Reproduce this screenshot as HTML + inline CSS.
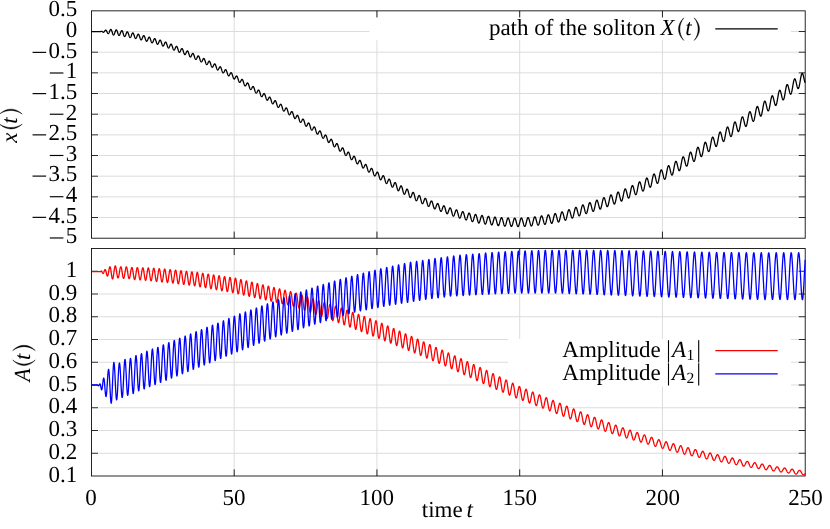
<!DOCTYPE html>
<html><head><meta charset="utf-8"><title>soliton</title>
<style>
html,body{margin:0;padding:0;background:#fff;}
body{width:830px;height:529px;overflow:hidden;font-family:"Liberation Serif",serif;}
svg{display:block;will-change:transform;}
svg text{text-rendering:geometricPrecision;}
</style></head>
<body>
<svg width="830" height="529" viewBox="0 0 830 529" font-family="'Liberation Serif', serif" font-size="23.0" fill="#000">
<rect width="830" height="529" fill="#fff"/>
<path d="M234.20,10.85V238.20M376.95,10.85V238.20M519.70,10.85V238.20M662.45,10.85V238.20M98.95,31.52H797.70M98.95,52.19H797.70M98.95,72.85H797.70M98.95,93.52H797.70M98.95,114.19H797.70M98.95,134.86H797.70M98.95,155.53H797.70M98.95,176.20H797.70M98.95,196.86H797.70M98.95,217.53H797.70" stroke="#dcdcdc" stroke-width="1.0" fill="none"/>
<rect x="369.4" y="17.2" width="421.60" height="23.00" fill="#fff"/>
<path d="M234.20,10.85v6.6M234.20,238.20v-6.6M376.95,10.85v6.6M376.95,238.20v-6.6M519.70,10.85v6.6M519.70,238.20v-6.6M662.45,10.85v6.6M662.45,238.20v-6.6M91.45,31.52h6.6M805.20,31.52h-6.6M91.45,52.19h6.6M805.20,52.19h-6.6M91.45,72.85h6.6M805.20,72.85h-6.6M91.45,93.52h6.6M805.20,93.52h-6.6M91.45,114.19h6.6M805.20,114.19h-6.6M91.45,134.86h6.6M805.20,134.86h-6.6M91.45,155.53h6.6M805.20,155.53h-6.6M91.45,176.20h6.6M805.20,176.20h-6.6M91.45,196.86h6.6M805.20,196.86h-6.6M91.45,217.53h6.6M805.20,217.53h-6.6" stroke="#000" stroke-width="0.85" fill="none"/>
<rect x="91.45" y="10.85" width="713.75" height="227.35" stroke="#000" stroke-width="0.85" fill="none"/>
<path d="M91.45,31.60 L91.65,31.60 L91.85,31.60 L92.05,31.60 L92.25,31.60 L92.45,31.60 L92.65,31.60 L92.85,31.60 L93.05,31.60 L93.25,31.60 L93.45,31.60 L93.65,31.60 L93.85,31.60 L94.05,31.60 L94.25,31.60 L94.45,31.60 L94.65,31.60 L94.85,31.60 L95.05,31.60 L95.25,31.60 L95.45,31.60 L95.65,31.60 L95.85,31.60 L96.05,31.60 L96.25,31.60 L96.45,31.60 L96.65,31.60 L96.85,31.60 L97.05,31.60 L97.25,31.60 L97.45,31.60 L97.65,31.60 L97.85,31.60 L98.05,31.60 L98.25,31.60 L98.45,31.60 L98.65,31.60 L98.85,31.60 L99.05,31.60 L99.25,31.60 L99.45,31.60 L99.65,31.60 L99.85,31.60 L100.05,31.55 L100.25,31.55 L100.45,31.55 L100.65,31.53 L100.85,31.47 L101.05,31.41 L101.25,31.36 L101.45,31.32 L101.65,31.33 L101.85,31.37 L102.05,31.46 L102.25,31.59 L102.45,31.74 L102.65,31.90 L102.85,32.05 L103.05,32.17 L103.25,32.24 L103.45,32.26 L103.65,32.21 L103.85,32.10 L104.05,31.92 L104.25,31.69 L104.45,31.42 L104.65,31.13 L104.85,30.84 L105.05,30.58 L105.25,30.37 L105.45,30.22 L105.65,30.15 L105.85,30.17 L106.05,30.28 L106.25,30.48 L106.45,30.77 L106.65,31.12 L106.85,31.52 L107.05,31.94 L107.25,32.36 L107.45,32.76 L107.65,33.11 L107.85,33.38 L108.05,33.55 L108.25,33.60 L108.45,33.53 L108.65,33.35 L108.85,33.07 L109.05,32.69 L109.25,32.24 L109.45,31.75 L109.65,31.24 L109.85,30.75 L110.05,30.29 L110.25,29.91 L110.45,29.62 L110.65,29.45 L110.85,29.41 L111.05,29.50 L111.25,29.73 L111.45,30.10 L111.65,30.57 L111.85,31.13 L112.05,31.77 L112.25,32.43 L112.45,33.07 L112.65,33.66 L112.85,34.18 L113.05,34.59 L113.25,34.88 L113.45,35.03 L113.65,35.03 L113.85,34.90 L114.05,34.63 L114.25,34.25 L114.45,33.77 L114.65,33.22 L114.85,32.63 L115.05,32.04 L115.25,31.46 L115.45,30.94 L115.65,30.50 L115.85,30.16 L116.05,29.94 L116.25,29.86 L116.45,29.91 L116.65,30.10 L116.85,30.42 L117.05,30.84 L117.25,31.36 L117.45,31.94 L117.65,32.56 L117.85,33.18 L118.05,33.77 L118.25,34.31 L118.45,34.77 L118.65,35.12 L118.85,35.35 L119.05,35.46 L119.25,35.42 L119.45,35.26 L119.65,34.97 L119.85,34.58 L120.05,34.11 L120.25,33.57 L120.45,33.01 L120.65,32.45 L120.85,31.92 L121.05,31.45 L121.25,31.07 L121.45,30.79 L121.65,30.64 L121.85,30.62 L122.05,30.74 L122.25,30.99 L122.45,31.36 L122.65,31.84 L122.85,32.40 L123.05,33.02 L123.25,33.66 L123.45,34.29 L123.65,34.89 L123.85,35.43 L124.05,35.88 L124.25,36.22 L124.45,36.43 L124.65,36.51 L124.85,36.45 L125.05,36.27 L125.25,35.96 L125.45,35.56 L125.65,35.07 L125.85,34.54 L126.05,33.99 L126.25,33.45 L126.45,32.95 L126.65,32.51 L126.85,32.17 L127.05,31.94 L127.25,31.84 L127.45,31.87 L127.65,32.03 L127.85,32.33 L128.05,32.73 L128.25,33.23 L128.45,33.80 L128.65,34.42 L128.85,35.05 L129.05,35.66 L129.25,36.22 L129.45,36.71 L129.65,37.11 L129.85,37.39 L130.05,37.54 L130.25,37.55 L130.45,37.44 L130.65,37.20 L130.85,36.85 L131.05,36.41 L131.25,35.90 L131.45,35.36 L131.65,34.81 L131.85,34.29 L132.05,33.82 L132.25,33.43 L132.45,33.13 L132.65,32.96 L132.85,32.92 L133.05,33.01 L133.25,33.23 L133.45,33.57 L133.65,34.01 L133.85,34.54 L134.05,35.12 L134.25,35.73 L134.45,36.35 L134.65,36.93 L134.85,37.45 L135.05,37.88 L135.25,38.22 L135.45,38.43 L135.65,38.51 L135.85,38.46 L136.05,38.29 L136.25,38.00 L136.45,37.62 L136.65,37.16 L136.85,36.66 L137.05,36.13 L137.25,35.62 L137.45,35.15 L137.65,34.74 L137.85,34.43 L138.05,34.23 L138.25,34.15 L138.45,34.20 L138.65,34.38 L138.85,34.69 L139.05,35.10 L139.25,35.61 L139.45,36.18 L139.65,36.79 L139.85,37.42 L140.05,38.02 L140.25,38.58 L140.45,39.06 L140.65,39.44 L140.85,39.71 L141.05,39.86 L141.25,39.87 L141.45,39.76 L141.65,39.53 L141.85,39.19 L142.05,38.77 L142.25,38.29 L142.45,37.78 L142.65,37.27 L142.85,36.79 L143.05,36.36 L143.25,36.01 L143.45,35.77 L143.65,35.64 L143.85,35.63 L144.05,35.76 L144.25,36.01 L144.45,36.37 L144.65,36.83 L144.85,37.37 L145.05,37.96 L145.25,38.58 L145.45,39.19 L145.65,39.76 L145.85,40.26 L146.05,40.69 L146.25,41.00 L146.45,41.20 L146.65,41.26 L146.85,41.20 L147.05,41.02 L147.25,40.73 L147.45,40.35 L147.65,39.90 L147.85,39.40 L148.05,38.90 L148.25,38.41 L148.45,37.97 L148.65,37.59 L148.85,37.32 L149.05,37.15 L149.25,37.11 L149.45,37.20 L149.65,37.42 L149.85,37.75 L150.05,38.19 L150.25,38.72 L150.45,39.30 L150.65,39.92 L150.85,40.54 L151.05,41.14 L151.25,41.68 L151.45,42.14 L151.65,42.50 L151.85,42.74 L152.05,42.85 L152.25,42.84 L152.45,42.69 L152.65,42.43 L152.85,42.07 L153.05,41.63 L153.25,41.14 L153.45,40.63 L153.65,40.12 L153.85,39.64 L154.05,39.23 L154.25,38.91 L154.45,38.69 L154.65,38.60 L154.85,38.63 L155.05,38.79 L155.25,39.08 L155.45,39.48 L155.65,39.97 L155.85,40.53 L156.05,41.13 L156.25,41.75 L156.45,42.35 L156.65,42.91 L156.85,43.40 L157.05,43.79 L157.25,44.07 L157.45,44.23 L157.65,44.25 L157.85,44.15 L158.05,43.94 L158.25,43.61 L158.45,43.20 L158.65,42.73 L158.85,42.23 L159.05,41.73 L159.25,41.25 L159.45,40.83 L159.65,40.49 L159.85,40.26 L160.05,40.14 L160.25,40.15 L160.45,40.29 L160.65,40.55 L160.85,40.94 L161.05,41.42 L161.25,41.98 L161.45,42.59 L161.65,43.23 L161.85,43.86 L162.05,44.45 L162.25,44.98 L162.45,45.42 L162.65,45.75 L162.85,45.96 L163.05,46.04 L163.25,45.99 L163.45,45.82 L163.65,45.54 L163.85,45.17 L164.05,44.73 L164.25,44.24 L164.45,43.75 L164.65,43.27 L164.85,42.84 L165.05,42.48 L165.25,42.22 L165.45,42.08 L165.65,42.05 L165.85,42.16 L166.05,42.40 L166.25,42.75 L166.45,43.21 L166.65,43.75 L166.85,44.36 L167.05,44.99 L167.25,45.63 L167.45,46.23 L167.65,46.79 L167.85,47.26 L168.05,47.63 L168.25,47.88 L168.45,48.00 L168.65,48.00 L168.85,47.87 L169.05,47.63 L169.25,47.28 L169.45,46.87 L169.65,46.40 L169.85,45.92 L170.05,45.44 L170.25,45.00 L170.45,44.62 L170.65,44.34 L170.85,44.16 L171.05,44.11 L171.25,44.18 L171.45,44.38 L171.65,44.71 L171.85,45.14 L172.05,45.66 L172.25,46.25 L172.45,46.88 L172.65,47.52 L172.85,48.14 L173.05,48.72 L173.25,49.22 L173.45,49.62 L173.65,49.91 L173.85,50.08 L174.05,50.12 L174.25,50.03 L174.45,49.82 L174.65,49.51 L174.85,49.12 L175.05,48.67 L175.25,48.20 L175.45,47.72 L175.65,47.27 L175.85,46.88 L176.05,46.58 L176.25,46.37 L176.45,46.29 L176.65,46.33 L176.85,46.49 L177.05,46.79 L177.25,47.19 L177.45,47.69 L177.65,48.27 L177.85,48.89 L178.05,49.53 L178.25,50.16 L178.45,50.75 L178.65,51.28 L178.85,51.71 L179.05,52.04 L179.25,52.25 L179.45,52.33 L179.65,52.28 L179.85,52.11 L180.05,51.83 L180.25,51.47 L180.45,51.04 L180.65,50.58 L180.85,50.11 L181.05,49.65 L181.25,49.25 L181.45,48.92 L181.65,48.69 L181.85,48.57 L182.05,48.58 L182.25,48.72 L182.45,48.98 L182.65,49.35 L182.85,49.83 L183.05,50.38 L183.25,51.00 L183.45,51.64 L183.65,52.27 L183.85,52.88 L184.05,53.43 L184.25,53.89 L184.45,54.25 L184.65,54.50 L184.85,54.62 L185.05,54.61 L185.25,54.48 L185.45,54.24 L185.65,53.90 L185.85,53.50 L186.05,53.05 L186.25,52.58 L186.45,52.12 L186.65,51.71 L186.85,51.36 L187.05,51.10 L187.25,50.96 L187.45,50.93 L187.65,51.03 L187.85,51.25 L188.05,51.60 L188.25,52.05 L188.45,52.59 L188.65,53.18 L188.85,53.82 L189.05,54.46 L189.25,55.08 L189.45,55.64 L189.65,56.14 L189.85,56.53 L190.05,56.81 L190.25,56.97 L190.45,57.00 L190.65,56.91 L190.85,56.71 L191.05,56.40 L191.25,56.02 L191.45,55.58 L191.65,55.12 L191.85,54.67 L192.05,54.24 L192.25,53.88 L192.45,53.60 L192.65,53.42 L192.85,53.36 L193.05,53.42 L193.25,53.61 L193.45,53.92 L193.65,54.35 L193.85,54.86 L194.05,55.44 L194.25,56.07 L194.45,56.71 L194.65,57.34 L194.85,57.92 L195.05,58.44 L195.25,58.86 L195.45,59.18 L195.65,59.38 L195.85,59.45 L196.05,59.40 L196.25,59.23 L196.45,58.96 L196.65,58.61 L196.85,58.19 L197.05,57.74 L197.25,57.28 L197.45,56.85 L197.65,56.47 L197.85,56.17 L198.05,55.96 L198.25,55.87 L198.45,55.90 L198.65,56.05 L198.85,56.33 L199.05,56.72 L199.25,57.21 L199.45,57.77 L199.65,58.38 L199.85,59.02 L200.05,59.66 L200.25,60.26 L200.45,60.80 L200.65,61.26 L200.85,61.61 L201.05,61.85 L201.25,61.97 L201.45,61.96 L201.65,61.83 L201.85,61.59 L202.05,61.26 L202.25,60.87 L202.45,60.43 L202.65,59.98 L202.85,59.54 L203.05,59.15 L203.25,58.83 L203.45,58.59 L203.65,58.47 L203.85,58.46 L204.05,58.58 L204.25,58.82 L204.45,59.18 L204.65,59.64 L204.85,60.18 L205.05,60.78 L205.25,61.41 L205.45,62.05 L205.65,62.66 L205.85,63.23 L206.05,63.71 L206.25,64.10 L206.45,64.38 L206.65,64.54 L206.85,64.57 L207.05,64.48 L207.25,64.29 L207.45,63.99 L207.65,63.62 L207.85,63.20 L208.05,62.76 L208.25,62.32 L208.45,61.92 L208.65,61.58 L208.85,61.32 L209.05,61.16 L209.25,61.12 L209.45,61.20 L209.65,61.40 L209.85,61.72 L210.05,62.15 L210.25,62.67 L210.45,63.25 L210.65,63.88 L210.85,64.51 L211.05,65.14 L211.25,65.72 L211.45,66.23 L211.65,66.66 L211.85,66.98 L212.05,67.18 L212.25,67.26 L212.45,67.21 L212.65,67.06 L212.85,66.80 L213.05,66.46 L213.25,66.06 L213.45,65.63 L213.65,65.20 L213.85,64.78 L214.05,64.43 L214.25,64.14 L214.45,63.95 L214.65,63.87 L214.85,63.91 L215.05,64.08 L215.25,64.36 L215.45,64.75 L215.65,65.24 L215.85,65.81 L216.05,66.42 L216.25,67.06 L216.45,67.69 L216.65,68.29 L216.85,68.83 L217.05,69.29 L217.25,69.65 L217.45,69.89 L217.65,70.02 L217.85,70.02 L218.05,69.91 L218.25,69.69 L218.45,69.38 L218.65,69.01 L218.85,68.59 L219.05,68.16 L219.25,67.75 L219.45,67.37 L219.65,67.07 L219.85,66.85 L220.05,66.73 L220.25,66.73 L220.45,66.86 L220.65,67.10 L220.85,67.46 L221.05,67.91 L221.25,68.45 L221.45,69.05 L221.65,69.68 L221.85,70.32 L222.05,70.93 L222.25,71.49 L222.45,71.99 L222.65,72.39 L222.85,72.68 L223.05,72.85 L223.25,72.90 L223.45,72.83 L223.65,72.66 L223.85,72.39 L224.05,72.05 L224.25,71.65 L224.45,71.23 L224.65,70.82 L224.85,70.43 L225.05,70.10 L225.25,69.85 L225.45,69.70 L225.65,69.66 L225.85,69.74 L226.05,69.94 L226.25,70.26 L226.45,70.68 L226.65,71.19 L226.85,71.77 L227.05,72.39 L227.25,73.03 L227.45,73.65 L227.65,74.24 L227.85,74.76 L228.05,75.20 L228.25,75.54 L228.45,75.76 L228.65,75.86 L228.85,75.85 L229.05,75.72 L229.25,75.49 L229.45,75.18 L229.65,74.81 L229.85,74.41 L230.05,74.00 L230.25,73.61 L230.45,73.26 L230.65,72.99 L230.85,72.80 L231.05,72.73 L231.25,72.76 L231.45,72.92 L231.65,73.20 L231.85,73.58 L232.05,74.06 L232.25,74.62 L232.45,75.23 L232.65,75.87 L232.85,76.50 L233.05,77.11 L233.25,77.67 L233.45,78.15 L233.65,78.54 L233.85,78.81 L234.05,78.98 L234.25,79.02 L234.45,78.95 L234.65,78.77 L234.85,78.50 L235.05,78.17 L235.25,77.79 L235.45,77.39 L235.65,76.99 L235.85,76.63 L236.05,76.33 L236.25,76.12 L236.45,76.00 L236.65,75.99 L236.85,76.10 L237.05,76.34 L237.25,76.68 L237.45,77.13 L237.65,77.66 L237.85,78.26 L238.05,78.90 L238.25,79.54 L238.45,80.18 L238.65,80.77 L238.85,81.30 L239.05,81.74 L239.25,82.07 L239.45,82.29 L239.65,82.40 L239.85,82.38 L240.05,82.25 L240.25,82.03 L240.45,81.72 L240.65,81.36 L240.85,80.97 L241.05,80.57 L241.25,80.19 L241.45,79.86 L241.65,79.61 L241.85,79.45 L242.05,79.39 L242.25,79.45 L242.45,79.64 L242.65,79.94 L242.85,80.35 L243.05,80.85 L243.25,81.43 L243.45,82.06 L243.65,82.71 L243.85,83.36 L244.05,83.99 L244.25,84.55 L244.45,85.04 L244.65,85.44 L244.85,85.72 L245.05,85.88 L245.25,85.92 L245.45,85.85 L245.65,85.67 L245.85,85.40 L246.05,85.06 L246.25,84.68 L246.45,84.28 L246.65,83.89 L246.85,83.53 L247.05,83.24 L247.25,83.03 L247.45,82.93 L247.65,82.93 L247.85,83.06 L248.05,83.31 L248.25,83.67 L248.45,84.13 L248.65,84.68 L248.85,85.29 L249.05,85.95 L249.25,86.61 L249.45,87.25 L249.65,87.86 L249.85,88.39 L250.05,88.84 L250.25,89.18 L250.45,89.41 L250.65,89.51 L250.85,89.50 L251.05,89.37 L251.25,89.14 L251.45,88.83 L251.65,88.47 L251.85,88.07 L252.05,87.67 L252.25,87.29 L252.45,86.96 L252.65,86.70 L252.85,86.54 L253.05,86.49 L253.25,86.55 L253.45,86.74 L253.65,87.04 L253.85,87.45 L254.05,87.96 L254.25,88.55 L254.45,89.19 L254.65,89.85 L254.85,90.51 L255.05,91.15 L255.25,91.72 L255.45,92.22 L255.65,92.62 L255.85,92.91 L256.05,93.08 L256.25,93.13 L256.45,93.06 L256.65,92.88 L256.85,92.61 L257.05,92.27 L257.25,91.88 L257.45,91.47 L257.65,91.07 L257.85,90.71 L258.05,90.40 L258.25,90.18 L258.45,90.06 L258.65,90.06 L258.85,90.17 L259.05,90.41 L259.25,90.77 L259.45,91.22 L259.65,91.77 L259.85,92.38 L260.05,93.04 L260.25,93.70 L260.45,94.36 L260.65,94.97 L260.85,95.52 L261.05,95.98 L261.25,96.33 L261.45,96.57 L261.65,96.69 L261.85,96.68 L262.05,96.56 L262.25,96.33 L262.45,96.03 L262.65,95.66 L262.85,95.25 L263.05,94.84 L263.25,94.45 L263.45,94.10 L263.65,93.82 L263.85,93.64 L264.05,93.56 L264.25,93.60 L264.45,93.77 L264.65,94.05 L264.85,94.45 L265.05,94.95 L265.25,95.53 L265.45,96.17 L265.65,96.83 L265.85,97.50 L266.05,98.15 L266.25,98.74 L266.45,99.26 L266.65,99.68 L266.85,99.99 L267.05,100.18 L267.25,100.25 L267.45,100.20 L267.65,100.04 L267.85,99.78 L268.05,99.44 L268.25,99.05 L268.45,98.64 L268.65,98.23 L268.85,97.84 L269.05,97.52 L269.25,97.27 L269.45,97.12 L269.65,97.09 L269.85,97.17 L270.05,97.38 L270.25,97.71 L270.45,98.15 L270.65,98.69 L270.85,99.29 L271.05,99.95 L271.25,100.62 L271.45,101.29 L271.65,101.92 L271.85,102.50 L272.05,102.99 L272.25,103.38 L272.45,103.65 L272.65,103.80 L272.85,103.83 L273.05,103.74 L273.25,103.54 L273.45,103.25 L273.65,102.89 L273.85,102.49 L274.05,102.07 L274.25,101.66 L274.45,101.29 L274.65,100.98 L274.85,100.76 L275.05,100.65 L275.25,100.65 L275.45,100.78 L275.65,101.03 L275.85,101.40 L276.05,101.87 L276.25,102.43 L276.45,103.06 L276.65,103.73 L276.85,104.41 L277.05,105.08 L277.25,105.70 L277.45,106.25 L277.65,106.72 L277.85,107.08 L278.05,107.32 L278.25,107.43 L278.45,107.42 L278.65,107.30 L278.85,107.07 L279.05,106.76 L279.25,106.38 L279.45,105.97 L279.65,105.55 L279.85,105.15 L280.05,104.79 L280.25,104.50 L280.45,104.31 L280.65,104.23 L280.85,104.27 L281.05,104.43 L281.25,104.71 L281.45,105.11 L281.65,105.61 L281.85,106.20 L282.05,106.84 L282.25,107.52 L282.45,108.21 L282.65,108.87 L282.85,109.48 L283.05,110.02 L283.25,110.46 L283.45,110.80 L283.65,111.01 L283.85,111.09 L284.05,111.06 L284.25,110.91 L284.45,110.66 L284.65,110.33 L284.85,109.94 L285.05,109.52 L285.25,109.10 L285.45,108.70 L285.65,108.36 L285.85,108.09 L286.05,107.92 L286.25,107.86 L286.45,107.93 L286.65,108.12 L286.85,108.43 L287.05,108.86 L287.25,109.38 L287.45,109.98 L287.65,110.64 L287.85,111.33 L288.05,112.02 L288.25,112.68 L288.45,113.28 L288.65,113.81 L288.85,114.23 L289.05,114.55 L289.25,114.74 L289.45,114.80 L289.65,114.75 L289.85,114.58 L290.05,114.31 L290.25,113.97 L290.45,113.57 L290.65,113.15 L290.85,112.73 L291.05,112.34 L291.25,112.00 L291.45,111.75 L291.65,111.60 L291.85,111.56 L292.05,111.64 L292.25,111.86 L292.45,112.19 L292.65,112.64 L292.85,113.18 L293.05,113.80 L293.25,114.46 L293.45,115.16 L293.65,115.85 L293.85,116.51 L294.05,117.11 L294.25,117.62 L294.45,118.04 L294.65,118.34 L294.85,118.52 L295.05,118.57 L295.25,118.50 L295.45,118.32 L295.65,118.04 L295.85,117.69 L296.05,117.29 L296.25,116.86 L296.45,116.44 L296.65,116.05 L296.85,115.72 L297.05,115.48 L297.25,115.34 L297.45,115.31 L297.65,115.41 L297.85,115.64 L298.05,115.98 L298.25,116.44 L298.45,116.99 L298.65,117.62 L298.85,118.30 L299.05,119.00 L299.25,119.69 L299.45,120.35 L299.65,120.95 L299.85,121.46 L300.05,121.88 L300.25,122.17 L300.45,122.34 L300.65,122.39 L300.85,122.31 L301.05,122.12 L301.25,121.84 L301.45,121.48 L301.65,121.08 L301.85,120.65 L302.05,120.23 L302.25,119.84 L302.45,119.52 L302.65,119.28 L302.85,119.14 L303.05,119.12 L303.25,119.22 L303.45,119.45 L303.65,119.80 L303.85,120.26 L304.05,120.82 L304.25,121.46 L304.45,122.14 L304.65,122.84 L304.85,123.54 L305.05,124.20 L305.25,124.81 L305.45,125.33 L305.65,125.74 L305.85,126.04 L306.05,126.21 L306.25,126.26 L306.45,126.19 L306.65,126.00 L306.85,125.72 L307.05,125.36 L307.25,124.95 L307.45,124.53 L307.65,124.10 L307.85,123.71 L308.05,123.39 L308.25,123.14 L308.45,123.00 L308.65,122.97 L308.85,123.07 L309.05,123.30 L309.25,123.65 L309.45,124.11 L309.65,124.67 L309.85,125.30 L310.05,125.99 L310.25,126.70 L310.45,127.40 L310.65,128.07 L310.85,128.68 L311.05,129.21 L311.25,129.64 L311.45,129.95 L311.65,130.14 L311.85,130.20 L312.05,130.13 L312.25,129.95 L312.45,129.68 L312.65,129.33 L312.85,128.93 L313.05,128.50 L313.25,128.07 L313.45,127.68 L313.65,127.34 L313.85,127.08 L314.05,126.93 L314.25,126.89 L314.45,126.98 L314.65,127.19 L314.85,127.53 L315.05,127.99 L315.25,128.54 L315.45,129.17 L315.65,129.85 L315.85,130.56 L316.05,131.28 L316.25,131.96 L316.45,132.58 L316.65,133.13 L316.85,133.58 L317.05,133.91 L317.25,134.12 L317.45,134.20 L317.65,134.15 L317.85,134.00 L318.05,133.74 L318.25,133.39 L318.45,133.00 L318.65,132.57 L318.85,132.14 L319.05,131.74 L319.25,131.39 L319.45,131.12 L319.65,130.94 L319.85,130.89 L320.05,130.95 L320.25,131.14 L320.45,131.46 L320.65,131.89 L320.85,132.43 L321.05,133.05 L321.25,133.73 L321.45,134.45 L321.65,135.16 L321.85,135.86 L322.05,136.51 L322.25,137.08 L322.45,137.55 L322.65,137.92 L322.85,138.16 L323.05,138.27 L323.25,138.26 L323.45,138.13 L323.65,137.89 L323.85,137.57 L324.05,137.19 L324.25,136.77 L324.45,136.34 L324.65,135.93 L324.85,135.56 L325.05,135.27 L325.25,135.07 L325.45,134.98 L325.65,135.02 L325.85,135.18 L326.05,135.47 L326.25,135.88 L326.45,136.39 L326.65,137.00 L326.85,137.67 L327.05,138.39 L327.25,139.12 L327.45,139.83 L327.65,140.50 L327.85,141.11 L328.05,141.62 L328.25,142.03 L328.45,142.32 L328.65,142.48 L328.85,142.51 L329.05,142.42 L329.25,142.22 L329.45,141.93 L329.65,141.56 L329.85,141.15 L330.05,140.72 L330.25,140.30 L330.45,139.92 L330.65,139.60 L330.85,139.37 L331.05,139.25 L331.25,139.24 L331.45,139.36 L331.65,139.60 L331.85,139.97 L332.05,140.46 L332.25,141.04 L332.45,141.69 L332.65,142.40 L332.85,143.13 L333.05,143.86 L333.25,144.56 L333.45,145.20 L333.65,145.75 L333.85,146.21 L334.05,146.55 L334.25,146.76 L334.45,146.85 L334.65,146.81 L334.85,146.65 L335.05,146.40 L335.25,146.06 L335.45,145.67 L335.65,145.24 L335.85,144.81 L336.05,144.41 L336.25,144.06 L336.45,143.78 L336.65,143.61 L336.85,143.54 L337.05,143.61 L337.25,143.79 L337.45,144.11 L337.65,144.54 L337.85,145.08 L338.05,145.71 L338.25,146.40 L338.45,147.12 L338.65,147.86 L338.85,148.58 L339.05,149.25 L339.25,149.85 L339.45,150.36 L339.65,150.76 L339.85,151.03 L340.05,151.18 L340.25,151.21 L340.45,151.11 L340.65,150.90 L340.85,150.60 L341.05,150.22 L341.25,149.81 L341.45,149.37 L341.65,148.95 L341.85,148.56 L342.05,148.24 L342.25,148.01 L342.45,147.88 L342.65,147.86 L342.85,147.98 L343.05,148.22 L343.25,148.59 L343.45,149.07 L343.65,149.65 L343.85,150.30 L344.05,151.01 L344.25,151.74 L344.45,152.47 L344.65,153.17 L344.85,153.82 L345.05,154.38 L345.25,154.85 L345.45,155.20 L345.65,155.42 L345.85,155.51 L346.05,155.48 L346.25,155.33 L346.45,155.08 L346.65,154.74 L346.85,154.34 L347.05,153.91 L347.25,153.47 L347.45,153.05 L347.65,152.68 L347.85,152.37 L348.05,152.17 L348.25,152.07 L348.45,152.10 L348.65,152.25 L348.85,152.53 L349.05,152.94 L349.25,153.45 L349.45,154.05 L349.65,154.72 L349.85,155.44 L350.05,156.17 L350.25,156.90 L350.45,157.58 L350.65,158.20 L350.85,158.74 L351.05,159.17 L351.25,159.48 L351.45,159.66 L351.65,159.71 L351.85,159.64 L352.05,159.46 L352.25,159.18 L352.45,158.82 L352.65,158.40 L352.85,157.96 L353.05,157.52 L353.25,157.10 L353.45,156.75 L353.65,156.46 L353.85,156.28 L354.05,156.21 L354.25,156.27 L354.45,156.45 L354.65,156.76 L354.85,157.19 L355.05,157.73 L355.25,158.35 L355.45,159.04 L355.65,159.76 L355.85,160.50 L356.05,161.21 L356.25,161.89 L356.45,162.50 L356.65,163.01 L356.85,163.42 L357.05,163.70 L357.25,163.86 L357.45,163.89 L357.65,163.80 L357.85,163.60 L358.05,163.30 L358.25,162.92 L358.45,162.50 L358.65,162.05 L358.85,161.60 L359.05,161.19 L359.25,160.84 L359.45,160.57 L359.65,160.40 L359.85,160.34 L360.05,160.41 L360.25,160.61 L360.45,160.93 L360.65,161.37 L360.85,161.92 L361.05,162.55 L361.25,163.24 L361.45,163.96 L361.65,164.70 L361.85,165.41 L362.05,166.08 L362.25,166.68 L362.45,167.19 L362.65,167.58 L362.85,167.86 L363.05,168.01 L363.25,168.02 L363.45,167.92 L363.65,167.71 L363.85,167.40 L364.05,167.01 L364.25,166.58 L364.45,166.13 L364.65,165.68 L364.85,165.26 L365.05,164.91 L365.25,164.63 L365.45,164.46 L365.65,164.40 L365.85,164.47 L366.05,164.66 L366.25,164.98 L366.45,165.42 L366.65,165.96 L366.85,166.59 L367.05,167.27 L367.25,168.00 L367.45,168.73 L367.65,169.44 L367.85,170.11 L368.05,170.71 L368.25,171.22 L368.45,171.62 L368.65,171.89 L368.85,172.04 L369.05,172.06 L369.25,171.96 L369.45,171.75 L369.65,171.44 L369.85,171.05 L370.05,170.62 L370.25,170.16 L370.45,169.70 L370.65,169.27 L370.85,168.90 L371.05,168.61 L371.25,168.42 L371.45,168.34 L371.65,168.39 L371.85,168.56 L372.05,168.86 L372.25,169.28 L372.45,169.80 L372.65,170.41 L372.85,171.09 L373.05,171.81 L373.25,172.54 L373.45,173.25 L373.65,173.92 L373.85,174.53 L374.05,175.05 L374.25,175.46 L374.45,175.75 L374.65,175.92 L374.85,175.96 L375.05,175.87 L375.25,175.67 L375.45,175.37 L375.65,174.99 L375.85,174.56 L376.05,174.09 L376.25,173.62 L376.45,173.18 L376.65,172.79 L376.85,172.47 L377.05,172.24 L377.25,172.13 L377.45,172.13 L377.65,172.27 L377.85,172.53 L378.05,172.91 L378.25,173.40 L378.45,173.99 L378.65,174.65 L378.85,175.36 L379.05,176.10 L379.25,176.82 L379.45,177.52 L379.65,178.15 L379.85,178.71 L380.05,179.16 L380.25,179.49 L380.45,179.70 L380.65,179.78 L380.85,179.72 L381.05,179.55 L381.25,179.27 L381.45,178.90 L381.65,178.46 L381.85,177.98 L382.05,177.48 L382.25,177.00 L382.45,176.56 L382.65,176.19 L382.85,175.91 L383.05,175.73 L383.25,175.68 L383.45,175.76 L383.65,175.97 L383.85,176.31 L384.05,176.77 L384.25,177.34 L384.45,177.99 L384.65,178.70 L384.85,179.45 L385.05,180.20 L385.25,180.93 L385.45,181.61 L385.65,182.22 L385.85,182.73 L386.05,183.12 L386.25,183.39 L386.45,183.52 L386.65,183.52 L386.85,183.39 L387.05,183.13 L387.25,182.78 L387.45,182.35 L387.65,181.86 L387.85,181.34 L388.05,180.82 L388.25,180.33 L388.45,179.89 L388.65,179.54 L388.85,179.29 L389.05,179.16 L389.25,179.17 L389.45,179.31 L389.65,179.58 L389.85,179.99 L390.05,180.51 L390.25,181.13 L390.45,181.83 L390.65,182.58 L390.85,183.35 L391.05,184.12 L391.25,184.85 L391.45,185.52 L391.65,186.10 L391.85,186.57 L392.05,186.92 L392.25,187.13 L392.45,187.20 L392.65,187.14 L392.85,186.94 L393.05,186.63 L393.25,186.22 L393.45,185.74 L393.65,185.21 L393.85,184.66 L394.05,184.12 L394.25,183.62 L394.45,183.19 L394.65,182.85 L394.85,182.63 L395.05,182.53 L395.25,182.57 L395.45,182.75 L395.65,183.07 L395.85,183.53 L396.05,184.09 L396.25,184.76 L396.45,185.49 L396.65,186.27 L396.85,187.06 L397.05,187.84 L397.25,188.58 L397.45,189.24 L397.65,189.81 L397.85,190.25 L398.05,190.57 L398.25,190.75 L398.45,190.78 L398.65,190.67 L398.85,190.43 L399.05,190.07 L399.25,189.62 L399.45,189.10 L399.65,188.54 L399.85,187.96 L400.05,187.40 L400.25,186.89 L400.45,186.45 L400.65,186.12 L400.85,185.90 L401.05,185.81 L401.25,185.88 L401.45,186.08 L401.65,186.43 L401.85,186.91 L402.05,187.51 L402.25,188.20 L402.45,188.96 L402.65,189.76 L402.85,190.57 L403.05,191.37 L403.25,192.11 L403.45,192.78 L403.65,193.34 L403.85,193.79 L404.05,194.09 L404.25,194.25 L404.45,194.26 L404.65,194.12 L404.85,193.86 L405.05,193.47 L405.25,193.00 L405.45,192.45 L405.65,191.87 L405.85,191.27 L406.05,190.70 L406.25,190.18 L406.45,189.74 L406.65,189.40 L406.85,189.18 L407.05,189.10 L407.25,189.16 L407.45,189.37 L407.65,189.72 L407.85,190.20 L408.05,190.80 L408.25,191.49 L408.45,192.25 L408.65,193.06 L408.85,193.87 L409.05,194.66 L409.25,195.40 L409.45,196.06 L409.65,196.63 L409.85,197.07 L410.05,197.38 L410.25,197.54 L410.45,197.56 L410.65,197.44 L410.85,197.18 L411.05,196.81 L411.25,196.34 L411.45,195.81 L411.65,195.23 L411.85,194.64 L412.05,194.06 L412.25,193.53 L412.45,193.08 L412.65,192.72 L412.85,192.48 L413.05,192.38 L413.25,192.41 L413.45,192.59 L413.65,192.92 L413.85,193.37 L414.05,193.94 L414.25,194.60 L414.45,195.34 L414.65,196.13 L414.85,196.93 L415.05,197.71 L415.25,198.46 L415.45,199.13 L415.65,199.71 L415.85,200.17 L416.05,200.51 L416.25,200.70 L416.45,200.75 L416.65,200.66 L416.85,200.43 L417.05,200.09 L417.25,199.65 L417.45,199.13 L417.65,198.55 L417.85,197.96 L418.05,197.38 L418.25,196.83 L418.45,196.35 L418.65,195.96 L418.85,195.67 L419.05,195.52 L419.25,195.50 L419.45,195.62 L419.65,195.88 L419.85,196.28 L420.05,196.80 L420.25,197.42 L420.45,198.12 L420.65,198.87 L420.85,199.66 L421.05,200.44 L421.25,201.19 L421.45,201.88 L421.65,202.48 L421.85,202.98 L422.05,203.36 L422.25,203.61 L422.45,203.71 L422.65,203.67 L422.85,203.49 L423.05,203.20 L423.25,202.79 L423.45,202.30 L423.65,201.74 L423.85,201.15 L424.05,200.56 L424.25,199.99 L424.45,199.47 L424.65,199.02 L424.85,198.68 L425.05,198.45 L425.25,198.35 L425.45,198.39 L425.65,198.57 L425.85,198.88 L426.05,199.32 L426.25,199.88 L426.45,200.52 L426.65,201.24 L426.85,202.00 L427.05,202.77 L427.25,203.53 L427.45,204.24 L427.65,204.89 L427.85,205.44 L428.05,205.89 L428.25,206.20 L428.45,206.38 L428.65,206.43 L428.85,206.33 L429.05,206.11 L429.25,205.76 L429.45,205.32 L429.65,204.80 L429.85,204.23 L430.05,203.64 L430.25,203.05 L430.45,202.49 L430.65,201.99 L430.85,201.57 L431.05,201.25 L431.25,201.06 L431.45,201.00 L431.65,201.07 L431.85,201.28 L432.05,201.63 L432.25,202.09 L432.45,202.66 L432.65,203.32 L432.85,204.03 L433.05,204.78 L433.25,205.54 L433.45,206.28 L433.65,206.97 L433.85,207.59 L434.05,208.11 L434.25,208.52 L434.45,208.80 L434.65,208.95 L434.85,208.96 L435.05,208.83 L435.25,208.58 L435.45,208.22 L435.65,207.76 L435.85,207.23 L436.05,206.66 L436.25,206.06 L436.45,205.47 L436.65,204.92 L436.85,204.43 L437.05,204.02 L437.25,203.72 L437.45,203.54 L437.65,203.48 L437.85,203.57 L438.05,203.79 L438.25,204.13 L438.45,204.60 L438.65,205.17 L438.85,205.82 L439.05,206.53 L439.25,207.27 L439.45,208.02 L439.65,208.74 L439.85,209.42 L440.05,210.02 L440.25,210.54 L440.45,210.94 L440.65,211.22 L440.85,211.36 L441.05,211.37 L441.25,211.24 L441.45,210.99 L441.65,210.62 L441.85,210.16 L442.05,209.63 L442.25,209.05 L442.45,208.45 L442.65,207.85 L442.85,207.29 L443.05,206.78 L443.25,206.36 L443.45,206.04 L443.65,205.84 L443.85,205.76 L444.05,205.83 L444.25,206.03 L444.45,206.37 L444.65,206.82 L444.85,207.39 L445.05,208.04 L445.25,208.75 L445.45,209.50 L445.65,210.26 L445.85,211.01 L446.05,211.71 L446.25,212.34 L446.45,212.88 L446.65,213.30 L446.85,213.61 L447.05,213.77 L447.25,213.80 L447.45,213.69 L447.65,213.44 L447.85,213.09 L448.05,212.63 L448.25,212.09 L448.45,211.49 L448.65,210.87 L448.85,210.24 L449.05,209.65 L449.25,209.10 L449.45,208.64 L449.65,208.28 L449.85,208.03 L450.05,207.92 L450.25,207.94 L450.45,208.11 L450.65,208.41 L450.85,208.84 L451.05,209.38 L451.25,210.02 L451.45,210.73 L451.65,211.49 L451.85,212.26 L452.05,213.03 L452.25,213.76 L452.45,214.42 L452.65,215.00 L452.85,215.47 L453.05,215.82 L453.25,216.03 L453.45,216.10 L453.65,216.03 L453.85,215.82 L454.05,215.48 L454.25,215.04 L454.45,214.50 L454.65,213.90 L454.85,213.26 L455.05,212.61 L455.25,211.97 L455.45,211.38 L455.65,210.85 L455.85,210.42 L456.05,210.11 L456.25,209.92 L456.45,209.87 L456.65,209.97 L456.85,210.21 L457.05,210.58 L457.25,211.07 L457.45,211.67 L457.65,212.36 L457.85,213.11 L458.05,213.89 L458.25,214.67 L458.45,215.43 L458.65,216.14 L458.85,216.77 L459.05,217.30 L459.25,217.72 L459.45,218.00 L459.65,218.13 L459.85,218.13 L460.05,217.97 L460.25,217.69 L460.45,217.28 L460.65,216.77 L460.85,216.18 L461.05,215.53 L461.25,214.85 L461.45,214.17 L461.65,213.52 L461.85,212.93 L462.05,212.42 L462.25,212.01 L462.45,211.73 L462.65,211.58 L462.85,211.58 L463.05,211.72 L463.25,212.01 L463.45,212.43 L463.65,212.97 L463.85,213.61 L464.05,214.33 L464.25,215.11 L464.45,215.90 L464.65,216.70 L464.85,217.46 L465.05,218.16 L465.25,218.77 L465.45,219.28 L465.65,219.65 L465.85,219.89 L466.05,219.99 L466.25,219.93 L466.45,219.73 L466.65,219.40 L466.85,218.95 L467.05,218.39 L467.25,217.76 L467.45,217.08 L467.65,216.37 L467.85,215.68 L468.05,215.02 L468.25,214.42 L468.45,213.91 L468.65,213.51 L468.85,213.24 L469.05,213.11 L469.25,213.13 L469.45,213.29 L469.65,213.61 L469.85,214.05 L470.05,214.62 L470.25,215.28 L470.45,216.03 L470.65,216.82 L470.85,217.63 L471.05,218.43 L471.25,219.20 L471.45,219.89 L471.65,220.50 L471.85,221.00 L472.05,221.36 L472.25,221.59 L472.45,221.66 L472.65,221.58 L472.85,221.35 L473.05,220.99 L473.25,220.51 L473.45,219.93 L473.65,219.27 L473.85,218.56 L474.05,217.82 L474.25,217.10 L474.45,216.41 L474.65,215.80 L474.85,215.27 L475.05,214.85 L475.25,214.57 L475.45,214.42 L475.65,214.43 L475.85,214.59 L476.05,214.90 L476.25,215.35 L476.45,215.92 L476.65,216.59 L476.85,217.33 L477.05,218.13 L477.25,218.95 L477.45,219.77 L477.65,220.54 L477.85,221.25 L478.05,221.87 L478.25,222.37 L478.45,222.74 L478.65,222.97 L478.85,223.04 L479.05,222.96 L479.25,222.73 L479.45,222.36 L479.65,221.87 L479.85,221.27 L480.05,220.60 L480.25,219.87 L480.45,219.12 L480.65,218.37 L480.85,217.66 L481.05,217.01 L481.25,216.45 L481.45,216.00 L481.65,215.68 L481.85,215.51 L482.05,215.48 L482.25,215.61 L482.45,215.89 L482.65,216.31 L482.85,216.85 L483.05,217.50 L483.25,218.23 L483.45,219.02 L483.65,219.84 L483.85,220.65 L484.05,221.43 L484.25,222.16 L484.45,222.79 L484.65,223.32 L484.85,223.72 L485.05,223.98 L485.25,224.09 L485.45,224.04 L485.65,223.85 L485.85,223.51 L486.05,223.05 L486.25,222.47 L486.45,221.81 L486.65,221.08 L486.85,220.33 L487.05,219.57 L487.25,218.83 L487.45,218.15 L487.65,217.55 L487.85,217.06 L488.05,216.69 L488.25,216.45 L488.45,216.37 L488.65,216.44 L488.85,216.66 L489.05,217.02 L489.25,217.51 L489.45,218.12 L489.65,218.82 L489.85,219.58 L490.05,220.39 L490.25,221.20 L490.45,222.00 L490.65,222.75 L490.85,223.42 L491.05,223.99 L491.25,224.44 L491.45,224.76 L491.65,224.93 L491.85,224.95 L492.05,224.82 L492.25,224.54 L492.45,224.12 L492.65,223.59 L492.85,222.96 L493.05,222.25 L493.25,221.50 L493.45,220.73 L493.65,219.97 L493.85,219.25 L494.05,218.60 L494.25,218.04 L494.45,217.59 L494.65,217.28 L494.85,217.11 L495.05,217.09 L495.25,217.22 L495.45,217.50 L495.65,217.92 L495.85,218.46 L496.05,219.10 L496.25,219.83 L496.45,220.61 L496.65,221.42 L496.85,222.23 L497.05,223.01 L497.25,223.72 L497.45,224.36 L497.65,224.88 L497.85,225.28 L498.05,225.54 L498.25,225.65 L498.45,225.61 L498.65,225.42 L498.85,225.08 L499.05,224.62 L499.25,224.04 L499.45,223.38 L499.65,222.65 L499.85,221.88 L500.05,221.10 L500.25,220.35 L500.45,219.64 L500.65,219.01 L500.85,218.47 L501.05,218.06 L501.25,217.78 L501.45,217.64 L501.65,217.66 L501.85,217.83 L502.05,218.14 L502.25,218.59 L502.45,219.16 L502.65,219.82 L502.85,220.56 L503.05,221.35 L503.25,222.15 L503.45,222.95 L503.65,223.71 L503.85,224.41 L504.05,225.01 L504.25,225.50 L504.45,225.87 L504.65,226.09 L504.85,226.16 L505.05,226.09 L505.25,225.86 L505.45,225.49 L505.65,225.00 L505.85,224.39 L506.05,223.71 L506.25,222.96 L506.45,222.18 L506.65,221.39 L506.85,220.63 L507.05,219.92 L507.25,219.29 L507.45,218.77 L507.65,218.36 L507.85,218.09 L508.05,217.96 L508.25,217.99 L508.45,218.16 L508.65,218.48 L508.85,218.94 L509.05,219.51 L509.25,220.17 L509.45,220.91 L509.65,221.70 L509.85,222.50 L510.05,223.30 L510.25,224.05 L510.45,224.74 L510.65,225.34 L510.85,225.83 L511.05,226.19 L511.25,226.41 L511.45,226.48 L511.65,226.39 L511.85,226.16 L512.05,225.79 L512.25,225.29 L512.45,224.69 L512.65,224.00 L512.85,223.24 L513.05,222.46 L513.25,221.66 L513.45,220.89 L513.65,220.17 L513.85,219.53 L514.05,218.99 L514.25,218.57 L514.45,218.28 L514.65,218.14 L514.85,218.14 L515.05,218.30 L515.25,218.60 L515.45,219.03 L515.65,219.59 L515.85,220.24 L516.05,220.97 L516.25,221.74 L516.45,222.54 L516.65,223.33 L516.85,224.09 L517.05,224.78 L517.25,225.39 L517.45,225.89 L517.65,226.26 L517.85,226.49 L518.05,226.57 L518.25,226.51 L518.45,226.29 L518.65,225.93 L518.85,225.45 L519.05,224.85 L519.25,224.16 L519.45,223.41 L519.65,222.61 L519.85,221.81 L520.05,221.02 L520.25,220.27 L520.45,219.60 L520.65,219.02 L520.85,218.55 L521.05,218.22 L521.25,218.03 L521.45,217.98 L521.65,218.09 L521.85,218.35 L522.05,218.74 L522.25,219.26 L522.45,219.88 L522.65,220.58 L522.85,221.34 L523.05,222.13 L523.25,222.93 L523.45,223.69 L523.65,224.41 L523.85,225.04 L524.05,225.58 L524.25,225.99 L524.45,226.27 L524.65,226.40 L524.85,226.38 L525.05,226.21 L525.25,225.89 L525.45,225.44 L525.65,224.87 L525.85,224.21 L526.05,223.46 L526.25,222.67 L526.45,221.85 L526.65,221.04 L526.85,220.26 L527.05,219.54 L527.25,218.91 L527.45,218.38 L527.65,217.98 L527.85,217.72 L528.05,217.60 L528.25,217.64 L528.45,217.83 L528.65,218.15 L528.85,218.61 L529.05,219.18 L529.25,219.85 L529.45,220.59 L529.65,221.37 L529.85,222.16 L530.05,222.94 L530.25,223.68 L530.45,224.35 L530.65,224.94 L530.85,225.40 L531.05,225.74 L531.25,225.94 L531.45,225.99 L531.65,225.88 L531.85,225.62 L532.05,225.22 L532.25,224.70 L532.45,224.06 L532.65,223.33 L532.85,222.54 L533.05,221.70 L533.25,220.86 L533.45,220.04 L533.65,219.26 L533.85,218.55 L534.05,217.94 L534.25,217.44 L534.45,217.08 L534.65,216.86 L534.85,216.79 L535.05,216.88 L535.25,217.11 L535.45,217.49 L535.65,217.99 L535.85,218.59 L536.05,219.29 L536.25,220.05 L536.45,220.84 L536.65,221.63 L536.85,222.41 L537.05,223.13 L537.25,223.78 L537.45,224.33 L537.65,224.76 L537.85,225.05 L538.05,225.20 L538.25,225.20 L538.45,225.05 L538.65,224.74 L538.85,224.30 L539.05,223.73 L539.25,223.06 L539.45,222.30 L539.65,221.48 L539.85,220.63 L540.05,219.78 L540.25,218.96 L540.45,218.18 L540.65,217.49 L540.85,216.90 L541.05,216.43 L541.25,216.09 L541.45,215.90 L541.65,215.87 L541.85,215.99 L542.05,216.25 L542.25,216.66 L542.45,217.18 L542.65,217.81 L542.85,218.53 L543.05,219.30 L543.25,220.10 L543.45,220.90 L543.65,221.67 L543.85,222.39 L544.05,223.03 L544.25,223.56 L544.45,223.97 L544.65,224.25 L544.85,224.38 L545.05,224.35 L545.25,224.17 L545.45,223.84 L545.65,223.37 L545.85,222.78 L546.05,222.08 L546.25,221.31 L546.45,220.47 L546.65,219.61 L546.85,218.75 L547.05,217.91 L547.25,217.13 L547.45,216.43 L547.65,215.84 L547.85,215.36 L548.05,215.03 L548.25,214.84 L548.45,214.81 L548.65,214.93 L548.85,215.20 L549.05,215.61 L549.25,216.14 L549.45,216.77 L549.65,217.49 L549.85,218.27 L550.05,219.07 L550.25,219.87 L550.45,220.65 L550.65,221.37 L550.85,222.01 L551.05,222.55 L551.25,222.96 L551.45,223.23 L551.65,223.36 L551.85,223.33 L552.05,223.15 L552.25,222.82 L552.45,222.34 L552.65,221.75 L552.85,221.04 L553.05,220.26 L553.25,219.41 L553.45,218.53 L553.65,217.65 L553.85,216.80 L554.05,216.00 L554.25,215.28 L554.45,214.65 L554.65,214.16 L554.85,213.79 L555.05,213.58 L555.25,213.52 L555.45,213.62 L555.65,213.86 L555.85,214.25 L556.05,214.76 L556.25,215.38 L556.45,216.09 L556.65,216.85 L556.85,217.65 L557.05,218.46 L557.25,219.24 L557.45,219.97 L557.65,220.62 L557.85,221.17 L558.05,221.60 L558.25,221.90 L558.45,222.04 L558.65,222.04 L558.85,221.87 L559.05,221.55 L559.25,221.09 L559.45,220.50 L559.65,219.80 L559.85,219.01 L560.05,218.15 L560.25,217.26 L560.45,216.35 L560.65,215.47 L560.85,214.63 L561.05,213.86 L561.25,213.19 L561.45,212.64 L561.65,212.22 L561.85,211.94 L562.05,211.82 L562.25,211.86 L562.45,212.05 L562.65,212.39 L562.85,212.85 L563.05,213.43 L563.25,214.11 L563.45,214.85 L563.65,215.64 L563.85,216.44 L564.05,217.23 L564.25,217.97 L564.45,218.65 L564.65,219.23 L564.85,219.70 L565.05,220.03 L565.25,220.22 L565.45,220.26 L565.65,220.14 L565.85,219.86 L566.05,219.44 L566.25,218.88 L566.45,218.20 L566.65,217.42 L566.85,216.57 L567.05,215.67 L567.25,214.74 L567.45,213.82 L567.65,212.94 L567.85,212.12 L568.05,211.39 L568.25,210.77 L568.45,210.27 L568.65,209.92 L568.85,209.72 L569.05,209.68 L569.25,209.79 L569.45,210.06 L569.65,210.46 L569.85,210.99 L570.05,211.62 L570.25,212.33 L570.45,213.10 L570.65,213.90 L570.85,214.70 L571.05,215.46 L571.25,216.18 L571.45,216.81 L571.65,217.34 L571.85,217.74 L572.05,218.01 L572.25,218.12 L572.45,218.08 L572.65,217.88 L572.85,217.52 L573.05,217.02 L573.25,216.40 L573.45,215.66 L573.65,214.83 L573.85,213.94 L574.05,213.01 L574.25,212.07 L574.45,211.15 L574.65,210.27 L574.85,209.47 L575.05,208.77 L575.25,208.19 L575.45,207.74 L575.65,207.45 L575.85,207.30 L576.05,207.32 L576.25,207.49 L576.45,207.80 L576.65,208.26 L576.85,208.83 L577.05,209.50 L577.25,210.24 L577.45,211.03 L577.65,211.84 L577.85,212.64 L578.05,213.40 L578.25,214.09 L578.45,214.70 L578.65,215.19 L578.85,215.55 L579.05,215.77 L579.25,215.84 L579.45,215.75 L579.65,215.49 L579.85,215.09 L580.05,214.55 L580.25,213.88 L580.45,213.11 L580.65,212.25 L580.85,211.34 L581.05,210.39 L581.25,209.45 L581.45,208.53 L581.65,207.67 L581.85,206.88 L582.05,206.21 L582.25,205.65 L582.45,205.24 L582.65,204.97 L582.85,204.87 L583.05,204.92 L583.25,205.13 L583.45,205.49 L583.65,205.98 L583.85,206.58 L584.05,207.28 L584.25,208.04 L584.45,208.85 L584.65,209.67 L584.85,210.48 L585.05,211.24 L585.25,211.93 L585.45,212.53 L585.65,213.01 L585.85,213.36 L586.05,213.56 L586.25,213.61 L586.45,213.49 L586.65,213.22 L586.85,212.80 L587.05,212.24 L587.25,211.55 L587.45,210.76 L587.65,209.89 L587.85,208.96 L588.05,208.01 L588.25,207.06 L588.45,206.14 L588.65,205.28 L588.85,204.50 L589.05,203.83 L589.25,203.28 L589.45,202.88 L589.65,202.63 L589.85,202.53 L590.05,202.60 L590.25,202.82 L590.45,203.19 L590.65,203.69 L590.85,204.31 L591.05,205.02 L591.25,205.79 L591.45,206.61 L591.65,207.44 L591.85,208.25 L592.05,209.02 L592.25,209.72 L592.45,210.32 L592.65,210.81 L592.85,211.16 L593.05,211.36 L593.25,211.40 L593.45,211.29 L593.65,211.02 L593.85,210.59 L594.05,210.02 L594.25,209.33 L594.45,208.53 L594.65,207.65 L594.85,206.72 L595.05,205.76 L595.25,204.79 L595.45,203.86 L595.65,202.98 L595.85,202.19 L596.05,201.50 L596.25,200.94 L596.45,200.52 L596.65,200.25 L596.85,200.15 L597.05,200.20 L597.25,200.41 L597.45,200.77 L597.65,201.26 L597.85,201.87 L598.05,202.57 L598.25,203.35 L598.45,204.17 L598.65,205.01 L598.85,205.83 L599.05,206.61 L599.25,207.32 L599.45,207.94 L599.65,208.45 L599.85,208.82 L600.05,209.05 L600.25,209.11 L600.45,209.02 L600.65,208.77 L600.85,208.36 L601.05,207.81 L601.25,207.12 L601.45,206.33 L601.65,205.46 L601.85,204.52 L602.05,203.54 L602.25,202.57 L602.45,201.61 L602.65,200.71 L602.85,199.89 L603.05,199.16 L603.25,198.57 L603.45,198.10 L603.65,197.80 L603.85,197.65 L604.05,197.66 L604.25,197.83 L604.45,198.15 L604.65,198.62 L604.85,199.20 L605.05,199.89 L605.25,200.65 L605.45,201.47 L605.65,202.31 L605.85,203.14 L606.05,203.94 L606.25,204.68 L606.45,205.33 L606.65,205.88 L606.85,206.29 L607.05,206.56 L607.25,206.67 L607.45,206.62 L607.65,206.41 L607.85,206.04 L608.05,205.52 L608.25,204.87 L608.45,204.10 L608.65,203.23 L608.85,202.30 L609.05,201.32 L609.25,200.32 L609.45,199.34 L609.65,198.41 L609.85,197.54 L610.05,196.76 L610.25,196.11 L610.45,195.58 L610.65,195.21 L610.85,194.99 L611.05,194.94 L611.25,195.05 L611.45,195.31 L611.65,195.72 L611.85,196.26 L612.05,196.91 L612.25,197.65 L612.45,198.45 L612.65,199.29 L612.85,200.13 L613.05,200.96 L613.25,201.73 L613.45,202.42 L613.65,203.01 L613.85,203.48 L614.05,203.82 L614.25,203.99 L614.45,204.01 L614.65,203.87 L614.85,203.56 L615.05,203.10 L615.25,202.50 L615.45,201.77 L615.65,200.93 L615.85,200.01 L616.05,199.03 L616.25,198.03 L616.45,197.02 L616.65,196.05 L616.85,195.13 L617.05,194.29 L617.25,193.56 L617.45,192.96 L617.65,192.49 L617.85,192.19 L618.05,192.04 L618.25,192.06 L618.45,192.24 L618.65,192.58 L618.85,193.05 L619.05,193.64 L619.25,194.34 L619.45,195.11 L619.65,195.94 L619.85,196.79 L620.05,197.63 L620.25,198.43 L620.45,199.18 L620.65,199.83 L620.85,200.37 L621.05,200.79 L621.25,201.05 L621.45,201.16 L621.65,201.11 L621.85,200.89 L622.05,200.51 L622.25,199.98 L622.45,199.31 L622.65,198.52 L622.85,197.63 L623.05,196.67 L623.25,195.67 L623.45,194.64 L623.65,193.63 L623.85,192.66 L624.05,191.75 L624.25,190.94 L624.45,190.24 L624.65,189.67 L624.85,189.25 L625.05,189.00 L625.25,188.90 L625.45,188.97 L625.65,189.20 L625.85,189.58 L626.05,190.09 L626.25,190.72 L626.45,191.45 L626.65,192.25 L626.85,193.08 L627.05,193.94 L627.25,194.77 L627.45,195.56 L627.65,196.29 L627.85,196.91 L628.05,197.42 L628.25,197.79 L628.45,198.01 L628.65,198.07 L628.85,197.96 L629.05,197.69 L629.25,197.26 L629.45,196.68 L629.65,195.96 L629.85,195.13 L630.05,194.21 L630.25,193.22 L630.45,192.19 L630.65,191.15 L630.85,190.12 L631.05,189.15 L631.25,188.24 L631.45,187.44 L631.65,186.76 L631.85,186.21 L632.05,185.81 L632.25,185.58 L632.45,185.51 L632.65,185.61 L632.85,185.87 L633.05,186.27 L633.25,186.81 L633.45,187.46 L633.65,188.20 L633.85,189.01 L634.05,189.85 L634.25,190.71 L634.45,191.54 L634.65,192.32 L634.85,193.03 L635.05,193.64 L635.25,194.12 L635.45,194.47 L635.65,194.66 L635.85,194.69 L636.05,194.55 L636.25,194.24 L636.45,193.78 L636.65,193.17 L636.85,192.43 L637.05,191.57 L637.25,190.62 L637.45,189.61 L637.65,188.56 L637.85,187.50 L638.05,186.47 L638.25,185.48 L638.45,184.57 L638.65,183.76 L638.85,183.08 L639.05,182.53 L639.25,182.14 L639.45,181.91 L639.65,181.85 L639.85,181.96 L640.05,182.22 L640.25,182.63 L640.45,183.18 L640.65,183.84 L640.85,184.59 L641.05,185.40 L641.25,186.25 L641.45,187.10 L641.65,187.94 L641.85,188.72 L642.05,189.43 L642.25,190.03 L642.45,190.51 L642.65,190.85 L642.85,191.04 L643.05,191.06 L643.25,190.92 L643.45,190.60 L643.65,190.13 L643.85,189.51 L644.05,188.75 L644.25,187.88 L644.45,186.92 L644.65,185.89 L644.85,184.83 L645.05,183.76 L645.25,182.71 L645.45,181.70 L645.65,180.78 L645.85,179.96 L646.05,179.25 L646.25,178.69 L646.45,178.29 L646.65,178.05 L646.85,177.97 L647.05,178.07 L647.25,178.32 L647.45,178.73 L647.65,179.27 L647.85,179.92 L648.05,180.67 L648.25,181.48 L648.45,182.34 L648.65,183.20 L648.85,184.04 L649.05,184.84 L649.25,185.55 L649.45,186.17 L649.65,186.67 L649.85,187.03 L650.05,187.23 L650.25,187.26 L650.45,187.13 L650.65,186.83 L650.85,186.37 L651.05,185.76 L651.25,185.01 L651.45,184.14 L651.65,183.18 L651.85,182.15 L652.05,181.07 L652.25,179.99 L652.45,178.92 L652.65,177.90 L652.85,176.95 L653.05,176.09 L653.25,175.36 L653.45,174.77 L653.65,174.34 L653.85,174.06 L654.05,173.96 L654.25,174.02 L654.45,174.25 L654.65,174.63 L654.85,175.15 L655.05,175.79 L655.25,176.53 L655.45,177.34 L655.65,178.19 L655.85,179.06 L656.05,179.92 L656.25,180.74 L656.45,181.48 L656.65,182.13 L656.85,182.66 L657.05,183.05 L657.25,183.29 L657.45,183.36 L657.65,183.27 L657.85,183.00 L658.05,182.58 L658.25,181.99 L658.45,181.26 L658.65,180.41 L658.85,179.46 L659.05,178.43 L659.25,177.36 L659.45,176.26 L659.65,175.17 L659.85,174.12 L660.05,173.14 L660.25,172.25 L660.45,171.47 L660.65,170.83 L660.85,170.34 L661.05,170.02 L661.25,169.86 L661.45,169.88 L661.65,170.06 L661.85,170.40 L662.05,170.88 L662.25,171.49 L662.45,172.21 L662.65,173.00 L662.85,173.85 L663.05,174.73 L663.25,175.60 L663.45,176.43 L663.65,177.21 L663.85,177.89 L664.05,178.46 L664.25,178.90 L664.45,179.19 L664.65,179.32 L664.85,179.28 L665.05,179.07 L665.25,178.69 L665.45,178.15 L665.65,177.46 L665.85,176.64 L666.05,175.72 L666.25,174.70 L666.45,173.63 L666.65,172.53 L666.85,171.43 L667.05,170.35 L667.25,169.33 L667.45,168.40 L667.65,167.57 L667.85,166.87 L668.05,166.32 L668.25,165.92 L668.45,165.70 L668.65,165.64 L668.85,165.75 L669.05,166.03 L669.25,166.45 L669.45,167.01 L669.65,167.68 L669.85,168.45 L670.05,169.28 L670.25,170.14 L670.45,171.01 L670.65,171.87 L670.85,172.67 L671.05,173.39 L671.25,174.01 L671.45,174.51 L671.65,174.86 L671.85,175.06 L672.05,175.09 L672.25,174.96 L672.45,174.65 L672.65,174.18 L672.85,173.55 L673.05,172.79 L673.25,171.91 L673.45,170.92 L673.65,169.87 L673.85,168.78 L674.05,167.66 L674.25,166.57 L674.45,165.51 L674.65,164.53 L674.85,163.64 L675.05,162.87 L675.25,162.23 L675.45,161.75 L675.65,161.44 L675.85,161.29 L676.05,161.31 L676.25,161.50 L676.45,161.85 L676.65,162.34 L676.85,162.95 L677.05,163.67 L677.25,164.47 L677.45,165.31 L677.65,166.18 L677.85,167.05 L678.05,167.88 L678.25,168.65 L678.45,169.32 L678.65,169.89 L678.85,170.32 L679.05,170.60 L679.25,170.73 L679.45,170.68 L679.65,170.46 L679.85,170.08 L680.05,169.54 L680.25,168.84 L680.45,168.02 L680.65,167.09 L680.85,166.07 L681.05,164.99 L681.25,163.87 L681.45,162.76 L681.65,161.67 L681.85,160.63 L682.05,159.68 L682.25,158.83 L682.45,158.11 L682.65,157.53 L682.85,157.11 L683.05,156.86 L683.25,156.78 L683.45,156.86 L683.65,157.11 L683.85,157.51 L684.05,158.04 L684.25,158.70 L684.45,159.45 L684.65,160.26 L684.85,161.12 L685.05,161.99 L685.25,162.84 L685.45,163.65 L685.65,164.39 L685.85,165.03 L686.05,165.55 L686.25,165.93 L686.45,166.15 L686.65,166.21 L686.85,166.10 L687.05,165.83 L687.25,165.38 L687.45,164.78 L687.65,164.04 L687.85,163.17 L688.05,162.20 L688.25,161.15 L688.45,160.05 L688.65,158.93 L688.85,157.81 L689.05,156.73 L689.25,155.71 L689.45,154.78 L689.65,153.96 L689.85,153.27 L690.05,152.74 L690.25,152.36 L690.45,152.15 L690.65,152.11 L690.85,152.24 L691.05,152.53 L691.25,152.97 L691.45,153.53 L691.65,154.21 L691.85,154.98 L692.05,155.81 L692.25,156.67 L692.45,157.53 L692.65,158.37 L692.85,159.16 L693.05,159.87 L693.25,160.47 L693.45,160.95 L693.65,161.29 L693.85,161.47 L694.05,161.48 L694.25,161.33 L694.45,161.00 L694.65,160.51 L694.85,159.87 L695.05,159.09 L695.25,158.19 L695.45,157.19 L695.65,156.12 L695.85,155.00 L696.05,153.87 L696.25,152.75 L696.45,151.67 L696.65,150.66 L696.85,149.75 L697.05,148.95 L697.25,148.29 L697.45,147.78 L697.65,147.43 L697.85,147.25 L698.05,147.24 L698.25,147.40 L698.45,147.71 L698.65,148.17 L698.85,148.76 L699.05,149.45 L699.25,150.23 L699.45,151.07 L699.65,151.93 L699.85,152.79 L700.05,153.62 L700.25,154.39 L700.45,155.08 L700.65,155.67 L700.85,156.12 L701.05,156.43 L701.25,156.58 L701.45,156.56 L701.65,156.37 L701.85,156.02 L702.05,155.50 L702.25,154.83 L702.45,154.02 L702.65,153.10 L702.85,152.08 L703.05,151.00 L703.25,149.87 L703.45,148.74 L703.65,147.61 L703.85,146.54 L704.05,145.54 L704.25,144.63 L704.45,143.84 L704.65,143.19 L704.85,142.70 L705.05,142.37 L705.25,142.21 L705.45,142.21 L705.65,142.39 L705.85,142.72 L706.05,143.19 L706.25,143.79 L706.45,144.50 L706.65,145.28 L706.85,146.12 L707.05,146.98 L707.25,147.84 L707.45,148.67 L707.65,149.44 L707.85,150.12 L708.05,150.69 L708.25,151.13 L708.45,151.43 L708.65,151.56 L708.85,151.53 L709.05,151.33 L709.25,150.96 L709.45,150.42 L709.65,149.74 L709.85,148.92 L710.05,147.99 L710.25,146.96 L710.45,145.87 L710.65,144.74 L710.85,143.60 L711.05,142.48 L711.25,141.40 L711.45,140.40 L711.65,139.50 L711.85,138.71 L712.05,138.07 L712.25,137.58 L712.45,137.25 L712.65,137.10 L712.85,137.11 L713.05,137.29 L713.25,137.63 L713.45,138.11 L713.65,138.71 L713.85,139.42 L714.05,140.21 L714.25,141.05 L714.45,141.91 L714.65,142.78 L714.85,143.61 L715.05,144.37 L715.25,145.06 L715.45,145.63 L715.65,146.07 L715.85,146.37 L716.05,146.50 L716.25,146.47 L716.45,146.27 L716.65,145.90 L716.85,145.36 L717.05,144.68 L717.25,143.86 L717.45,142.93 L717.65,141.90 L717.85,140.81 L718.05,139.68 L718.25,138.53 L718.45,137.41 L718.65,136.33 L718.85,135.32 L719.05,134.42 L719.25,133.63 L719.45,132.98 L719.65,132.49 L719.85,132.16 L720.05,132.00 L720.25,132.01 L720.45,132.18 L720.65,132.51 L720.85,132.99 L721.05,133.59 L721.25,134.30 L721.45,135.09 L721.65,135.94 L721.85,136.81 L722.05,137.67 L722.25,138.51 L722.45,139.29 L722.65,139.98 L722.85,140.56 L723.05,141.02 L723.25,141.33 L723.45,141.48 L723.65,141.46 L723.85,141.27 L724.05,140.91 L724.25,140.39 L724.45,139.72 L724.65,138.91 L724.85,137.99 L725.05,136.97 L725.25,135.88 L725.45,134.75 L725.65,133.60 L725.85,132.48 L726.05,131.39 L726.25,130.38 L726.45,129.46 L726.65,128.66 L726.85,128.00 L727.05,127.49 L727.25,127.14 L727.45,126.97 L727.65,126.96 L727.85,127.12 L728.05,127.44 L728.25,127.91 L728.45,128.50 L728.65,129.20 L728.85,129.99 L729.05,130.83 L729.25,131.70 L729.45,132.58 L729.65,133.42 L729.85,134.21 L730.05,134.92 L730.25,135.52 L730.45,136.00 L730.65,136.33 L730.85,136.50 L731.05,136.50 L731.25,136.34 L731.45,136.00 L731.65,135.51 L731.85,134.85 L732.05,134.06 L732.25,133.15 L732.45,132.14 L732.65,131.06 L732.85,129.93 L733.05,128.78 L733.25,127.64 L733.45,126.55 L733.65,125.52 L733.85,124.58 L734.05,123.76 L734.25,123.07 L734.45,122.54 L734.65,122.16 L734.85,121.96 L735.05,121.93 L735.25,122.06 L735.45,122.36 L735.65,122.80 L735.85,123.37 L736.05,124.06 L736.25,124.83 L736.45,125.67 L736.65,126.54 L736.85,127.42 L737.05,128.28 L737.25,129.08 L737.45,129.81 L737.65,130.43 L737.85,130.93 L738.05,131.29 L738.25,131.50 L738.45,131.53 L738.65,131.40 L738.85,131.09 L739.05,130.63 L739.25,130.00 L739.45,129.23 L739.65,128.34 L739.85,127.34 L740.05,126.27 L740.25,125.14 L740.45,123.99 L740.65,122.84 L740.85,121.73 L741.05,120.68 L741.25,119.72 L741.45,118.87 L741.65,118.15 L741.85,117.57 L742.05,117.16 L742.25,116.92 L742.45,116.84 L742.65,116.94 L742.85,117.20 L743.05,117.61 L743.25,118.16 L743.45,118.82 L743.65,119.58 L743.85,120.41 L744.05,121.27 L744.25,122.15 L744.45,123.02 L744.65,123.84 L744.85,124.58 L745.05,125.24 L745.25,125.77 L745.45,126.16 L745.65,126.40 L745.85,126.48 L746.05,126.38 L746.25,126.12 L746.45,125.68 L746.65,125.09 L746.85,124.35 L747.05,123.48 L747.25,122.50 L747.45,121.44 L747.65,120.32 L747.85,119.17 L748.05,118.01 L748.25,116.88 L748.45,115.81 L748.65,114.82 L748.85,113.93 L749.05,113.17 L749.25,112.55 L749.45,112.09 L749.65,111.80 L749.85,111.68 L750.05,111.73 L750.25,111.95 L750.45,112.32 L750.65,112.83 L750.85,113.46 L751.05,114.20 L751.25,115.01 L751.45,115.87 L751.65,116.75 L751.85,117.63 L752.05,118.46 L752.25,119.24 L752.45,119.92 L752.65,120.49 L752.85,120.92 L753.05,121.21 L753.25,121.33 L753.45,121.29 L753.65,121.07 L753.85,120.68 L754.05,120.13 L754.25,119.43 L754.45,118.59 L754.65,117.64 L754.85,116.60 L755.05,115.48 L755.25,114.33 L755.45,113.17 L755.65,112.03 L755.85,110.93 L756.05,109.90 L756.25,108.98 L756.45,108.17 L756.65,107.51 L756.85,107.00 L757.05,106.65 L757.25,106.47 L757.45,106.47 L757.65,106.63 L757.85,106.96 L758.05,107.43 L758.25,108.03 L758.45,108.74 L758.65,109.53 L758.85,110.38 L759.05,111.26 L759.25,112.14 L759.45,112.99 L759.65,113.79 L759.85,114.51 L760.05,115.12 L760.25,115.60 L760.45,115.93 L760.65,116.11 L760.85,116.12 L761.05,115.96 L761.25,115.62 L761.45,115.12 L761.65,114.47 L761.85,113.67 L762.05,112.75 L762.25,111.72 L762.45,110.63 L762.65,109.48 L762.85,108.31 L763.05,107.15 L763.25,106.03 L763.45,104.97 L763.65,104.01 L763.85,103.15 L764.05,102.43 L764.25,101.86 L764.45,101.46 L764.65,101.22 L764.85,101.16 L765.05,101.26 L765.25,101.53 L765.45,101.95 L765.65,102.51 L765.85,103.18 L766.05,103.95 L766.25,104.78 L766.45,105.66 L766.65,106.54 L766.85,107.41 L767.05,108.23 L767.25,108.98 L767.45,109.63 L767.65,110.16 L767.85,110.55 L768.05,110.79 L768.25,110.86 L768.45,110.75 L768.65,110.48 L768.85,110.03 L769.05,109.43 L769.25,108.67 L769.45,107.79 L769.65,106.80 L769.85,105.72 L770.05,104.58 L770.25,103.41 L770.45,102.24 L770.65,101.09 L770.85,100.00 L771.05,98.99 L771.25,98.09 L771.45,97.31 L771.65,96.68 L771.85,96.21 L772.05,95.90 L772.25,95.77 L772.45,95.81 L772.65,96.02 L772.85,96.39 L773.05,96.89 L773.25,97.53 L773.45,98.26 L773.65,99.07 L773.85,99.94 L774.05,100.82 L774.25,101.70 L774.45,102.55 L774.65,103.33 L774.85,104.02 L775.05,104.60 L775.25,105.04 L775.45,105.34 L775.65,105.47 L775.85,105.43 L776.05,105.22 L776.25,104.83 L776.45,104.28 L776.65,103.58 L776.85,102.74 L777.05,101.78 L777.25,100.72 L777.45,99.59 L777.65,98.42 L777.85,97.24 L778.05,96.07 L778.25,94.95 L778.45,93.90 L778.65,92.94 L778.85,92.10 L779.05,91.41 L779.25,90.86 L779.45,90.49 L779.65,90.28 L779.85,90.25 L780.05,90.39 L780.25,90.69 L780.45,91.14 L780.65,91.72 L780.85,92.41 L781.05,93.20 L781.25,94.04 L781.45,94.92 L781.65,95.81 L781.85,96.67 L782.05,97.47 L782.25,98.20 L782.45,98.82 L782.65,99.32 L782.85,99.67 L783.05,99.87 L783.25,99.89 L783.45,99.75 L783.65,99.43 L783.85,98.94 L784.05,98.29 L784.25,97.49 L784.45,96.57 L784.65,95.54 L784.85,94.43 L785.05,93.27 L785.25,92.08 L785.45,90.89 L785.65,89.74 L785.85,88.64 L786.05,87.64 L786.25,86.74 L786.45,85.98 L786.65,85.37 L786.85,84.92 L787.05,84.64 L787.25,84.53 L787.45,84.60 L787.65,84.83 L787.85,85.22 L788.05,85.75 L788.25,86.41 L788.45,87.16 L788.65,87.98 L788.85,88.85 L789.05,89.74 L789.25,90.62 L789.45,91.45 L789.65,92.22 L789.85,92.89 L790.05,93.45 L790.25,93.87 L790.45,94.13 L790.65,94.23 L790.85,94.15 L791.05,93.90 L791.25,93.48 L791.45,92.89 L791.65,92.16 L791.85,91.28 L792.05,90.29 L792.25,89.21 L792.45,88.06 L792.65,86.88 L792.85,85.68 L793.05,84.51 L793.25,83.39 L793.45,82.34 L793.65,81.39 L793.85,80.57 L794.05,79.90 L794.25,79.38 L794.45,79.03 L794.65,78.85 L794.85,78.85 L795.05,79.02 L795.25,79.35 L795.45,79.83 L795.65,80.44 L795.85,81.16 L796.05,81.96 L796.25,82.83 L796.45,83.72 L796.65,84.61 L796.85,85.48 L797.05,86.28 L797.25,87.01 L797.45,87.62 L797.65,88.11 L797.85,88.44 L798.05,88.62 L798.25,88.62 L798.45,88.45 L798.65,88.11 L798.85,87.59 L799.05,86.92 L799.25,86.11 L799.45,85.17 L799.65,84.12 L799.85,83.00 L800.05,81.83 L800.25,80.64 L800.45,79.45 L800.65,78.31 L800.85,77.23 L801.05,76.24 L801.25,75.36 L801.45,74.63 L801.65,74.04 L801.85,73.63 L802.05,73.38 L802.25,73.31 L802.45,73.41 L802.65,73.69 L802.85,74.11 L803.05,74.68 L803.25,75.36 L803.45,76.14 L803.65,76.99 L803.85,77.89 L804.05,78.79 L804.25,79.68 L804.45,80.53 L804.65,81.30 L804.85,81.97 L805.20,82.84" stroke="#000" stroke-width="1.3" fill="none" stroke-linejoin="round"/>
<path d="M234.20,248.50V476.00M376.95,248.50V476.00M519.70,248.50V476.00M662.45,248.50V476.00M98.95,453.25H797.70M98.95,430.50H797.70M98.95,407.75H797.70M98.95,385.00H797.70M98.95,362.25H797.70M98.95,339.50H797.70M98.95,316.75H797.70M98.95,294.00H797.70M98.95,271.25H797.70" stroke="#dcdcdc" stroke-width="1.0" fill="none"/>
<rect x="508.0" y="338.8" width="283.00" height="47.50" fill="#fff"/>
<path d="M234.20,248.50v6.6M234.20,476.00v-6.6M376.95,248.50v6.6M376.95,476.00v-6.6M519.70,248.50v6.6M519.70,476.00v-6.6M662.45,248.50v6.6M662.45,476.00v-6.6M91.45,453.25h6.6M805.20,453.25h-6.6M91.45,430.50h6.6M805.20,430.50h-6.6M91.45,407.75h6.6M805.20,407.75h-6.6M91.45,385.00h6.6M805.20,385.00h-6.6M91.45,362.25h6.6M805.20,362.25h-6.6M91.45,339.50h6.6M805.20,339.50h-6.6M91.45,316.75h6.6M805.20,316.75h-6.6M91.45,294.00h6.6M805.20,294.00h-6.6M91.45,271.25h6.6M805.20,271.25h-6.6" stroke="#000" stroke-width="0.85" fill="none"/>
<rect x="91.45" y="248.5" width="713.75" height="227.50" stroke="#000" stroke-width="0.85" fill="none"/>
<clipPath id="c2"><rect x="91.45" y="248.5" width="714.35" height="228.10"/></clipPath>
<path d="M91.45,271.60 L91.65,271.60 L91.85,271.60 L92.05,271.60 L92.25,271.60 L92.45,271.60 L92.65,271.60 L92.85,271.60 L93.05,271.60 L93.25,271.60 L93.45,271.60 L93.65,271.60 L93.85,271.60 L94.05,271.60 L94.25,271.60 L94.45,271.60 L94.65,271.60 L94.85,271.60 L95.05,271.60 L95.25,271.60 L95.45,271.60 L95.65,271.60 L95.85,271.60 L96.05,271.60 L96.25,271.60 L96.45,271.60 L96.65,271.60 L96.85,271.60 L97.05,271.60 L97.25,271.60 L97.45,271.60 L97.65,271.60 L97.85,271.60 L98.05,271.60 L98.25,271.60 L98.45,271.60 L98.65,271.60 L98.85,271.60 L99.05,271.60 L99.25,271.60 L99.45,271.60 L99.65,271.63 L99.85,271.72 L100.05,271.76 L100.25,271.71 L100.45,271.60 L100.65,271.42 L100.85,271.24 L101.05,271.10 L101.25,271.03 L101.45,271.08 L101.65,271.26 L101.85,271.55 L102.05,271.94 L102.25,272.38 L102.45,272.81 L102.65,273.18 L102.85,273.43 L103.05,273.54 L103.25,273.47 L103.45,273.23 L103.65,272.83 L103.85,272.31 L104.05,271.72 L104.25,271.11 L104.45,270.54 L104.65,270.04 L104.85,269.69 L105.05,269.53 L105.25,269.58 L105.45,269.85 L105.65,270.32 L105.85,270.98 L106.05,271.77 L106.25,272.63 L106.45,273.51 L106.65,274.34 L106.85,275.06 L107.05,275.62 L107.25,275.97 L107.45,276.07 L107.65,275.91 L107.85,275.49 L108.05,274.83 L108.25,273.97 L108.45,272.94 L108.65,271.81 L108.85,270.65 L109.05,269.52 L109.25,268.51 L109.45,267.67 L109.65,267.05 L109.85,266.78 L110.05,266.84 L110.25,267.20 L110.45,267.87 L110.65,268.81 L110.85,269.99 L111.05,271.33 L111.25,272.77 L111.45,274.23 L111.65,275.64 L111.85,276.91 L112.05,277.98 L112.25,278.66 L112.45,278.98 L112.65,278.95 L112.85,278.59 L113.05,277.90 L113.25,276.93 L113.45,275.73 L113.65,274.36 L113.85,272.89 L114.05,271.40 L114.25,269.96 L114.45,268.65 L114.65,267.54 L114.85,266.67 L115.05,266.10 L115.25,265.85 L115.45,265.92 L115.65,266.37 L115.85,267.13 L116.05,268.13 L116.25,269.33 L116.45,270.64 L116.65,272.02 L116.85,273.38 L117.05,274.66 L117.25,275.78 L117.45,276.70 L117.65,277.38 L117.85,277.77 L118.05,277.91 L118.25,277.77 L118.45,277.35 L118.65,276.65 L118.85,275.74 L119.05,274.65 L119.25,273.44 L119.45,272.17 L119.65,270.91 L119.85,269.74 L120.05,268.69 L120.25,267.84 L120.45,267.23 L120.65,266.88 L120.85,266.80 L121.05,266.99 L121.25,267.46 L121.45,268.19 L121.65,269.14 L121.85,270.27 L122.05,271.52 L122.25,272.82 L122.45,274.11 L122.65,275.33 L122.85,276.41 L123.05,277.30 L123.25,277.95 L123.45,278.32 L123.65,278.39 L123.85,278.17 L124.05,277.66 L124.25,276.88 L124.45,275.89 L124.65,274.73 L124.85,273.46 L125.05,272.14 L125.25,270.85 L125.45,269.65 L125.65,268.59 L125.85,267.75 L126.05,267.16 L126.25,266.84 L126.45,266.84 L126.65,267.15 L126.85,267.75 L127.05,268.59 L127.25,269.65 L127.45,270.86 L127.65,272.17 L127.85,273.50 L128.05,274.79 L128.25,275.98 L128.45,276.99 L128.65,277.79 L128.85,278.33 L129.05,278.59 L129.25,278.58 L129.45,278.27 L129.65,277.69 L129.85,276.86 L130.05,275.83 L130.25,274.65 L130.45,273.38 L130.65,272.10 L130.85,270.87 L131.05,269.75 L131.25,268.81 L131.45,268.10 L131.65,267.65 L131.85,267.50 L132.05,267.62 L132.25,268.04 L132.45,268.73 L132.65,269.68 L132.85,270.82 L133.05,272.10 L133.25,273.46 L133.45,274.82 L133.65,276.12 L133.85,277.29 L134.05,278.27 L134.25,279.01 L134.45,279.46 L134.65,279.60 L134.85,279.41 L135.05,278.91 L135.25,278.13 L135.45,277.11 L135.65,275.90 L135.85,274.57 L136.05,273.19 L136.25,271.83 L136.45,270.55 L136.65,269.43 L136.85,268.53 L137.05,267.89 L137.25,267.55 L137.45,267.54 L137.65,267.84 L137.85,268.45 L138.05,269.33 L138.25,270.44 L138.45,271.72 L138.65,273.10 L138.85,274.51 L139.05,275.88 L139.25,277.14 L139.45,278.21 L139.65,279.06 L139.85,279.63 L140.05,279.89 L140.25,279.84 L140.45,279.46 L140.65,278.79 L140.85,277.86 L141.05,276.72 L141.25,275.43 L141.45,274.05 L141.65,272.66 L141.85,271.34 L142.05,270.14 L142.25,269.15 L142.45,268.40 L142.65,267.94 L142.85,267.80 L143.05,267.97 L143.25,268.46 L143.45,269.23 L143.65,270.26 L143.85,271.48 L144.05,272.84 L144.25,274.26 L144.45,275.68 L144.65,277.00 L144.85,278.18 L145.05,279.14 L145.25,279.83 L145.45,280.22 L145.65,280.30 L145.85,280.04 L146.05,279.48 L146.25,278.63 L146.45,277.54 L146.65,276.27 L146.85,274.88 L147.05,273.46 L147.25,272.06 L147.45,270.77 L147.65,269.66 L147.85,268.79 L148.05,268.20 L148.25,267.92 L148.45,267.97 L148.65,268.36 L148.85,269.06 L149.05,270.03 L149.25,271.23 L149.45,272.59 L149.65,274.04 L149.85,275.51 L150.05,276.91 L150.25,278.19 L150.45,279.26 L150.65,280.08 L150.85,280.60 L151.05,280.80 L151.25,280.66 L151.45,280.20 L151.65,279.44 L151.85,278.41 L152.05,277.18 L152.25,275.80 L152.45,274.35 L152.65,272.91 L152.85,271.55 L153.05,270.35 L153.25,269.37 L153.45,268.67 L153.65,268.28 L153.85,268.22 L154.05,268.51 L154.25,269.13 L154.45,270.04 L154.65,271.20 L154.85,272.55 L155.05,274.02 L155.25,275.54 L155.45,277.02 L155.65,278.38 L155.85,279.57 L156.05,280.51 L156.25,281.16 L156.45,281.48 L156.65,281.45 L156.85,281.08 L157.05,280.40 L157.25,279.43 L157.45,278.22 L157.65,276.86 L157.85,275.40 L158.05,273.92 L158.25,272.50 L158.45,271.23 L158.65,270.16 L158.85,269.36 L159.05,268.86 L159.25,268.70 L159.45,268.87 L159.65,269.38 L159.85,270.20 L160.05,271.29 L160.25,272.59 L160.45,274.03 L160.65,275.54 L160.85,277.05 L161.05,278.46 L161.25,279.71 L161.45,280.74 L161.65,281.48 L161.85,281.91 L162.05,281.99 L162.25,281.72 L162.45,281.13 L162.65,280.23 L162.85,279.09 L163.05,277.75 L163.25,276.29 L163.45,274.79 L163.65,273.33 L163.85,271.98 L164.05,270.82 L164.25,269.91 L164.45,269.29 L164.65,269.01 L164.85,269.08 L165.05,269.50 L165.25,270.26 L165.45,271.29 L165.65,272.56 L165.85,274.00 L166.05,275.53 L166.25,277.07 L166.45,278.54 L166.65,279.87 L166.85,280.97 L167.05,281.81 L167.25,282.32 L167.45,282.49 L167.65,282.32 L167.85,281.81 L168.05,280.98 L168.25,279.89 L168.45,278.58 L168.65,277.14 L168.85,275.64 L169.05,274.16 L169.25,272.78 L169.45,271.57 L169.65,270.61 L169.85,269.94 L170.05,269.59 L170.25,269.60 L170.45,269.96 L170.65,270.66 L170.85,271.65 L171.05,272.89 L171.25,274.31 L171.45,275.83 L171.65,277.39 L171.85,278.89 L172.05,280.25 L172.25,281.42 L172.45,282.32 L172.65,282.90 L172.85,283.15 L173.05,283.04 L173.25,282.58 L173.45,281.80 L173.65,280.74 L173.85,279.46 L174.05,278.03 L174.25,276.52 L174.45,275.02 L174.65,273.61 L174.85,272.35 L175.05,271.33 L175.25,270.60 L175.45,270.20 L175.65,270.14 L175.85,270.44 L176.05,271.08 L176.25,272.03 L176.45,273.23 L176.65,274.64 L176.85,276.16 L177.05,277.73 L177.25,279.25 L177.45,280.66 L177.65,281.87 L177.85,282.83 L178.05,283.48 L178.25,283.79 L178.45,283.74 L178.65,283.34 L178.85,282.61 L179.05,281.59 L179.25,280.34 L179.45,278.92 L179.65,277.41 L179.85,275.89 L180.05,274.44 L180.25,273.14 L180.45,272.07 L180.65,271.28 L180.85,270.81 L181.05,270.69 L181.25,270.93 L181.45,271.51 L181.65,272.42 L181.85,273.59 L182.05,274.97 L182.25,276.49 L182.45,278.06 L182.65,279.61 L182.85,281.06 L183.05,282.32 L183.25,283.33 L183.45,284.04 L183.65,284.42 L183.85,284.43 L184.05,284.09 L184.25,283.42 L184.45,282.44 L184.65,281.21 L184.85,279.81 L185.05,278.29 L185.25,276.76 L185.45,275.28 L185.65,273.94 L185.85,272.82 L186.05,271.97 L186.25,271.43 L186.45,271.25 L186.65,271.42 L186.85,271.95 L187.05,272.81 L187.25,273.94 L187.45,275.30 L187.65,276.81 L187.85,278.39 L188.05,279.97 L188.25,281.44 L188.45,282.75 L188.65,283.82 L188.85,284.60 L189.05,285.04 L189.25,285.12 L189.45,284.84 L189.65,284.22 L189.85,283.28 L190.05,282.09 L190.25,280.70 L190.45,279.19 L190.65,277.64 L190.85,276.14 L191.05,274.76 L191.25,273.58 L191.45,272.67 L191.65,272.07 L191.85,271.82 L192.05,271.93 L192.25,272.40 L192.45,273.20 L192.65,274.30 L192.85,275.63 L193.05,277.13 L193.25,278.71 L193.45,280.30 L193.65,281.81 L193.85,283.17 L194.05,284.29 L194.25,285.13 L194.45,285.64 L194.65,285.79 L194.85,285.58 L195.05,285.03 L195.25,284.15 L195.45,283.00 L195.65,281.64 L195.85,280.14 L196.05,278.58 L196.25,277.04 L196.45,275.62 L196.65,274.38 L196.85,273.41 L197.05,272.75 L197.25,272.43 L197.45,272.49 L197.65,272.90 L197.85,273.67 L198.05,274.74 L198.25,276.06 L198.45,277.56 L198.65,279.18 L198.85,280.81 L199.05,282.38 L199.25,283.81 L199.45,285.01 L199.65,285.94 L199.85,286.53 L200.05,286.77 L200.25,286.63 L200.45,286.14 L200.65,285.31 L200.85,284.19 L201.05,282.84 L201.25,281.34 L201.45,279.77 L201.65,278.20 L201.85,276.74 L202.05,275.45 L202.25,274.41 L202.45,273.68 L202.65,273.29 L202.85,273.26 L203.05,273.61 L203.25,274.32 L203.45,275.34 L203.65,276.63 L203.85,278.12 L204.05,279.74 L204.25,281.39 L204.45,283.00 L204.65,284.48 L204.85,285.75 L205.05,286.75 L205.25,287.42 L205.45,287.73 L205.65,287.67 L205.85,287.24 L206.05,286.47 L206.25,285.39 L206.45,284.07 L206.65,282.58 L206.85,280.99 L207.05,279.40 L207.25,277.90 L207.45,276.55 L207.65,275.44 L207.85,274.63 L208.05,274.16 L208.25,274.05 L208.45,274.33 L208.65,274.97 L208.85,275.94 L209.05,277.19 L209.25,278.66 L209.45,280.28 L209.65,281.95 L209.85,283.59 L210.05,285.12 L210.25,286.46 L210.45,287.53 L210.65,288.28 L210.85,288.68 L211.05,288.70 L211.25,288.35 L211.45,287.64 L211.65,286.61 L211.85,285.32 L212.05,283.84 L212.25,282.25 L212.45,280.64 L212.65,279.09 L212.85,277.68 L213.05,276.50 L213.25,275.61 L213.45,275.05 L213.65,274.86 L213.85,275.06 L214.05,275.62 L214.25,276.53 L214.45,277.74 L214.65,279.18 L214.85,280.79 L215.05,282.47 L215.25,284.15 L215.45,285.73 L215.65,287.13 L215.85,288.28 L216.05,289.12 L216.25,289.61 L216.45,289.72 L216.65,289.44 L216.85,288.80 L217.05,287.84 L217.25,286.59 L217.45,285.13 L217.65,283.54 L217.85,281.91 L218.05,280.32 L218.25,278.86 L218.45,277.60 L218.65,276.62 L218.85,275.97 L219.05,275.69 L219.25,275.79 L219.45,276.28 L219.65,277.11 L219.85,278.27 L220.05,279.68 L220.25,281.27 L220.45,282.96 L220.65,284.66 L220.85,286.29 L221.05,287.76 L221.25,288.99 L221.45,289.92 L221.65,290.50 L221.85,290.71 L222.05,290.53 L222.25,289.97 L222.45,289.07 L222.65,287.88 L222.85,286.45 L223.05,284.87 L223.25,283.22 L223.45,281.59 L223.65,280.07 L223.85,278.74 L224.05,277.68 L224.25,276.93 L224.45,276.55 L224.65,276.55 L224.85,276.94 L225.05,277.70 L225.25,278.78 L225.45,280.14 L225.65,281.71 L225.85,283.40 L226.05,285.13 L226.25,286.80 L226.45,288.34 L226.65,289.65 L226.85,290.68 L227.05,291.37 L227.25,291.68 L227.45,291.60 L227.65,291.14 L227.85,290.32 L228.05,289.19 L228.25,287.80 L228.45,286.24 L228.65,284.58 L228.85,282.92 L229.05,281.34 L229.25,279.94 L229.45,278.78 L229.65,277.93 L229.85,277.44 L230.05,277.33 L230.25,277.61 L230.45,278.28 L230.65,279.29 L230.85,280.59 L231.05,282.12 L231.25,283.80 L231.45,285.55 L231.65,287.26 L231.85,288.86 L232.05,290.26 L232.25,291.39 L232.45,292.19 L232.65,292.63 L232.85,292.67 L233.05,292.32 L233.25,291.60 L233.45,290.55 L233.65,289.22 L233.85,287.68 L234.05,286.03 L234.25,284.33 L234.45,282.70 L234.65,281.21 L234.85,279.95 L235.05,278.99 L235.25,278.38 L235.45,278.17 L235.65,278.35 L235.85,278.93 L236.05,279.86 L236.25,281.12 L236.45,282.62 L236.65,284.30 L236.85,286.07 L237.05,287.84 L237.25,289.51 L237.45,291.01 L237.65,292.25 L237.85,293.17 L238.05,293.73 L238.25,293.90 L238.45,293.68 L238.65,293.07 L238.85,292.12 L239.05,290.87 L239.25,289.40 L239.45,287.78 L239.65,286.10 L239.85,284.45 L240.05,282.93 L240.25,281.61 L240.45,280.56 L240.65,279.85 L240.85,279.51 L241.05,279.56 L241.25,280.01 L241.45,280.82 L241.65,281.97 L241.85,283.39 L242.05,285.00 L242.25,286.74 L242.45,288.50 L242.65,290.20 L242.85,291.75 L243.05,293.08 L243.25,294.11 L243.45,294.79 L243.65,295.09 L243.85,295.01 L244.05,294.53 L244.25,293.70 L244.45,292.56 L244.65,291.17 L244.85,289.61 L245.05,287.95 L245.25,286.30 L245.45,284.74 L245.65,283.35 L245.85,282.21 L246.05,281.38 L246.25,280.91 L246.45,280.82 L246.65,281.12 L246.85,281.80 L247.05,282.83 L247.25,284.14 L247.45,285.68 L247.65,287.37 L247.85,289.11 L248.05,290.83 L248.25,292.43 L248.45,293.84 L248.65,294.98 L248.85,295.79 L249.05,296.23 L249.25,296.29 L249.45,295.96 L249.65,295.27 L249.85,294.25 L250.05,292.96 L250.25,291.47 L250.45,289.86 L250.65,288.22 L250.85,286.63 L251.05,285.19 L251.25,283.95 L251.45,283.00 L251.65,282.38 L251.85,282.14 L252.05,282.27 L252.25,282.78 L252.45,283.65 L252.65,284.82 L252.85,286.25 L253.05,287.86 L253.25,289.57 L253.45,291.29 L253.65,292.94 L253.85,294.43 L254.05,295.69 L254.25,296.65 L254.45,297.27 L254.65,297.52 L254.85,297.39 L255.05,296.89 L255.25,296.04 L255.45,294.90 L255.65,293.52 L255.85,291.98 L256.05,290.36 L256.25,288.75 L256.45,287.23 L256.65,285.89 L256.85,284.79 L257.05,283.99 L257.25,283.55 L257.45,283.48 L257.65,283.79 L257.85,284.46 L258.05,285.47 L258.25,286.76 L258.45,288.27 L258.65,289.92 L258.85,291.62 L259.05,293.31 L259.25,294.88 L259.45,296.26 L259.65,297.38 L259.85,298.19 L260.05,298.64 L260.25,298.72 L260.45,298.43 L260.65,297.78 L260.85,296.80 L261.05,295.56 L261.25,294.11 L261.45,292.54 L261.65,290.93 L261.85,289.36 L262.05,287.93 L262.25,286.69 L262.45,285.73 L262.65,285.09 L262.85,284.80 L263.05,284.90 L263.25,285.36 L263.45,286.17 L263.65,287.29 L263.85,288.67 L264.05,290.23 L264.25,291.90 L264.45,293.60 L264.65,295.23 L264.85,296.72 L265.05,297.99 L265.25,298.98 L265.45,299.64 L265.65,299.94 L265.85,299.87 L266.05,299.43 L266.25,298.65 L266.45,297.57 L266.65,296.25 L266.85,294.76 L267.05,293.17 L267.25,291.59 L267.45,290.08 L267.65,288.72 L267.85,287.60 L268.05,286.77 L268.25,286.27 L268.45,286.13 L268.65,286.36 L268.85,286.96 L269.05,287.89 L269.25,289.10 L269.45,290.55 L269.65,292.14 L269.85,293.82 L270.05,295.48 L270.25,297.05 L270.45,298.45 L270.65,299.62 L270.85,300.48 L271.05,301.01 L271.25,301.17 L271.45,300.97 L271.65,300.41 L271.85,299.52 L272.05,298.36 L272.25,296.99 L272.45,295.47 L272.65,293.89 L272.85,292.34 L273.05,290.89 L273.25,289.62 L273.45,288.60 L273.65,287.89 L273.85,287.51 L274.05,287.50 L274.25,287.86 L274.45,288.57 L274.65,289.59 L274.85,290.88 L275.05,292.37 L275.25,293.99 L275.45,295.66 L275.65,297.29 L275.85,298.80 L276.05,300.12 L276.25,301.19 L276.45,301.94 L276.65,302.35 L276.85,302.40 L277.05,302.08 L277.25,301.42 L277.45,300.45 L277.65,299.23 L277.85,297.82 L278.05,296.29 L278.25,294.72 L278.45,293.20 L278.65,291.81 L278.85,290.63 L279.05,289.70 L279.25,289.09 L279.45,288.83 L279.65,288.92 L279.85,289.38 L280.05,290.18 L280.25,291.28 L280.45,292.62 L280.65,294.14 L280.85,295.77 L281.05,297.42 L281.25,299.01 L281.45,300.46 L281.65,301.71 L281.85,302.69 L282.05,303.35 L282.25,303.66 L282.45,303.61 L282.65,303.20 L282.85,302.46 L283.05,301.43 L283.25,300.16 L283.45,298.72 L283.65,297.19 L283.85,295.64 L284.05,294.16 L284.25,292.83 L284.45,291.71 L284.65,290.87 L284.85,290.35 L285.05,290.17 L285.25,290.36 L285.45,290.90 L285.65,291.76 L285.85,292.91 L286.05,294.29 L286.25,295.83 L286.45,297.45 L286.65,299.08 L286.85,300.64 L287.05,302.04 L287.25,303.22 L287.45,304.12 L287.65,304.70 L287.85,304.93 L288.05,304.81 L288.25,304.33 L288.45,303.54 L288.65,302.46 L288.85,301.16 L289.05,299.71 L289.25,298.19 L289.45,296.66 L289.65,295.22 L289.85,293.93 L290.05,292.88 L290.25,292.10 L290.45,291.64 L290.65,291.54 L290.85,291.79 L291.05,292.38 L291.25,293.29 L291.45,294.48 L291.65,295.88 L291.85,297.43 L292.05,299.04 L292.25,300.65 L292.45,302.17 L292.65,303.53 L292.85,304.66 L293.05,305.51 L293.25,306.06 L293.45,306.26 L293.65,306.11 L293.85,305.61 L294.05,304.79 L294.25,303.70 L294.45,302.39 L294.65,300.93 L294.85,299.40 L295.05,297.88 L295.25,296.46 L295.45,295.21 L295.65,294.19 L295.85,293.47 L296.05,293.07 L296.25,293.03 L296.45,293.34 L296.65,294.00 L296.85,294.99 L297.05,296.24 L297.25,297.70 L297.45,299.31 L297.65,300.98 L297.85,302.64 L298.05,304.20 L298.25,305.59 L298.45,306.74 L298.65,307.59 L298.85,308.12 L299.05,308.29 L299.25,308.10 L299.45,307.56 L299.65,306.70 L299.85,305.57 L300.05,304.24 L300.25,302.76 L300.45,301.22 L300.65,299.70 L300.85,298.27 L301.05,297.03 L301.25,296.02 L301.45,295.31 L301.65,294.93 L301.85,294.91 L302.05,295.25 L302.25,295.93 L302.45,296.94 L302.65,298.22 L302.85,299.70 L303.05,301.33 L303.25,303.02 L303.45,304.68 L303.65,306.25 L303.85,307.64 L304.05,308.79 L304.25,309.64 L304.45,310.16 L304.65,310.32 L304.85,310.12 L305.05,309.56 L305.25,308.69 L305.45,307.55 L305.65,306.20 L305.85,304.70 L306.05,303.15 L306.25,301.61 L306.45,300.18 L306.65,298.92 L306.85,297.91 L307.05,297.19 L307.25,296.80 L307.45,296.78 L307.65,297.12 L307.85,297.81 L308.05,298.82 L308.25,300.11 L308.45,301.60 L308.65,303.24 L308.85,304.94 L309.05,306.62 L309.25,308.21 L309.45,309.61 L309.65,310.78 L309.85,311.65 L310.05,312.19 L310.25,312.36 L310.45,312.17 L310.65,311.63 L310.85,310.76 L311.05,309.62 L311.25,308.26 L311.45,306.76 L311.65,305.19 L311.85,303.64 L312.05,302.19 L312.25,300.90 L312.45,299.86 L312.65,299.11 L312.85,298.70 L313.05,298.65 L313.25,298.96 L313.45,299.63 L313.65,300.63 L313.85,301.90 L314.05,303.39 L314.25,305.03 L314.45,306.74 L314.65,308.44 L314.85,310.05 L315.05,311.49 L315.25,312.70 L315.45,313.61 L315.65,314.19 L315.85,314.40 L316.05,314.25 L316.25,313.74 L316.45,312.91 L316.65,311.79 L316.85,310.44 L317.05,308.94 L317.25,307.37 L317.45,305.80 L317.65,304.31 L317.85,302.99 L318.05,301.90 L318.25,301.09 L318.45,300.63 L318.65,300.52 L318.85,300.78 L319.05,301.40 L319.25,302.35 L319.45,303.59 L319.65,305.06 L319.85,306.69 L320.05,308.41 L320.25,310.14 L320.45,311.78 L320.65,313.27 L320.85,314.53 L321.05,315.50 L321.25,316.15 L321.45,316.44 L321.65,316.36 L321.85,315.91 L322.05,315.13 L322.25,314.06 L322.45,312.74 L322.65,311.26 L322.85,309.68 L323.05,308.08 L323.25,306.56 L323.45,305.18 L323.65,304.03 L323.85,303.15 L324.05,302.60 L324.25,302.40 L324.45,302.58 L324.65,303.11 L324.85,304.00 L325.05,305.18 L325.25,306.61 L325.45,308.23 L325.65,309.94 L325.85,311.68 L326.05,313.37 L326.25,314.92 L326.45,316.25 L326.65,317.32 L326.85,318.06 L327.05,318.45 L327.25,318.47 L327.45,318.12 L327.65,317.43 L327.85,316.42 L328.05,315.16 L328.25,313.70 L328.45,312.13 L328.65,310.52 L328.85,308.95 L329.05,307.51 L329.25,306.27 L329.45,305.29 L329.65,304.63 L329.85,304.32 L330.05,304.38 L330.25,304.80 L330.45,305.58 L330.65,306.68 L330.85,308.05 L331.05,309.62 L331.25,311.32 L331.45,313.08 L331.65,314.80 L331.85,316.42 L332.05,317.85 L332.25,319.02 L332.45,319.89 L332.65,320.41 L332.85,320.57 L333.05,320.35 L333.25,319.77 L333.45,318.87 L333.65,317.69 L333.85,316.29 L334.05,314.74 L334.25,313.12 L334.45,311.51 L334.65,310.00 L334.85,308.66 L335.05,307.57 L335.25,306.77 L335.45,306.30 L335.65,306.21 L335.85,306.49 L336.05,307.13 L336.25,308.11 L336.45,309.38 L336.65,310.88 L336.85,312.55 L337.05,314.31 L337.25,316.07 L337.45,317.75 L337.65,319.28 L337.85,320.58 L338.05,321.60 L338.25,322.29 L338.45,322.61 L338.65,322.57 L338.85,322.16 L339.05,321.40 L339.25,320.33 L339.45,319.02 L339.65,317.52 L339.85,315.91 L340.05,314.27 L340.25,312.69 L340.45,311.25 L340.65,310.01 L340.85,309.05 L341.05,308.40 L341.25,308.12 L341.45,308.21 L341.65,308.68 L341.85,309.51 L342.05,310.66 L342.25,312.07 L342.45,313.68 L342.65,315.43 L342.85,317.22 L343.05,318.98 L343.25,320.63 L343.45,322.08 L343.65,323.28 L343.85,324.16 L344.05,324.70 L344.25,324.86 L344.45,324.65 L344.65,324.07 L344.85,323.16 L345.05,321.97 L345.25,320.55 L345.45,318.98 L345.65,317.34 L345.85,315.71 L346.05,314.16 L346.25,312.79 L346.45,311.66 L346.65,310.82 L346.85,310.32 L347.05,310.19 L347.25,310.44 L347.45,311.05 L347.65,312.01 L347.85,313.27 L348.05,314.78 L348.25,316.46 L348.45,318.25 L348.65,320.05 L348.85,321.78 L349.05,323.38 L349.25,324.75 L349.45,325.85 L349.65,326.62 L349.85,327.03 L350.05,327.06 L350.25,326.71 L350.45,326.02 L350.65,325.00 L350.85,323.72 L351.05,322.23 L351.25,320.62 L351.45,318.96 L351.65,317.34 L351.85,315.84 L352.05,314.52 L352.25,313.46 L352.45,312.72 L352.65,312.33 L352.85,312.31 L353.05,312.66 L353.25,313.39 L353.45,314.44 L353.65,315.79 L353.85,317.36 L354.05,319.09 L354.25,320.89 L354.45,322.69 L354.65,324.41 L354.85,325.96 L355.05,327.27 L355.25,328.30 L355.45,328.99 L355.65,329.30 L355.85,329.25 L356.05,328.81 L356.25,328.03 L356.45,326.95 L356.65,325.60 L356.85,324.08 L357.05,322.44 L357.25,320.77 L357.45,319.16 L357.65,317.68 L357.85,316.40 L358.05,315.40 L358.25,314.71 L358.45,314.39 L358.65,314.44 L358.85,314.86 L359.05,315.65 L359.25,316.77 L359.45,318.16 L359.65,319.77 L359.85,321.53 L360.05,323.34 L360.25,325.15 L360.45,326.85 L360.65,328.38 L360.85,329.67 L361.05,330.65 L361.25,331.29 L361.45,331.56 L361.65,331.46 L361.85,330.98 L362.05,330.15 L362.25,329.03 L362.45,327.66 L362.65,326.11 L362.85,324.45 L363.05,322.78 L363.25,321.16 L363.45,319.69 L363.65,318.43 L363.85,317.44 L364.05,316.78 L364.25,316.48 L364.45,316.56 L364.65,317.01 L364.85,317.82 L365.05,318.96 L365.25,320.37 L365.45,322.00 L365.65,323.77 L365.85,325.60 L366.05,327.41 L366.25,329.11 L366.45,330.64 L366.65,331.93 L366.85,332.91 L367.05,333.55 L367.25,333.82 L367.45,333.71 L367.65,333.23 L367.85,332.40 L368.05,331.27 L368.25,329.89 L368.45,328.33 L368.65,326.67 L368.85,324.99 L369.05,323.36 L369.25,321.88 L369.45,320.60 L369.65,319.60 L369.85,318.92 L370.05,318.60 L370.25,318.65 L370.45,319.09 L370.65,319.88 L370.85,321.00 L371.05,322.41 L371.25,324.03 L371.45,325.80 L371.65,327.63 L371.85,329.45 L372.05,331.18 L372.25,332.74 L372.45,334.06 L372.65,335.08 L372.85,335.76 L373.05,336.07 L373.25,336.00 L373.45,335.56 L373.65,334.77 L373.85,333.67 L374.05,332.32 L374.25,330.77 L374.45,329.11 L374.65,327.42 L374.85,325.77 L375.05,324.25 L375.25,322.93 L375.45,321.87 L375.65,321.13 L375.85,320.74 L376.05,320.74 L376.25,321.12 L376.45,321.87 L376.65,322.95 L376.85,324.31 L377.05,325.91 L377.25,327.66 L377.45,329.50 L377.65,331.33 L377.85,333.09 L378.05,334.68 L378.25,336.06 L378.45,337.15 L378.65,337.91 L378.85,338.32 L379.05,338.35 L379.25,338.00 L379.45,337.31 L379.65,336.30 L379.85,335.03 L380.05,333.55 L380.25,331.95 L380.45,330.29 L380.65,328.65 L380.85,327.13 L381.05,325.78 L381.25,324.67 L381.45,323.86 L381.65,323.39 L381.85,323.28 L382.05,323.54 L382.25,324.16 L382.45,325.12 L382.65,326.38 L382.85,327.88 L383.05,329.56 L383.25,331.34 L383.45,333.15 L383.65,334.91 L383.85,336.55 L384.05,337.98 L384.25,339.17 L384.45,340.04 L384.65,340.57 L384.85,340.74 L385.05,340.54 L385.25,339.99 L385.45,339.12 L385.65,337.97 L385.85,336.60 L386.05,335.06 L386.25,333.45 L386.45,331.83 L386.65,330.28 L386.85,328.87 L387.05,327.68 L387.25,326.75 L387.45,326.14 L387.65,325.88 L387.85,325.97 L388.05,326.42 L388.25,327.22 L388.45,328.32 L388.65,329.69 L388.85,331.26 L389.05,332.97 L389.25,334.75 L389.45,336.51 L389.65,338.19 L389.85,339.71 L390.05,341.00 L390.25,342.02 L390.45,342.71 L390.65,343.07 L390.85,343.06 L391.05,342.71 L391.25,342.02 L391.45,341.03 L391.65,339.80 L391.85,338.37 L392.05,336.83 L392.25,335.23 L392.45,333.67 L392.65,332.20 L392.85,330.90 L393.05,329.84 L393.25,329.06 L393.45,328.59 L393.65,328.48 L393.85,328.71 L394.05,329.30 L394.25,330.20 L394.45,331.39 L394.65,332.82 L394.85,334.42 L395.05,336.13 L395.25,337.88 L395.45,339.59 L395.65,341.19 L395.85,342.60 L396.05,343.79 L396.25,344.68 L396.45,345.26 L396.65,345.49 L396.85,345.37 L397.05,344.92 L397.25,344.15 L397.45,343.10 L397.65,341.83 L397.85,340.39 L398.05,338.86 L398.25,337.29 L398.45,335.78 L398.65,334.39 L398.85,333.17 L399.05,332.20 L399.25,331.52 L399.45,331.15 L399.65,331.13 L399.85,331.44 L400.05,332.10 L400.25,333.06 L400.45,334.28 L400.65,335.73 L400.85,337.33 L401.05,339.02 L401.25,340.73 L401.45,342.39 L401.65,343.93 L401.85,345.28 L402.05,346.39 L402.25,347.21 L402.45,347.72 L402.65,347.89 L402.85,347.72 L403.05,347.23 L403.25,346.43 L403.45,345.37 L403.65,344.10 L403.85,342.68 L404.05,341.17 L404.25,339.64 L404.45,338.17 L404.65,336.82 L404.85,335.66 L405.05,334.73 L405.25,334.09 L405.45,333.77 L405.65,333.78 L405.85,334.12 L406.05,334.79 L406.25,335.76 L406.45,336.98 L406.65,338.42 L406.85,340.01 L407.05,341.68 L407.25,343.37 L407.45,345.00 L407.65,346.52 L407.85,347.84 L408.05,348.94 L408.25,349.75 L408.45,350.25 L408.65,350.41 L408.85,350.25 L409.05,349.76 L409.25,348.98 L409.45,347.94 L409.65,346.69 L409.85,345.29 L410.05,343.81 L410.25,342.30 L410.45,340.85 L410.65,339.52 L410.85,338.36 L411.05,337.44 L411.25,336.79 L411.45,336.45 L411.65,336.44 L411.85,336.76 L412.05,337.39 L412.25,338.32 L412.45,339.51 L412.65,340.91 L412.85,342.46 L413.05,344.11 L413.25,345.77 L413.45,347.39 L413.65,348.90 L413.85,350.24 L414.05,351.35 L414.25,352.19 L414.45,352.73 L414.65,352.95 L414.85,352.85 L415.05,352.42 L415.25,351.70 L415.45,350.72 L415.65,349.53 L415.85,348.18 L416.05,346.73 L416.25,345.25 L416.45,343.81 L416.65,342.46 L416.85,341.28 L417.05,340.32 L417.25,339.62 L417.45,339.21 L417.65,339.12 L417.85,339.35 L418.05,339.90 L418.25,340.74 L418.45,341.85 L418.65,343.18 L418.85,344.67 L419.05,346.27 L419.25,347.91 L419.45,349.52 L419.65,351.05 L419.85,352.43 L420.05,353.60 L420.25,354.52 L420.45,355.15 L420.65,355.47 L420.85,355.48 L421.05,355.17 L421.25,354.56 L421.45,353.69 L421.65,352.59 L421.85,351.31 L422.05,349.92 L422.25,348.47 L422.45,347.03 L422.65,345.66 L422.85,344.43 L423.05,343.39 L423.25,342.59 L423.45,342.07 L423.65,341.85 L423.85,341.94 L424.05,342.34 L424.25,343.05 L424.45,344.03 L424.65,345.24 L424.85,346.64 L425.05,348.17 L425.25,349.78 L425.45,351.39 L425.65,352.94 L425.85,354.37 L426.05,355.63 L426.25,356.67 L426.45,357.44 L426.65,357.92 L426.85,358.09 L427.05,357.95 L427.25,357.51 L427.45,356.79 L427.65,355.82 L427.85,354.66 L428.05,353.34 L428.25,351.94 L428.45,350.51 L428.65,349.12 L428.85,347.83 L429.05,346.69 L429.25,345.76 L429.45,345.08 L429.65,344.68 L429.85,344.59 L430.05,344.80 L430.25,345.31 L430.45,346.11 L430.65,347.16 L430.85,348.43 L431.05,349.86 L431.25,351.40 L431.45,352.99 L431.65,354.56 L431.85,356.06 L432.05,357.42 L432.25,358.59 L432.45,359.54 L432.65,360.21 L432.85,360.59 L433.05,360.67 L433.25,360.45 L433.45,359.94 L433.65,359.16 L433.85,358.15 L434.05,356.96 L434.25,355.65 L434.45,354.26 L434.65,352.86 L434.85,351.51 L435.05,350.27 L435.25,349.19 L435.45,348.33 L435.65,347.72 L435.85,347.39 L436.05,347.36 L436.25,347.63 L436.45,348.19 L436.65,349.03 L436.85,350.10 L437.05,351.38 L437.25,352.81 L437.45,354.34 L437.65,355.90 L437.85,357.45 L438.05,358.90 L438.25,360.22 L438.45,361.35 L438.65,362.25 L438.85,362.88 L439.05,363.22 L439.25,363.27 L439.45,363.02 L439.65,362.49 L439.85,361.71 L440.05,360.70 L440.25,359.52 L440.45,358.22 L440.65,356.85 L440.85,355.48 L441.05,354.16 L441.25,352.95 L441.45,351.90 L441.65,351.07 L441.85,350.48 L442.05,350.16 L442.25,350.14 L442.45,350.41 L442.65,350.96 L442.85,351.79 L443.05,352.85 L443.25,354.10 L443.45,355.51 L443.65,357.01 L443.85,358.55 L444.05,360.07 L444.25,361.51 L444.45,362.81 L444.65,363.93 L444.85,364.83 L445.05,365.47 L445.25,365.83 L445.45,365.90 L445.65,365.68 L445.85,365.18 L446.05,364.43 L446.25,363.47 L446.45,362.33 L446.65,361.07 L446.85,359.73 L447.05,358.38 L447.25,357.07 L447.45,355.87 L447.65,354.81 L447.85,353.96 L448.05,353.34 L448.25,352.98 L448.45,352.92 L448.65,353.14 L448.85,353.64 L449.05,354.41 L449.25,355.43 L449.45,356.64 L449.65,358.02 L449.85,359.50 L450.05,361.03 L450.25,362.55 L450.45,364.01 L450.65,365.35 L450.85,366.52 L451.05,367.48 L451.25,368.19 L451.45,368.63 L451.65,368.78 L451.85,368.65 L452.05,368.23 L452.25,367.56 L452.45,366.66 L452.65,365.58 L452.85,364.35 L453.05,363.03 L453.25,361.68 L453.45,360.36 L453.65,359.12 L453.85,358.02 L454.05,357.10 L454.25,356.40 L454.45,355.96 L454.65,355.79 L454.85,355.91 L455.05,356.31 L455.25,356.99 L455.45,357.92 L455.65,359.06 L455.85,360.37 L456.05,361.82 L456.25,363.33 L456.45,364.86 L456.65,366.35 L456.85,367.74 L457.05,368.98 L457.25,370.03 L457.45,370.85 L457.65,371.41 L457.85,371.69 L458.05,371.68 L458.25,371.39 L458.45,370.83 L458.65,370.04 L458.85,369.03 L459.05,367.87 L459.25,366.59 L459.45,365.26 L459.65,363.92 L459.85,362.64 L460.05,361.46 L460.25,360.45 L460.45,359.63 L460.65,359.05 L460.85,358.74 L461.05,358.71 L461.25,358.96 L461.45,359.49 L461.65,360.28 L461.85,361.31 L462.05,362.53 L462.25,363.90 L462.45,365.38 L462.65,366.90 L462.85,368.41 L463.05,369.87 L463.25,371.20 L463.45,372.37 L463.65,373.33 L463.85,374.04 L464.05,374.50 L464.25,374.67 L464.45,374.55 L464.65,374.17 L464.85,373.52 L465.05,372.65 L465.25,371.59 L465.45,370.39 L465.65,369.09 L465.85,367.75 L466.05,366.43 L466.25,365.18 L466.45,364.05 L466.65,363.09 L466.85,362.35 L467.05,361.85 L467.25,361.62 L467.45,361.67 L467.65,362.00 L467.85,362.60 L468.05,363.45 L468.25,364.53 L468.45,365.79 L468.65,367.19 L468.85,368.68 L469.05,370.20 L469.25,371.70 L469.45,373.13 L469.65,374.43 L469.85,375.55 L470.05,376.46 L470.25,377.12 L470.45,377.52 L470.65,377.64 L470.85,377.47 L471.05,377.04 L471.25,376.36 L471.45,375.45 L471.65,374.37 L471.85,373.15 L472.05,371.85 L472.25,370.51 L472.45,369.20 L472.65,367.96 L472.85,366.86 L473.05,365.93 L473.25,365.22 L473.45,364.75 L473.65,364.54 L473.85,364.62 L474.05,364.97 L474.25,365.60 L474.45,366.47 L474.65,367.56 L474.85,368.83 L475.05,370.23 L475.25,371.72 L475.45,373.24 L475.65,374.73 L475.85,376.15 L476.05,377.44 L476.25,378.56 L476.45,379.46 L476.65,380.11 L476.85,380.51 L477.05,380.62 L477.25,380.46 L477.45,380.03 L477.65,379.35 L477.85,378.45 L478.05,377.37 L478.25,376.16 L478.45,374.86 L478.65,373.53 L478.85,372.22 L479.05,370.98 L479.25,369.88 L479.45,368.94 L479.65,368.21 L479.85,367.72 L480.05,367.50 L480.25,367.55 L480.45,367.88 L480.65,368.48 L480.85,369.33 L481.05,370.39 L481.25,371.64 L481.45,373.03 L481.65,374.50 L481.85,376.02 L482.05,377.52 L482.25,378.94 L482.45,380.25 L482.65,381.39 L482.85,382.33 L483.05,383.02 L483.25,383.46 L483.45,383.62 L483.65,383.51 L483.85,383.13 L484.05,382.50 L484.25,381.64 L484.45,380.60 L484.65,379.42 L484.85,378.13 L485.05,376.81 L485.25,375.49 L485.45,374.24 L485.65,373.10 L485.85,372.12 L486.05,371.34 L486.25,370.79 L486.45,370.50 L486.65,370.48 L486.85,370.74 L487.05,371.27 L487.25,372.05 L487.45,373.06 L487.65,374.25 L487.85,375.60 L488.05,377.06 L488.25,378.56 L488.45,380.06 L488.65,381.51 L488.85,382.86 L489.05,384.05 L489.25,385.05 L489.45,385.83 L489.65,386.35 L489.85,386.61 L490.05,386.59 L490.25,386.30 L490.45,385.76 L490.65,384.99 L490.85,384.02 L491.05,382.90 L491.25,381.67 L491.45,380.37 L491.65,379.07 L491.85,377.81 L492.05,376.64 L492.25,375.61 L492.45,374.77 L492.65,374.14 L492.85,373.75 L493.05,373.61 L493.25,373.75 L493.45,374.15 L493.65,374.80 L493.85,375.69 L494.05,376.78 L494.25,378.03 L494.45,379.40 L494.65,380.84 L494.85,382.31 L495.05,383.75 L495.25,385.11 L495.45,386.34 L495.65,387.41 L495.85,388.28 L496.05,388.92 L496.25,389.30 L496.45,389.43 L496.65,389.29 L496.85,388.90 L497.05,388.28 L497.25,387.45 L497.45,386.44 L497.65,385.31 L497.85,384.09 L498.05,382.83 L498.25,381.58 L498.45,380.39 L498.65,379.31 L498.85,378.39 L499.05,377.65 L499.25,377.13 L499.45,376.84 L499.65,376.82 L499.85,377.05 L500.05,377.53 L500.25,378.25 L500.45,379.18 L500.65,380.29 L500.85,381.55 L501.05,382.91 L501.25,384.32 L501.45,385.74 L501.65,387.12 L501.85,388.41 L502.05,389.56 L502.25,390.54 L502.45,391.32 L502.65,391.87 L502.85,392.18 L503.05,392.23 L503.25,392.03 L503.45,391.59 L503.65,390.94 L503.85,390.09 L504.05,389.09 L504.25,387.97 L504.45,386.77 L504.65,385.55 L504.85,384.36 L505.05,383.23 L505.25,382.22 L505.45,381.36 L505.65,380.69 L505.85,380.24 L506.05,380.02 L506.25,380.04 L506.45,380.31 L506.65,380.83 L506.85,381.56 L507.05,382.50 L507.25,383.61 L507.45,384.84 L507.65,386.17 L507.85,387.55 L508.05,388.92 L508.25,390.25 L508.45,391.48 L508.65,392.58 L508.85,393.51 L509.05,394.24 L509.25,394.75 L509.45,395.02 L509.65,395.05 L509.85,394.84 L510.05,394.40 L510.25,393.75 L510.45,392.92 L510.65,391.94 L510.85,390.86 L511.05,389.70 L511.25,388.53 L511.45,387.38 L511.65,386.30 L511.85,385.33 L512.05,384.51 L512.25,383.87 L512.45,383.44 L512.65,383.23 L512.85,383.26 L513.05,383.53 L513.25,384.03 L513.45,384.74 L513.65,385.65 L513.85,386.72 L514.05,387.92 L514.25,389.20 L514.45,390.53 L514.65,391.87 L514.85,393.15 L515.05,394.35 L515.25,395.42 L515.45,396.34 L515.65,397.06 L515.85,397.57 L516.05,397.85 L516.25,397.90 L516.45,397.72 L516.65,397.31 L516.85,396.70 L517.05,395.91 L517.25,394.98 L517.45,393.94 L517.65,392.83 L517.85,391.70 L518.05,390.59 L518.25,389.54 L518.45,388.59 L518.65,387.79 L518.85,387.15 L519.05,386.71 L519.25,386.48 L519.45,386.48 L519.65,386.69 L519.85,387.12 L520.05,387.75 L520.25,388.58 L520.45,389.57 L520.65,390.68 L520.85,391.89 L521.05,393.15 L521.25,394.42 L521.45,395.65 L521.65,396.82 L521.85,397.87 L522.05,398.78 L522.25,399.51 L522.45,400.04 L522.65,400.36 L522.85,400.46 L523.05,400.33 L523.25,400.00 L523.45,399.46 L523.65,398.74 L523.85,397.88 L524.05,396.90 L524.25,395.84 L524.45,394.75 L524.65,393.66 L524.85,392.62 L525.05,391.66 L525.25,390.82 L525.45,390.13 L525.65,389.63 L525.85,389.32 L526.05,389.23 L526.25,389.36 L526.45,389.71 L526.65,390.26 L526.85,391.01 L527.05,391.92 L527.25,392.97 L527.45,394.12 L527.65,395.33 L527.85,396.58 L528.05,397.80 L528.25,398.97 L528.45,400.05 L528.65,401.00 L528.85,401.79 L529.05,402.39 L529.25,402.80 L529.45,402.99 L529.65,402.96 L529.85,402.72 L530.05,402.28 L530.25,401.66 L530.45,400.88 L530.65,399.98 L530.85,398.98 L531.05,397.92 L531.25,396.85 L531.45,395.81 L531.65,394.83 L531.85,393.95 L532.05,393.21 L532.25,392.63 L532.45,392.23 L532.65,392.04 L532.85,392.05 L533.05,392.28 L533.25,392.72 L533.45,393.35 L533.65,394.16 L533.85,395.12 L534.05,396.19 L534.25,397.35 L534.45,398.56 L534.65,399.77 L534.85,400.95 L535.05,402.06 L535.25,403.06 L535.45,403.93 L535.65,404.63 L535.85,405.14 L536.05,405.45 L536.25,405.56 L536.45,405.45 L536.65,405.14 L536.85,404.65 L537.05,403.98 L537.25,403.17 L537.45,402.26 L537.65,401.26 L537.85,400.22 L538.05,399.19 L538.25,398.19 L538.45,397.26 L538.65,396.45 L538.85,395.77 L539.05,395.27 L539.25,394.94 L539.45,394.82 L539.65,394.90 L539.85,395.19 L540.05,395.68 L540.25,396.35 L540.45,397.18 L540.65,398.15 L540.85,399.23 L541.05,400.38 L541.25,401.56 L541.45,402.74 L541.65,403.88 L541.85,404.94 L542.05,405.89 L542.25,406.70 L542.45,407.34 L542.65,407.80 L542.85,408.06 L543.05,408.12 L543.25,407.98 L543.45,407.65 L543.65,407.13 L543.85,406.46 L544.05,405.65 L544.25,404.74 L544.45,403.76 L544.65,402.75 L544.85,401.74 L545.05,400.77 L545.25,399.89 L545.45,399.11 L545.65,398.48 L545.85,398.01 L546.05,397.72 L546.25,397.63 L546.45,397.74 L546.65,398.05 L546.85,398.56 L547.05,399.24 L547.25,400.07 L547.45,401.04 L547.65,402.11 L547.85,403.24 L548.05,404.41 L548.25,405.57 L548.45,406.68 L548.65,407.72 L548.85,408.65 L549.05,409.44 L549.25,410.07 L549.45,410.51 L549.65,410.76 L549.85,410.81 L550.05,410.66 L550.25,410.33 L550.45,409.81 L550.65,409.15 L550.85,408.35 L551.05,407.45 L551.25,406.48 L551.45,405.49 L551.65,404.50 L551.85,403.55 L552.05,402.67 L552.25,401.91 L552.45,401.28 L552.65,400.82 L552.85,400.53 L553.05,400.44 L553.25,400.54 L553.45,400.84 L553.65,401.33 L553.85,401.99 L554.05,402.81 L554.25,403.76 L554.45,404.81 L554.65,405.92 L554.85,407.07 L555.05,408.22 L555.25,409.33 L555.45,410.36 L555.65,411.29 L555.85,412.08 L556.05,412.72 L556.25,413.18 L556.45,413.45 L556.65,413.52 L556.85,413.40 L557.05,413.09 L557.25,412.61 L557.45,411.97 L557.65,411.20 L557.85,410.33 L558.05,409.38 L558.25,408.41 L558.45,407.43 L558.65,406.48 L558.85,405.61 L559.05,404.83 L559.25,404.19 L559.45,403.70 L559.65,403.39 L559.85,403.26 L560.05,403.32 L560.25,403.58 L560.45,404.02 L560.65,404.64 L560.85,405.42 L561.05,406.33 L561.25,407.34 L561.45,408.43 L561.65,409.56 L561.85,410.70 L562.05,411.80 L562.25,412.85 L562.45,413.79 L562.65,414.61 L562.85,415.28 L563.05,415.79 L563.25,416.11 L563.45,416.23 L563.65,416.17 L563.85,415.92 L564.05,415.50 L564.25,414.91 L564.45,414.19 L564.65,413.36 L564.85,412.45 L565.05,411.49 L565.25,410.52 L565.45,409.58 L565.65,408.69 L565.85,407.89 L566.05,407.21 L566.25,406.68 L566.45,406.31 L566.65,406.11 L566.85,406.11 L567.05,406.29 L567.25,406.66 L567.45,407.21 L567.65,407.92 L567.85,408.77 L568.05,409.74 L568.25,410.79 L568.45,411.89 L568.65,413.01 L568.85,414.12 L569.05,415.18 L569.25,416.16 L569.45,417.02 L569.65,417.75 L569.85,418.32 L570.05,418.72 L570.25,418.93 L570.45,418.95 L570.65,418.79 L570.85,418.45 L571.05,417.95 L571.25,417.30 L571.45,416.52 L571.65,415.66 L571.85,414.74 L572.05,413.79 L572.25,412.84 L572.45,411.93 L572.65,411.10 L572.85,410.37 L573.05,409.77 L573.25,409.31 L573.45,409.03 L573.65,408.93 L573.85,409.01 L574.05,409.28 L574.25,409.73 L574.45,410.35 L574.65,411.12 L574.85,412.01 L575.05,413.00 L575.25,414.07 L575.45,415.17 L575.65,416.27 L575.85,417.35 L576.05,418.37 L576.25,419.29 L576.45,420.09 L576.65,420.75 L576.85,421.25 L577.05,421.57 L577.25,421.70 L577.45,421.66 L577.65,421.43 L577.85,421.03 L578.05,420.48 L578.25,419.79 L578.45,419.00 L578.65,418.12 L578.85,417.20 L579.05,416.26 L579.25,415.34 L579.45,414.47 L579.65,413.68 L579.85,412.99 L580.05,412.45 L580.25,412.06 L580.45,411.84 L580.65,411.79 L580.85,411.93 L581.05,412.26 L581.25,412.75 L581.45,413.41 L581.65,414.20 L581.85,415.12 L582.05,416.12 L582.25,417.18 L582.45,418.27 L582.65,419.36 L582.85,420.41 L583.05,421.39 L583.25,422.27 L583.45,423.03 L583.65,423.64 L583.85,424.09 L584.05,424.37 L584.25,424.46 L584.45,424.37 L584.65,424.09 L584.85,423.65 L585.05,423.07 L585.25,422.36 L585.45,421.56 L585.65,420.68 L585.85,419.77 L586.05,418.85 L586.25,417.95 L586.45,417.11 L586.65,416.36 L586.85,415.72 L587.05,415.22 L587.25,414.87 L587.45,414.68 L587.65,414.67 L587.85,414.84 L588.05,415.18 L588.25,415.68 L588.45,416.32 L588.65,417.10 L588.85,417.98 L589.05,418.94 L589.25,419.96 L589.45,421.00 L589.65,422.03 L589.85,423.02 L590.05,423.94 L590.25,424.76 L590.45,425.47 L590.65,426.03 L590.85,426.43 L591.05,426.67 L591.25,426.74 L591.45,426.63 L591.65,426.36 L591.85,425.94 L592.05,425.37 L592.25,424.69 L592.45,423.92 L592.65,423.08 L592.85,422.20 L593.05,421.32 L593.25,420.46 L593.45,419.66 L593.65,418.94 L593.85,418.32 L594.05,417.83 L594.25,417.49 L594.45,417.31 L594.65,417.30 L594.85,417.45 L595.05,417.77 L595.25,418.25 L595.45,418.87 L595.65,419.62 L595.85,420.47 L596.05,421.41 L596.25,422.39 L596.45,423.39 L596.65,424.39 L596.85,425.35 L597.05,426.25 L597.25,427.05 L597.45,427.74 L597.65,428.29 L597.85,428.70 L598.05,428.94 L598.25,429.02 L598.45,428.93 L598.65,428.69 L598.85,428.29 L599.05,427.76 L599.25,427.12 L599.45,426.38 L599.65,425.58 L599.85,424.74 L600.05,423.89 L600.25,423.06 L600.45,422.28 L600.65,421.57 L600.85,420.97 L601.05,420.48 L601.25,420.13 L601.45,419.94 L601.65,419.90 L601.85,420.03 L602.05,420.32 L602.25,420.76 L602.45,421.34 L602.65,422.04 L602.85,422.85 L603.05,423.74 L603.25,424.68 L603.45,425.66 L603.65,426.62 L603.85,427.56 L604.05,428.44 L604.25,429.24 L604.45,429.93 L604.65,430.49 L604.85,430.92 L605.05,431.19 L605.25,431.30 L605.45,431.26 L605.65,431.06 L605.85,430.71 L606.05,430.24 L606.25,429.64 L606.45,428.96 L606.65,428.20 L606.85,427.40 L607.05,426.58 L607.25,425.78 L607.45,425.01 L607.65,424.31 L607.85,423.70 L608.05,423.20 L608.25,422.83 L608.45,422.60 L608.65,422.52 L608.85,422.60 L609.05,422.83 L609.25,423.21 L609.45,423.73 L609.65,424.38 L609.85,425.13 L610.05,425.97 L610.25,426.87 L610.45,427.80 L610.65,428.74 L610.85,429.66 L611.05,430.53 L611.25,431.33 L611.45,432.04 L611.65,432.63 L611.85,433.09 L612.05,433.41 L612.25,433.58 L612.45,433.60 L612.65,433.46 L612.85,433.18 L613.05,432.77 L613.25,432.25 L613.45,431.62 L613.65,430.92 L613.85,430.16 L614.05,429.38 L614.25,428.60 L614.45,427.85 L614.65,427.14 L614.85,426.52 L615.05,425.99 L615.25,425.58 L615.45,425.31 L615.65,425.17 L615.85,425.18 L616.05,425.34 L616.25,425.65 L616.45,426.09 L616.65,426.66 L616.85,427.35 L617.05,428.12 L617.25,428.96 L617.45,429.85 L617.65,430.76 L617.85,431.65 L618.05,432.52 L618.25,433.33 L618.45,434.06 L618.65,434.69 L618.85,435.20 L619.05,435.58 L619.25,435.82 L619.45,435.91 L619.65,435.86 L619.85,435.67 L620.05,435.34 L620.25,434.89 L620.45,434.33 L620.65,433.69 L620.85,432.99 L621.05,432.25 L621.25,431.50 L621.45,430.76 L621.65,430.06 L621.85,429.42 L622.05,428.86 L622.25,428.41 L622.45,428.07 L622.65,427.87 L622.85,427.80 L623.05,427.87 L623.25,428.07 L623.45,428.41 L623.65,428.88 L623.85,429.47 L624.05,430.15 L624.25,430.91 L624.45,431.72 L624.65,432.57 L624.85,433.43 L625.05,434.27 L625.25,435.07 L625.45,435.81 L625.65,436.47 L625.85,437.02 L626.05,437.46 L626.25,437.77 L626.45,437.95 L626.65,437.99 L626.85,437.89 L627.05,437.65 L627.25,437.30 L627.45,436.83 L627.65,436.28 L627.85,435.64 L628.05,434.96 L628.25,434.25 L628.45,433.53 L628.65,432.83 L628.85,432.17 L629.05,431.58 L629.25,431.07 L629.45,430.66 L629.65,430.37 L629.85,430.20 L630.05,430.17 L630.25,430.27 L630.45,430.51 L630.65,430.87 L630.85,431.36 L631.05,431.95 L631.25,432.63 L631.45,433.37 L631.65,434.17 L631.85,435.00 L632.05,435.82 L632.25,436.63 L632.45,437.39 L632.65,438.09 L632.85,438.70 L633.05,439.22 L633.25,439.61 L633.45,439.89 L633.65,440.03 L633.85,440.04 L634.05,439.92 L634.25,439.67 L634.45,439.31 L634.65,438.85 L634.85,438.30 L635.05,437.68 L635.25,437.02 L635.45,436.33 L635.65,435.64 L635.85,434.98 L636.05,434.36 L636.25,433.80 L636.45,433.33 L636.65,432.95 L636.85,432.69 L637.05,432.55 L637.25,432.54 L637.45,432.66 L637.65,432.91 L637.85,433.28 L638.05,433.77 L638.25,434.35 L638.45,435.01 L638.65,435.74 L638.85,436.52 L639.05,437.31 L639.25,438.11 L639.45,438.88 L639.65,439.61 L639.85,440.28 L640.05,440.86 L640.25,441.35 L640.45,441.72 L640.65,441.98 L640.85,442.10 L641.05,442.11 L641.25,441.98 L641.45,441.74 L641.65,441.39 L641.85,440.94 L642.05,440.41 L642.25,439.81 L642.45,439.18 L642.65,438.52 L642.85,437.86 L643.05,437.23 L643.25,436.63 L643.45,436.10 L643.65,435.65 L643.85,435.30 L644.05,435.06 L644.25,434.93 L644.45,434.92 L644.65,435.04 L644.85,435.29 L645.05,435.65 L645.25,436.11 L645.45,436.67 L645.65,437.32 L645.85,438.02 L646.05,438.76 L646.25,439.53 L646.45,440.30 L646.65,441.04 L646.85,441.75 L647.05,442.39 L647.25,442.96 L647.45,443.43 L647.65,443.80 L647.85,444.05 L648.05,444.18 L648.25,444.19 L648.45,444.08 L648.65,443.85 L648.85,443.52 L649.05,443.10 L649.25,442.60 L649.45,442.03 L649.65,441.43 L649.85,440.80 L650.05,440.17 L650.25,439.56 L650.45,438.99 L650.65,438.48 L650.85,438.04 L651.05,437.69 L651.25,437.45 L651.45,437.32 L651.65,437.31 L651.85,437.41 L652.05,437.63 L652.25,437.97 L652.45,438.41 L652.65,438.94 L652.85,439.55 L653.05,440.22 L653.25,440.93 L653.45,441.67 L653.65,442.41 L653.85,443.13 L654.05,443.81 L654.25,444.44 L654.45,445.00 L654.65,445.47 L654.85,445.84 L655.05,446.10 L655.25,446.25 L655.45,446.28 L655.65,446.20 L655.85,446.00 L656.05,445.70 L656.25,445.32 L656.45,444.85 L656.65,444.32 L656.85,443.75 L657.05,443.15 L657.25,442.55 L657.45,441.96 L657.65,441.41 L657.85,440.91 L658.05,440.48 L658.25,440.13 L658.45,439.88 L658.65,439.73 L658.85,439.69 L659.05,439.77 L659.25,439.96 L659.45,440.26 L659.65,440.65 L659.85,441.13 L660.05,441.70 L660.25,442.32 L660.45,443.00 L660.65,443.70 L660.85,444.41 L661.05,445.11 L661.25,445.79 L661.45,446.41 L661.65,446.97 L661.85,447.46 L662.05,447.84 L662.25,448.13 L662.45,448.31 L662.65,448.37 L662.85,448.32 L663.05,448.16 L663.25,447.90 L663.45,447.54 L663.65,447.10 L663.85,446.59 L664.05,446.03 L664.25,445.44 L664.45,444.83 L664.65,444.24 L664.85,443.67 L665.05,443.14 L665.25,442.68 L665.45,442.29 L665.65,442.00 L665.85,441.80 L666.05,441.72 L666.25,441.75 L666.45,441.89 L666.65,442.14 L666.85,442.49 L667.05,442.94 L667.25,443.48 L667.45,444.08 L667.65,444.74 L667.85,445.43 L668.05,446.14 L668.25,446.85 L668.45,447.53 L668.65,448.17 L668.85,448.75 L669.05,449.26 L669.25,449.68 L669.45,450.01 L669.65,450.22 L669.85,450.33 L670.05,450.32 L670.25,450.20 L670.45,449.98 L670.65,449.65 L670.85,449.25 L671.05,448.77 L671.25,448.23 L671.45,447.65 L671.65,447.06 L671.85,446.46 L672.05,445.88 L672.25,445.34 L672.45,444.85 L672.65,444.44 L672.85,444.10 L673.05,443.87 L673.25,443.73 L673.45,443.71 L673.65,443.80 L673.85,444.00 L674.05,444.31 L674.25,444.71 L674.45,445.21 L674.65,445.77 L674.85,446.40 L675.05,447.08 L675.25,447.78 L675.45,448.48 L675.65,449.17 L675.85,449.83 L676.05,450.44 L676.25,450.98 L676.45,451.44 L676.65,451.81 L676.85,452.08 L677.05,452.24 L677.25,452.29 L677.45,452.23 L677.65,452.06 L677.85,451.79 L678.05,451.43 L678.25,450.99 L678.45,450.48 L678.65,449.93 L678.85,449.35 L679.05,448.75 L679.25,448.17 L679.45,447.61 L679.65,447.09 L679.85,446.64 L680.05,446.27 L680.25,445.98 L680.45,445.79 L680.65,445.71 L680.85,445.73 L681.05,445.87 L681.25,446.12 L681.45,446.46 L681.65,446.91 L681.85,447.43 L682.05,448.02 L682.25,448.67 L682.45,449.35 L682.65,450.05 L682.85,450.74 L683.05,451.42 L683.25,452.05 L683.45,452.63 L683.65,453.14 L683.85,453.57 L684.05,453.89 L684.25,454.12 L684.45,454.23 L684.65,454.24 L684.85,454.13 L685.05,453.91 L685.25,453.60 L685.45,453.20 L685.65,452.73 L685.85,452.21 L686.05,451.64 L686.25,451.06 L686.45,450.48 L686.65,449.91 L686.85,449.37 L687.05,448.89 L687.25,448.47 L687.45,448.14 L687.65,447.89 L687.85,447.75 L688.05,447.70 L688.25,447.77 L688.45,447.94 L688.65,448.21 L688.85,448.58 L689.05,449.03 L689.25,449.56 L689.45,450.14 L689.65,450.77 L689.85,451.43 L690.05,452.09 L690.25,452.74 L690.45,453.37 L690.65,453.95 L690.85,454.47 L691.05,454.92 L691.25,455.28 L691.45,455.56 L691.65,455.73 L691.85,455.80 L692.05,455.76 L692.25,455.63 L692.45,455.40 L692.65,455.08 L692.85,454.69 L693.05,454.23 L693.25,453.72 L693.45,453.18 L693.65,452.62 L693.85,452.07 L694.05,451.53 L694.25,451.03 L694.45,450.58 L694.65,450.20 L694.85,449.89 L695.05,449.68 L695.25,449.56 L695.45,449.54 L695.65,449.62 L695.85,449.80 L696.05,450.08 L696.25,450.45 L696.45,450.90 L696.65,451.42 L696.85,451.99 L697.05,452.60 L697.25,453.24 L697.45,453.87 L697.65,454.50 L697.85,455.10 L698.05,455.65 L698.25,456.14 L698.45,456.56 L698.65,456.90 L698.85,457.15 L699.05,457.29 L699.25,457.34 L699.45,457.29 L699.65,457.14 L699.85,456.90 L700.05,456.57 L700.25,456.18 L700.45,455.72 L700.65,455.22 L700.85,454.69 L701.05,454.15 L701.25,453.61 L701.45,453.10 L701.65,452.62 L701.85,452.20 L702.05,451.84 L702.25,451.56 L702.45,451.36 L702.65,451.26 L702.85,451.26 L703.05,451.36 L703.25,451.55 L703.45,451.84 L703.65,452.21 L703.85,452.66 L704.05,453.17 L704.25,453.74 L704.45,454.34 L704.65,454.95 L704.85,455.57 L705.05,456.18 L705.25,456.75 L705.45,457.28 L705.65,457.75 L705.85,458.15 L706.05,458.47 L706.25,458.70 L706.45,458.83 L706.65,458.86 L706.85,458.80 L707.05,458.65 L707.25,458.40 L707.45,458.08 L707.65,457.69 L707.85,457.25 L708.05,456.76 L708.25,456.25 L708.45,455.72 L708.65,455.20 L708.85,454.71 L709.05,454.25 L709.25,453.85 L709.45,453.51 L709.65,453.25 L709.85,453.07 L710.05,452.98 L710.25,452.99 L710.45,453.09 L710.65,453.29 L710.85,453.57 L711.05,453.94 L711.25,454.38 L711.45,454.88 L711.65,455.43 L711.85,456.02 L712.05,456.62 L712.25,457.22 L712.45,457.81 L712.65,458.36 L712.85,458.87 L713.05,459.33 L713.25,459.71 L713.45,460.02 L713.65,460.23 L713.85,460.36 L714.05,460.39 L714.25,460.33 L714.45,460.18 L714.65,459.94 L714.85,459.62 L715.05,459.24 L715.25,458.81 L715.45,458.34 L715.65,457.84 L715.85,457.33 L716.05,456.83 L716.25,456.36 L716.45,455.92 L716.65,455.53 L716.85,455.21 L717.05,454.95 L717.25,454.78 L717.45,454.70 L717.65,454.71 L717.85,454.81 L718.05,455.00 L718.25,455.28 L718.45,455.63 L718.65,456.05 L718.85,456.54 L719.05,457.06 L719.25,457.62 L719.45,458.20 L719.65,458.78 L719.85,459.34 L720.05,459.88 L720.25,460.37 L720.45,460.81 L720.65,461.18 L720.85,461.48 L721.05,461.69 L721.25,461.81 L721.45,461.84 L721.65,461.79 L721.85,461.64 L722.05,461.42 L722.25,461.12 L722.45,460.75 L722.65,460.34 L722.85,459.89 L723.05,459.41 L723.25,458.92 L723.45,458.44 L723.65,457.98 L723.85,457.55 L724.05,457.17 L724.25,456.86 L724.45,456.61 L724.65,456.44 L724.85,456.35 L725.05,456.36 L725.25,456.45 L725.45,456.63 L725.65,456.89 L725.85,457.23 L726.05,457.63 L726.25,458.10 L726.45,458.61 L726.65,459.15 L726.85,459.71 L727.05,460.27 L727.25,460.82 L727.45,461.34 L727.65,461.82 L727.85,462.25 L728.05,462.62 L728.25,462.91 L728.45,463.12 L728.65,463.25 L728.85,463.29 L729.05,463.25 L729.25,463.12 L729.45,462.91 L729.65,462.63 L729.85,462.29 L730.05,461.89 L730.25,461.46 L730.45,461.00 L730.65,460.53 L730.85,460.06 L731.05,459.62 L731.25,459.20 L731.45,458.83 L731.65,458.52 L731.85,458.27 L732.05,458.10 L732.25,458.01 L732.45,458.00 L732.65,458.08 L732.85,458.24 L733.05,458.49 L733.25,458.81 L733.45,459.19 L733.65,459.63 L733.85,460.12 L734.05,460.64 L734.25,461.18 L734.45,461.73 L734.65,462.26 L734.85,462.77 L735.05,463.25 L735.25,463.67 L735.45,464.03 L735.65,464.33 L735.85,464.55 L736.05,464.69 L736.25,464.74 L736.45,464.71 L736.65,464.60 L736.85,464.42 L737.05,464.16 L737.25,463.84 L737.45,463.46 L737.65,463.05 L737.85,462.62 L738.05,462.16 L738.25,461.71 L738.45,461.28 L738.65,460.87 L738.85,460.51 L739.05,460.20 L739.25,459.95 L739.45,459.77 L739.65,459.67 L739.85,459.65 L740.05,459.71 L740.25,459.85 L740.45,460.08 L740.65,460.37 L740.85,460.73 L741.05,461.15 L741.25,461.62 L741.45,462.12 L741.65,462.64 L741.85,463.16 L742.05,463.68 L742.25,464.18 L742.45,464.65 L742.65,465.07 L742.85,465.44 L743.05,465.74 L743.25,465.97 L743.45,466.12 L743.65,466.19 L743.85,466.18 L744.05,466.09 L744.25,465.93 L744.45,465.69 L744.65,465.39 L744.85,465.04 L745.05,464.64 L745.25,464.23 L745.45,463.79 L745.65,463.36 L745.85,462.94 L746.05,462.55 L746.25,462.19 L746.45,461.88 L746.65,461.63 L746.85,461.45 L747.05,461.34 L747.25,461.30 L747.45,461.34 L747.65,461.45 L747.85,461.64 L748.05,461.89 L748.25,462.22 L748.45,462.59 L748.65,463.02 L748.85,463.48 L749.05,463.96 L749.25,464.45 L749.45,464.94 L749.65,465.41 L749.85,465.85 L750.05,466.26 L750.25,466.61 L750.45,466.91 L750.65,467.14 L750.85,467.30 L751.05,467.38 L751.25,467.39 L751.45,467.32 L751.65,467.17 L751.85,466.97 L752.05,466.70 L752.25,466.38 L752.45,466.01 L752.65,465.62 L752.85,465.21 L753.05,464.80 L753.25,464.39 L753.45,464.00 L753.65,463.65 L753.85,463.34 L754.05,463.07 L754.25,462.87 L754.45,462.74 L754.65,462.68 L754.85,462.69 L755.05,462.78 L755.25,462.94 L755.45,463.17 L755.65,463.47 L755.85,463.82 L756.05,464.22 L756.25,464.65 L756.45,465.11 L756.65,465.58 L756.85,466.06 L757.05,466.52 L757.25,466.96 L757.45,467.36 L757.65,467.72 L757.85,468.02 L758.05,468.26 L758.25,468.44 L758.45,468.54 L758.65,468.57 L758.85,468.53 L759.05,468.41 L759.25,468.23 L759.45,467.99 L759.65,467.70 L759.85,467.36 L760.05,467.00 L760.25,466.61 L760.45,466.21 L760.65,465.82 L760.85,465.44 L761.05,465.09 L761.25,464.77 L761.45,464.51 L761.65,464.30 L761.85,464.15 L762.05,464.07 L762.25,464.06 L762.45,464.12 L762.65,464.26 L762.85,464.46 L763.05,464.72 L763.25,465.04 L763.45,465.41 L763.65,465.82 L763.85,466.26 L764.05,466.71 L764.25,467.17 L764.45,467.62 L764.65,468.05 L764.85,468.45 L765.05,468.81 L765.25,469.12 L765.45,469.38 L765.65,469.57 L765.85,469.69 L766.05,469.74 L766.25,469.73 L766.45,469.64 L766.65,469.49 L766.85,469.28 L767.05,469.02 L767.25,468.71 L767.45,468.37 L767.65,468.00 L767.85,467.63 L768.05,467.25 L768.25,466.88 L768.45,466.53 L768.65,466.22 L768.85,465.95 L769.05,465.73 L769.25,465.56 L769.45,465.47 L769.65,465.43 L769.85,465.47 L770.05,465.58 L770.25,465.75 L770.45,465.98 L770.65,466.27 L770.85,466.61 L771.05,466.99 L771.25,467.41 L771.45,467.84 L771.65,468.28 L771.85,468.71 L772.05,469.14 L772.25,469.54 L772.45,469.90 L772.65,470.22 L772.85,470.48 L773.05,470.69 L773.25,470.83 L773.45,470.91 L773.65,470.92 L773.85,470.87 L774.05,470.74 L774.25,470.56 L774.45,470.33 L774.65,470.05 L774.85,469.73 L775.05,469.39 L775.25,469.03 L775.45,468.66 L775.65,468.31 L775.85,467.97 L776.05,467.66 L776.25,467.39 L776.45,467.16 L776.65,466.98 L776.85,466.87 L777.05,466.82 L777.25,466.82 L777.45,466.90 L777.65,467.03 L777.85,467.23 L778.05,467.48 L778.25,467.79 L778.45,468.13 L778.65,468.51 L778.85,468.91 L779.05,469.32 L779.25,469.74 L779.45,470.14 L779.65,470.53 L779.85,470.89 L780.05,471.21 L780.25,471.48 L780.45,471.70 L780.65,471.86 L780.85,471.95 L781.05,471.99 L781.25,471.96 L781.45,471.86 L781.65,471.71 L781.85,471.51 L782.05,471.25 L782.25,470.96 L782.45,470.64 L782.65,470.30 L782.85,469.95 L783.05,469.60 L783.25,469.27 L783.45,468.95 L783.65,468.67 L783.85,468.43 L784.05,468.24 L784.25,468.10 L784.45,468.02 L784.65,468.00 L784.85,468.05 L785.05,468.15 L785.25,468.32 L785.45,468.55 L785.65,468.82 L785.85,469.14 L786.05,469.50 L786.25,469.88 L786.45,470.28 L786.65,470.69 L786.85,471.09 L787.05,471.47 L787.25,471.83 L787.45,472.16 L787.65,472.44 L787.85,472.68 L788.05,472.86 L788.25,472.98 L788.45,473.04 L788.65,473.03 L788.85,472.97 L789.05,472.84 L789.25,472.67 L789.45,472.44 L789.65,472.17 L789.85,471.87 L790.05,471.55 L790.25,471.21 L790.45,470.87 L790.65,470.54 L790.85,470.23 L791.05,469.94 L791.25,469.69 L791.45,469.48 L791.65,469.33 L791.85,469.23 L792.05,469.19 L792.25,469.21 L792.45,469.29 L792.65,469.43 L792.85,469.63 L793.05,469.87 L793.25,470.17 L793.45,470.50 L793.65,470.86 L793.85,471.25 L794.05,471.64 L794.25,472.03 L794.45,472.41 L794.65,472.78 L794.85,473.11 L795.05,473.40 L795.25,473.65 L795.45,473.85 L795.65,473.99 L795.85,474.08 L796.05,474.10 L796.25,474.06 L796.45,473.96 L796.65,473.81 L796.85,473.61 L797.05,473.36 L797.25,473.08 L797.45,472.77 L797.65,472.45 L797.85,472.12 L798.05,471.80 L798.25,471.49 L798.45,471.20 L798.65,470.94 L798.85,470.73 L799.05,470.56 L799.25,470.44 L799.45,470.38 L799.65,470.38 L799.85,470.43 L800.05,470.54 L800.25,470.70 L800.45,470.92 L800.65,471.18 L800.85,471.47 L801.05,471.80 L801.25,472.15 L801.45,472.52 L801.65,472.88 L801.85,473.24 L802.05,473.59 L802.25,473.91 L802.45,474.19 L802.65,474.44 L802.85,474.64 L803.05,474.79 L803.25,474.89 L803.45,474.92 L803.65,474.91 L803.85,474.84 L804.05,474.71 L804.25,474.54 L804.45,474.33 L804.65,474.08 L804.85,473.81 L805.20,473.29" stroke="#ff0000" stroke-width="1.3" fill="none" stroke-linejoin="round" clip-path="url(#c2)"/>
<path d="M91.45,385.00 L91.65,385.00 L91.85,385.00 L92.05,385.00 L92.25,385.00 L92.45,385.00 L92.65,385.00 L92.85,385.00 L93.05,385.00 L93.25,385.00 L93.45,385.00 L93.65,385.00 L93.85,385.00 L94.05,385.00 L94.25,385.00 L94.45,385.00 L94.65,385.00 L94.85,385.00 L95.05,385.00 L95.25,385.00 L95.45,385.00 L95.65,385.00 L95.85,385.00 L96.05,385.00 L96.25,385.00 L96.45,385.00 L96.65,385.00 L96.85,385.00 L97.05,385.00 L97.25,385.00 L97.45,385.00 L97.65,385.00 L97.85,385.16 L98.05,385.42 L98.25,385.66 L98.45,385.79 L98.65,385.77 L98.85,385.57 L99.05,385.22 L99.25,384.79 L99.45,384.38 L99.65,384.10 L99.85,383.96 L100.05,383.95 L100.25,384.27 L100.45,384.92 L100.65,385.83 L100.85,386.89 L101.05,387.96 L101.25,388.87 L101.45,389.50 L101.65,389.77 L101.85,389.58 L102.05,388.89 L102.25,387.75 L102.45,386.23 L102.65,384.48 L102.85,382.67 L103.05,380.96 L103.25,379.54 L103.45,378.56 L103.65,378.07 L103.85,378.19 L104.05,378.95 L104.25,380.31 L104.45,382.19 L104.65,384.45 L104.85,386.93 L105.05,389.46 L105.25,391.85 L105.45,393.90 L105.65,395.47 L105.85,396.40 L106.05,396.59 L106.25,396.02 L106.45,394.72 L106.65,392.75 L106.85,390.20 L107.05,387.22 L107.25,383.98 L107.45,380.66 L107.65,377.47 L107.85,374.59 L108.05,372.20 L108.25,370.47 L108.45,369.51 L108.65,369.47 L108.85,370.34 L109.05,372.05 L109.25,374.54 L109.45,377.68 L109.65,381.31 L109.85,385.23 L110.05,389.23 L110.25,393.08 L110.45,396.57 L110.65,399.48 L110.85,401.65 L111.05,402.93 L111.25,403.23 L111.45,402.24 L111.65,400.18 L111.85,397.25 L112.05,393.61 L112.25,389.42 L112.45,384.91 L112.65,380.30 L112.85,375.82 L113.05,371.70 L113.25,368.16 L113.45,365.36 L113.65,363.44 L113.85,362.51 L114.05,362.66 L114.25,364.03 L114.45,366.31 L114.65,369.36 L114.85,373.04 L115.05,377.12 L115.25,381.40 L115.45,385.65 L115.65,389.66 L115.85,393.21 L116.05,396.13 L116.25,398.26 L116.45,399.52 L116.65,399.83 L116.85,399.24 L117.05,397.73 L117.25,395.40 L117.45,392.35 L117.65,388.75 L117.85,384.79 L118.05,380.65 L118.25,376.56 L118.45,372.72 L118.65,369.32 L118.85,366.53 L119.05,364.49 L119.25,363.30 L119.45,363.00 L119.65,363.50 L119.85,364.85 L120.05,367.00 L120.25,369.86 L120.45,373.26 L120.65,377.04 L120.85,381.00 L121.05,384.92 L121.25,388.60 L121.45,391.85 L121.65,394.49 L121.85,396.39 L122.05,397.42 L122.25,397.54 L122.45,396.73 L122.65,395.02 L122.85,392.50 L123.05,389.27 L123.25,385.51 L123.45,381.39 L123.65,377.12 L123.85,372.93 L124.05,369.01 L124.25,365.56 L124.45,362.76 L124.65,360.76 L124.85,359.64 L125.05,359.49 L125.25,360.36 L125.45,362.14 L125.65,364.71 L125.85,367.96 L126.05,371.69 L126.25,375.73 L126.45,379.86 L126.65,383.85 L126.85,387.51 L127.05,390.64 L127.25,393.08 L127.45,394.69 L127.65,395.40 L127.85,395.17 L128.05,394.02 L128.25,391.99 L128.45,389.19 L128.65,385.76 L128.85,381.87 L129.05,377.74 L129.25,373.56 L129.45,369.56 L129.65,365.93 L129.85,362.86 L130.05,360.51 L130.25,359.00 L130.45,358.38 L130.65,358.64 L130.85,359.83 L131.05,361.88 L131.25,364.67 L131.45,368.06 L131.65,371.87 L131.85,375.90 L132.05,379.94 L132.25,383.76 L132.45,387.17 L132.65,389.98 L132.85,392.05 L133.05,393.24 L133.25,393.51 L133.45,392.80 L133.65,391.16 L133.85,388.68 L134.05,385.48 L134.25,381.72 L134.45,377.59 L134.65,373.31 L134.85,369.08 L135.05,365.13 L135.25,361.66 L135.45,358.84 L135.65,356.81 L135.85,355.68 L136.05,355.54 L136.25,356.35 L136.45,358.08 L136.65,360.61 L136.85,363.82 L137.05,367.53 L137.25,371.54 L137.45,375.64 L137.65,379.61 L137.85,383.24 L138.05,386.33 L138.25,388.72 L138.45,390.28 L138.65,390.93 L138.85,390.64 L139.05,389.42 L139.25,387.32 L139.45,384.46 L139.65,380.96 L139.85,377.02 L140.05,372.83 L140.25,368.61 L140.45,364.59 L140.65,360.96 L140.85,357.91 L141.05,355.60 L141.25,354.14 L141.45,353.62 L141.65,354.03 L141.85,355.36 L142.05,357.55 L142.25,360.47 L142.45,363.98 L142.65,367.88 L142.85,371.96 L143.05,376.01 L143.25,379.81 L143.45,383.15 L143.65,385.87 L143.85,387.80 L144.05,388.84 L144.25,388.93 L144.45,388.04 L144.65,386.25 L144.85,383.62 L145.05,380.30 L145.25,376.46 L145.45,372.28 L145.65,368.00 L145.85,363.82 L146.05,359.96 L146.25,356.62 L146.45,353.97 L146.65,352.15 L146.85,351.24 L147.05,351.30 L147.25,352.32 L147.45,354.23 L147.65,356.92 L147.85,360.26 L148.05,364.06 L148.25,368.12 L148.45,372.22 L148.65,376.15 L148.85,379.68 L149.05,382.63 L149.25,384.84 L149.45,386.20 L149.65,386.62 L149.85,386.09 L150.05,384.63 L150.25,382.31 L150.45,379.23 L150.65,375.57 L150.85,371.51 L151.05,367.26 L151.25,363.03 L151.45,359.05 L151.65,355.52 L151.85,352.63 L152.05,350.52 L152.25,349.30 L152.45,349.03 L152.65,349.73 L152.85,351.36 L153.05,353.81 L153.25,356.96 L153.45,360.64 L153.65,364.65 L153.85,368.77 L154.05,372.79 L154.25,376.49 L154.45,379.67 L154.65,382.16 L154.85,383.83 L155.05,384.59 L155.25,384.39 L155.45,383.23 L155.65,381.18 L155.85,378.35 L156.05,374.88 L156.25,370.94 L156.45,366.75 L156.65,362.52 L156.85,358.47 L157.05,354.81 L157.25,351.73 L157.45,349.38 L157.65,347.88 L157.85,347.32 L158.05,347.68 L158.25,348.97 L158.45,351.12 L158.65,354.01 L158.85,357.49 L159.05,361.36 L159.25,365.43 L159.45,369.48 L159.65,373.27 L159.85,376.62 L160.05,379.33 L160.25,381.26 L160.45,382.31 L160.65,382.41 L160.85,381.55 L161.05,379.77 L161.25,377.16 L161.45,373.86 L161.65,370.02 L161.85,365.85 L162.05,361.57 L162.25,357.39 L162.45,353.53 L162.65,350.20 L162.85,347.55 L163.05,345.73 L163.25,344.83 L163.45,344.89 L163.65,345.92 L163.85,347.85 L164.05,350.57 L164.25,353.93 L164.45,357.76 L164.65,361.84 L164.85,365.95 L165.05,369.89 L165.25,373.42 L165.45,376.37 L165.65,378.57 L165.85,379.91 L166.05,380.30 L166.25,379.73 L166.45,378.21 L166.65,375.83 L166.85,372.71 L167.05,369.01 L167.25,364.91 L167.45,360.63 L167.65,356.40 L167.85,352.42 L168.05,348.91 L168.25,346.05 L168.45,343.99 L168.65,342.82 L168.85,342.60 L169.05,343.35 L169.25,345.02 L169.45,347.52 L169.65,350.71 L169.85,354.41 L170.05,358.44 L170.25,362.57 L170.45,366.57 L170.65,370.25 L170.85,373.38 L171.05,375.82 L171.25,377.42 L171.45,378.10 L171.65,377.81 L171.85,376.57 L172.05,374.43 L172.25,371.52 L172.45,367.97 L172.65,363.96 L172.85,359.72 L173.05,355.45 L173.25,351.38 L173.45,347.72 L173.65,344.65 L173.85,342.34 L174.05,340.90 L174.25,340.40 L174.45,340.87 L174.65,342.28 L174.85,344.55 L175.05,347.55 L175.25,351.12 L175.45,355.07 L175.65,359.19 L175.85,363.25 L176.05,367.04 L176.25,370.36 L176.45,373.01 L176.65,374.86 L176.85,375.82 L177.05,375.81 L177.25,374.84 L177.45,372.96 L177.65,370.25 L177.85,366.87 L178.05,362.98 L178.25,358.79 L178.45,354.50 L178.65,350.36 L178.85,346.56 L179.05,343.30 L179.25,340.76 L179.45,339.06 L179.65,338.28 L179.85,338.47 L180.05,339.61 L180.25,341.64 L180.45,344.44 L180.65,347.87 L180.85,351.73 L181.05,355.82 L181.25,359.92 L181.45,363.81 L181.65,367.27 L181.85,370.14 L182.05,372.23 L182.25,373.45 L182.45,373.72 L182.65,373.03 L182.85,371.41 L183.05,368.93 L183.25,365.73 L183.45,361.97 L183.65,357.84 L183.85,353.56 L184.05,349.34 L184.25,345.42 L184.45,341.99 L184.65,339.22 L184.85,337.26 L185.05,336.21 L185.25,336.12 L185.45,336.99 L185.65,338.77 L185.85,341.36 L186.05,344.62 L186.25,348.37 L186.45,352.42 L186.65,356.54 L186.85,360.52 L187.05,364.13 L187.25,367.19 L187.45,369.52 L187.65,371.01 L187.85,371.56 L188.05,371.15 L188.25,369.79 L188.45,367.55 L188.65,364.55 L188.85,360.93 L189.05,356.88 L189.25,352.62 L189.45,348.37 L189.65,344.34 L189.85,340.74 L190.05,337.76 L190.25,335.55 L190.45,334.22 L190.65,333.85 L190.85,334.44 L191.05,335.96 L191.25,338.32 L191.45,341.40 L191.65,345.03 L191.85,349.01 L192.05,353.13 L192.25,357.18 L192.45,360.92 L192.65,364.16 L192.85,366.72 L193.05,368.47 L193.25,369.31 L193.45,369.19 L193.65,368.11 L193.85,366.12 L194.05,363.33 L194.25,359.87 L194.45,355.94 L194.65,351.72 L194.85,347.44 L195.05,343.32 L195.25,339.57 L195.45,336.38 L195.65,333.93 L195.85,332.33 L196.05,331.66 L196.25,331.96 L196.45,333.20 L196.65,335.32 L196.85,338.20 L197.05,341.69 L197.25,345.58 L197.45,349.69 L197.65,353.78 L197.85,357.63 L198.05,361.05 L198.25,363.84 L198.45,365.85 L198.65,366.97 L198.85,367.14 L199.05,366.35 L199.25,364.63 L199.45,362.07 L199.65,358.81 L199.85,355.00 L200.05,350.84 L200.25,346.56 L200.45,342.36 L200.65,338.48 L200.85,335.10 L201.05,332.40 L201.25,330.53 L201.45,329.56 L201.65,329.56 L201.85,330.52 L202.05,332.38 L202.25,335.04 L202.45,338.35 L202.65,342.14 L202.85,346.21 L203.05,350.32 L203.25,354.27 L203.45,357.85 L203.65,360.85 L203.85,363.12 L204.05,364.53 L204.25,365.00 L204.45,364.52 L204.65,363.09 L204.85,360.78 L205.05,357.73 L205.25,354.07 L205.45,350.01 L205.65,345.74 L205.85,341.50 L206.05,337.49 L206.25,333.94 L206.45,331.01 L206.65,328.86 L206.85,327.60 L207.05,327.29 L207.25,327.94 L207.45,329.51 L207.65,331.93 L207.85,335.04 L208.05,338.70 L208.25,342.69 L208.45,346.81 L208.65,350.84 L208.85,354.55 L209.05,357.76 L209.25,360.28 L209.45,361.98 L209.65,362.77 L209.85,362.60 L210.05,361.47 L210.25,359.45 L210.45,356.63 L210.65,353.15 L210.85,349.20 L211.05,344.99 L211.25,340.72 L211.45,336.61 L211.65,332.89 L211.85,329.73 L212.05,327.31 L212.25,325.75 L212.45,325.11 L212.65,325.44 L212.85,326.71 L213.05,328.85 L213.25,331.74 L213.45,335.23 L213.65,339.13 L213.85,343.23 L214.05,347.31 L214.25,351.15 L214.45,354.54 L214.65,357.31 L214.85,359.31 L215.05,360.41 L215.25,360.57 L215.45,359.77 L215.65,358.05 L215.85,355.50 L216.05,352.23 L216.25,348.43 L216.45,344.29 L216.65,340.01 L216.85,335.83 L217.05,331.96 L217.25,328.59 L217.45,325.90 L217.65,324.02 L217.85,323.05 L218.05,323.04 L218.25,323.99 L218.45,325.83 L218.65,328.47 L218.85,331.76 L219.05,335.53 L219.25,339.58 L219.45,343.68 L219.65,347.63 L219.85,351.20 L220.05,354.21 L220.25,356.50 L220.45,357.93 L220.65,358.44 L220.85,357.98 L221.05,356.59 L221.25,354.33 L221.45,351.31 L221.65,347.68 L221.85,343.65 L222.05,339.40 L222.25,335.16 L222.45,331.15 L222.65,327.58 L222.85,324.62 L223.05,322.44 L223.25,321.13 L223.45,320.76 L223.65,321.34 L223.85,322.85 L224.05,325.20 L224.25,328.26 L224.45,331.87 L224.65,335.83 L224.85,339.94 L225.05,343.97 L225.25,347.71 L225.45,350.95 L225.65,353.53 L225.85,355.30 L226.05,356.16 L226.25,356.08 L226.45,355.04 L226.65,353.09 L226.85,350.34 L227.05,346.93 L227.25,343.02 L227.45,338.82 L227.65,334.54 L227.85,330.41 L228.05,326.63 L228.25,323.40 L228.45,320.88 L228.65,319.21 L228.85,318.46 L229.05,318.67 L229.25,319.83 L229.45,321.87 L229.65,324.67 L229.85,328.10 L230.05,331.95 L230.25,336.04 L230.45,340.14 L230.65,344.03 L230.85,347.50 L231.05,350.37 L231.25,352.49 L231.45,353.74 L231.65,354.04 L231.85,353.38 L232.05,351.79 L232.25,349.35 L232.45,346.18 L232.65,342.44 L232.85,338.32 L233.05,334.03 L233.25,329.80 L233.45,325.84 L233.65,322.35 L233.85,319.52 L234.05,317.48 L234.25,316.33 L234.45,316.14 L234.65,316.91 L234.85,318.60 L235.05,321.11 L235.25,324.30 L235.45,328.01 L235.65,332.05 L235.85,336.18 L236.05,340.20 L236.25,343.89 L236.45,347.05 L236.65,349.52 L236.85,351.15 L237.05,351.87 L237.25,351.62 L237.45,350.42 L237.65,348.33 L237.85,345.45 L238.05,341.92 L238.25,337.92 L238.45,333.67 L238.65,329.37 L238.85,325.25 L239.05,321.52 L239.25,318.37 L239.45,315.95 L239.65,314.40 L239.85,313.78 L240.05,314.15 L240.25,315.45 L240.45,317.63 L240.65,320.56 L240.85,324.08 L241.05,328.01 L241.25,332.13 L241.45,336.24 L241.65,340.11 L241.85,343.54 L242.05,346.34 L242.25,348.36 L242.45,349.50 L242.65,349.70 L242.85,348.93 L243.05,347.24 L243.25,344.72 L243.45,341.48 L243.65,337.70 L243.85,333.57 L244.05,329.29 L244.25,325.10 L244.45,321.19 L244.65,317.78 L244.85,315.03 L245.05,313.09 L245.25,312.05 L245.45,311.96 L245.65,312.81 L245.85,314.57 L246.05,317.14 L246.25,320.37 L246.45,324.10 L246.65,328.13 L246.85,332.24 L247.05,336.21 L247.25,339.85 L247.45,342.94 L247.65,345.34 L247.85,346.91 L248.05,347.56 L248.25,347.26 L248.45,346.03 L248.65,343.92 L248.85,341.04 L249.05,337.53 L249.25,333.58 L249.45,329.38 L249.65,325.15 L249.85,321.11 L250.05,317.46 L250.25,314.39 L250.45,312.04 L250.65,310.55 L250.85,309.98 L251.05,310.35 L251.25,311.65 L251.45,313.80 L251.65,316.68 L251.85,320.15 L252.05,324.02 L252.25,328.08 L252.45,332.12 L252.65,335.92 L252.85,339.29 L253.05,342.05 L253.25,344.05 L253.45,345.18 L253.65,345.37 L253.85,344.63 L254.05,342.97 L254.25,340.49 L254.45,337.31 L254.65,333.59 L254.85,329.51 L255.05,325.29 L255.25,321.14 L255.45,317.28 L255.65,313.88 L255.85,311.14 L256.05,309.19 L256.25,308.11 L256.45,307.98 L256.65,308.78 L256.85,310.47 L257.05,312.96 L257.25,316.12 L257.45,319.78 L257.65,323.74 L257.85,327.80 L258.05,331.74 L258.25,335.36 L258.45,338.46 L258.65,340.88 L258.85,342.50 L259.05,343.21 L259.25,342.99 L259.45,341.84 L259.65,339.82 L259.85,337.03 L260.05,333.60 L260.25,329.71 L260.45,325.57 L260.65,321.37 L260.85,317.33 L261.05,313.66 L261.25,310.55 L261.45,308.14 L261.65,306.55 L261.85,305.88 L262.05,306.14 L262.25,307.32 L262.45,309.35 L262.65,312.13 L262.85,315.50 L263.05,319.30 L263.25,323.31 L263.45,327.33 L263.65,331.14 L263.85,334.56 L264.05,337.39 L264.25,339.48 L264.45,340.73 L264.65,341.07 L264.85,340.47 L265.05,338.97 L265.25,336.63 L265.45,333.58 L265.65,329.96 L265.85,325.97 L266.05,321.79 L266.25,317.65 L266.45,313.75 L266.65,310.29 L266.85,307.44 L267.05,305.35 L267.25,304.12 L267.45,303.80 L267.65,304.42 L267.85,305.92 L268.05,308.24 L268.25,311.25 L268.45,314.79 L268.65,318.67 L268.85,322.69 L269.05,326.64 L269.25,330.32 L269.45,333.52 L269.65,336.08 L269.85,337.87 L270.05,338.79 L270.25,338.79 L270.45,337.86 L270.65,336.05 L270.85,333.46 L271.05,330.20 L271.25,326.44 L271.45,322.38 L271.65,318.21 L271.85,314.15 L272.05,310.40 L272.25,307.15 L272.45,304.56 L272.65,302.76 L272.85,301.84 L273.05,301.84 L273.25,302.76 L273.45,304.55 L273.65,307.10 L273.85,310.29 L274.05,313.95 L274.25,317.88 L274.45,321.88 L274.65,325.74 L274.85,329.26 L275.05,332.26 L275.25,334.59 L275.45,336.12 L275.65,336.76 L275.85,336.48 L276.05,335.29 L276.25,333.25 L276.45,330.45 L276.65,327.04 L276.85,323.19 L277.05,319.09 L277.25,314.95 L277.45,310.98 L277.65,307.37 L277.85,304.31 L278.05,301.94 L278.25,300.40 L278.45,299.75 L278.65,300.02 L278.85,301.20 L279.05,303.22 L279.25,305.98 L279.45,309.33 L279.65,313.10 L279.85,317.09 L280.05,321.09 L280.25,324.90 L280.45,328.32 L280.65,331.17 L280.85,333.30 L281.05,334.60 L281.25,335.00 L281.45,334.47 L281.65,333.04 L281.85,330.78 L282.05,327.80 L282.25,324.25 L282.45,320.30 L282.65,316.15 L282.85,312.02 L283.05,308.10 L283.25,304.60 L283.45,301.69 L283.65,299.51 L283.85,298.17 L284.05,297.74 L284.25,298.23 L284.45,299.62 L284.65,301.84 L284.85,304.76 L285.05,308.24 L285.25,312.09 L285.45,316.12 L285.65,320.11 L285.85,323.86 L286.05,327.18 L286.25,329.90 L286.45,331.86 L286.65,332.98 L286.85,333.18 L287.05,332.46 L287.25,330.84 L287.45,328.41 L287.65,325.29 L287.85,321.63 L288.05,317.61 L288.25,313.43 L288.45,309.31 L288.65,305.44 L288.85,302.03 L289.05,299.23 L289.25,297.20 L289.45,296.02 L289.65,295.76 L289.85,296.43 L290.05,297.98 L290.25,300.34 L290.45,303.38 L290.65,306.95 L290.85,310.86 L291.05,314.91 L291.25,318.90 L291.45,322.61 L291.65,325.85 L291.85,328.46 L292.05,330.31 L292.25,331.28 L292.45,331.34 L292.65,330.48 L292.85,328.73 L293.05,326.18 L293.25,322.95 L293.45,319.21 L293.65,315.14 L293.85,310.95 L294.05,306.83 L294.25,303.00 L294.45,299.65 L294.65,296.94 L294.85,295.00 L295.05,293.94 L295.25,293.80 L295.45,294.58 L295.65,296.25 L295.85,298.71 L296.05,301.83 L296.25,305.46 L296.45,309.41 L296.65,313.48 L296.85,317.46 L297.05,321.14 L297.25,324.33 L297.45,326.88 L297.65,328.65 L297.85,329.54 L298.05,329.51 L298.25,328.56 L298.45,326.74 L298.65,324.12 L298.85,320.84 L299.05,317.06 L299.25,312.97 L299.45,308.77 L299.65,304.67 L299.85,300.86 L300.05,297.55 L300.25,294.89 L300.45,293.01 L300.65,292.01 L300.85,291.92 L301.05,292.76 L301.25,294.47 L301.45,296.97 L301.65,300.13 L301.85,303.79 L302.05,307.75 L302.25,311.82 L302.45,315.79 L302.65,319.45 L302.85,322.63 L303.05,325.15 L303.25,326.89 L303.45,327.76 L303.65,327.71 L303.85,326.73 L304.05,324.89 L304.25,322.25 L304.45,318.96 L304.65,315.17 L304.85,311.08 L305.05,306.88 L305.25,302.77 L305.45,298.97 L305.65,295.66 L305.85,293.00 L306.05,291.12 L306.25,290.11 L306.45,290.02 L306.65,290.85 L306.85,292.55 L307.05,295.05 L307.25,298.19 L307.45,301.84 L307.65,305.80 L307.85,309.87 L308.05,313.85 L308.25,317.53 L308.45,320.72 L308.65,323.27 L308.85,325.04 L309.05,325.94 L309.25,325.93 L309.45,325.00 L309.65,323.19 L309.85,320.59 L310.05,317.33 L310.25,313.56 L310.45,309.48 L310.65,305.28 L310.85,301.16 L311.05,297.33 L311.25,293.98 L311.45,291.27 L311.65,289.33 L311.85,288.25 L312.05,288.09 L312.25,288.85 L312.45,290.48 L312.65,292.91 L312.85,296.01 L313.05,299.62 L313.25,303.55 L313.45,307.62 L313.65,311.62 L313.85,315.34 L314.05,318.59 L314.25,321.22 L314.45,323.09 L314.65,324.09 L314.85,324.19 L315.05,323.37 L315.25,321.66 L315.45,319.16 L315.65,315.97 L315.85,312.26 L316.05,308.21 L316.25,304.01 L316.45,299.86 L316.65,295.98 L316.85,292.55 L317.05,289.73 L317.25,287.66 L317.45,286.45 L317.65,286.14 L317.85,286.76 L318.05,288.27 L318.25,290.59 L318.45,293.60 L318.65,297.14 L318.85,301.05 L319.05,305.12 L319.25,309.15 L319.45,312.94 L319.65,316.30 L319.85,319.06 L320.05,321.07 L320.25,322.25 L320.45,322.53 L320.65,321.88 L320.85,320.35 L321.05,318.00 L321.25,314.95 L321.45,311.34 L321.65,307.35 L321.85,303.17 L322.05,299.01 L322.25,295.07 L322.45,291.54 L322.65,288.58 L322.85,286.35 L323.05,284.94 L323.25,284.43 L323.45,284.84 L323.65,286.13 L323.85,288.26 L324.05,291.10 L324.25,294.51 L324.45,298.33 L324.65,302.36 L324.85,306.41 L325.05,310.27 L325.25,313.74 L325.45,316.66 L325.65,318.88 L325.85,320.29 L326.05,320.82 L326.25,320.43 L326.45,319.15 L326.65,317.03 L326.85,314.17 L327.05,310.72 L327.25,306.84 L327.45,302.71 L327.65,298.54 L327.85,294.53 L328.05,290.86 L328.25,287.72 L328.45,285.26 L328.65,283.59 L328.85,282.79 L329.05,282.90 L329.25,283.91 L329.45,285.77 L329.65,288.38 L329.85,291.60 L330.05,295.29 L330.25,299.26 L330.45,303.31 L330.65,307.24 L330.85,310.86 L331.05,313.98 L331.25,316.45 L331.45,318.16 L331.65,319.00 L331.85,318.95 L332.05,317.99 L332.25,316.18 L332.45,313.60 L332.65,310.36 L332.85,306.64 L333.05,302.60 L333.25,298.44 L333.45,294.35 L333.65,290.54 L333.85,287.19 L334.05,284.45 L334.25,282.46 L334.45,281.30 L334.65,281.04 L334.85,281.68 L335.05,283.19 L335.25,285.48 L335.45,288.46 L335.65,291.96 L335.85,295.81 L336.05,299.84 L336.25,303.83 L336.45,307.59 L336.65,310.93 L336.85,313.70 L337.05,315.76 L337.25,316.99 L337.45,317.35 L337.65,316.81 L337.85,315.39 L338.05,313.16 L338.25,310.22 L338.45,306.73 L338.65,302.83 L338.85,298.71 L339.05,294.59 L339.25,290.63 L339.45,287.05 L339.65,284.00 L339.85,281.64 L340.05,280.06 L340.25,279.35 L340.45,279.54 L340.65,280.62 L340.85,282.52 L341.05,285.15 L341.25,288.38 L341.45,292.06 L341.65,296.00 L341.85,300.01 L342.05,303.90 L342.25,307.47 L342.45,310.56 L342.65,313.00 L342.85,314.68 L343.05,315.52 L343.25,315.48 L343.45,314.55 L343.65,312.77 L343.85,310.24 L344.05,307.07 L344.25,303.40 L344.45,299.42 L344.65,295.31 L344.85,291.26 L345.05,287.48 L345.25,284.12 L345.45,281.36 L345.65,279.33 L345.85,278.10 L346.05,277.76 L346.25,278.29 L346.45,279.68 L346.65,281.86 L346.85,284.71 L347.05,288.11 L347.25,291.88 L347.45,295.83 L347.65,299.79 L347.85,303.55 L348.05,306.94 L348.25,309.78 L348.45,311.95 L348.65,313.33 L348.85,313.86 L349.05,313.51 L349.25,312.30 L349.45,310.28 L349.65,307.54 L349.85,304.21 L350.05,300.46 L350.25,296.44 L350.45,292.37 L350.65,288.42 L350.85,284.78 L351.05,281.62 L351.25,279.08 L351.45,277.30 L351.65,276.34 L351.85,276.25 L352.05,277.03 L352.25,278.63 L352.45,280.99 L352.65,283.99 L352.85,287.47 L353.05,291.27 L353.25,295.21 L353.45,299.10 L353.65,302.75 L353.85,305.99 L354.05,308.65 L354.25,310.62 L354.45,311.79 L354.65,312.10 L354.85,311.55 L355.05,310.16 L355.25,308.01 L355.45,305.16 L355.65,301.77 L355.85,297.98 L356.05,293.98 L356.25,289.94 L356.45,286.07 L356.65,282.53 L356.85,279.50 L357.05,277.11 L357.25,275.48 L357.45,274.68 L357.65,274.74 L357.85,275.67 L358.05,277.42 L358.25,279.90 L358.45,282.99 L358.65,286.55 L358.85,290.41 L359.05,294.38 L359.25,298.27 L359.45,301.90 L359.65,305.10 L359.85,307.71 L360.05,309.60 L360.25,310.69 L360.45,310.93 L360.65,310.29 L360.85,308.80 L361.05,306.54 L361.25,303.61 L361.45,300.14 L361.65,296.29 L361.85,292.24 L362.05,288.18 L362.25,284.29 L362.45,280.76 L362.65,277.75 L362.85,275.40 L363.05,273.82 L363.25,273.08 L363.45,273.21 L363.65,274.21 L363.85,276.02 L364.05,278.56 L364.25,281.71 L364.45,285.31 L364.65,289.21 L364.85,293.21 L365.05,297.12 L365.25,300.77 L365.45,303.97 L365.65,306.59 L365.85,308.48 L366.05,309.57 L366.25,309.80 L366.45,309.15 L366.65,307.66 L366.85,305.40 L367.05,302.46 L367.25,298.98 L367.45,295.12 L367.65,291.05 L367.85,286.98 L368.05,283.07 L368.25,279.52 L368.45,276.48 L368.65,274.10 L368.85,272.48 L369.05,271.69 L369.25,271.78 L369.45,272.72 L369.65,274.49 L369.85,276.99 L370.05,280.11 L370.25,283.70 L370.45,287.59 L370.65,291.60 L370.85,295.55 L371.05,299.24 L371.25,302.50 L371.45,305.19 L371.65,307.17 L371.85,308.36 L372.05,308.68 L372.25,308.14 L372.45,306.75 L372.65,304.57 L372.85,301.71 L373.05,298.28 L373.25,294.45 L373.45,290.40 L373.65,286.30 L373.85,282.34 L374.05,278.71 L374.25,275.57 L374.45,273.06 L374.65,271.30 L374.85,270.36 L375.05,270.28 L375.25,271.08 L375.45,272.70 L375.65,275.07 L375.85,278.09 L376.05,281.61 L376.25,285.46 L376.45,289.47 L376.65,293.46 L376.85,297.23 L377.05,300.61 L377.25,303.46 L377.45,305.62 L377.65,307.01 L377.85,307.55 L378.05,307.22 L378.25,306.04 L378.45,304.05 L378.65,301.34 L378.85,298.04 L379.05,294.30 L379.25,290.27 L379.45,286.16 L379.65,282.13 L379.85,278.38 L380.05,275.07 L380.25,272.35 L380.45,270.35 L380.65,269.14 L380.85,268.80 L381.05,269.32 L381.25,270.69 L381.45,272.83 L381.65,275.66 L381.85,279.03 L382.05,282.80 L382.25,286.79 L382.45,290.81 L382.65,294.69 L382.85,298.24 L383.05,301.31 L383.25,303.74 L383.45,305.43 L383.65,306.30 L383.85,306.31 L384.05,305.45 L384.25,303.76 L384.45,301.32 L384.65,298.24 L384.85,294.64 L385.05,290.70 L385.25,286.59 L385.45,282.50 L385.65,278.60 L385.85,275.07 L386.05,272.07 L386.25,269.73 L386.45,268.16 L386.65,267.42 L386.85,267.55 L387.05,268.54 L387.25,270.34 L387.45,272.87 L387.65,276.02 L387.85,279.63 L388.05,283.54 L388.25,287.58 L388.45,291.57 L388.65,295.31 L388.85,298.64 L389.05,301.42 L389.25,303.50 L389.45,304.81 L389.65,305.27 L389.85,304.86 L390.05,303.61 L390.25,301.57 L390.45,298.82 L390.65,295.49 L390.85,291.73 L391.05,287.69 L391.25,283.57 L391.45,279.54 L391.65,275.78 L391.85,272.46 L392.05,269.72 L392.25,267.70 L392.45,266.46 L392.65,266.08 L392.85,266.56 L393.05,267.88 L393.25,269.98 L393.45,272.76 L393.65,276.11 L393.85,279.86 L394.05,283.85 L394.25,287.91 L394.45,291.84 L394.65,295.47 L394.85,298.64 L395.05,301.20 L395.25,303.04 L395.45,304.08 L395.65,304.26 L395.85,303.59 L396.05,302.07 L396.25,299.79 L396.45,296.84 L396.65,293.35 L396.85,289.48 L397.05,285.38 L397.25,281.25 L397.45,277.27 L397.65,273.60 L397.85,270.42 L398.05,267.85 L398.25,266.02 L398.45,264.99 L398.65,264.82 L398.85,265.51 L399.05,267.03 L399.25,269.31 L399.45,272.25 L399.65,275.71 L399.85,279.54 L400.05,283.58 L400.25,287.63 L400.45,291.53 L400.65,295.09 L400.85,298.16 L401.05,300.61 L401.25,302.32 L401.45,303.21 L401.65,303.25 L401.85,302.43 L402.05,300.78 L402.25,298.38 L402.45,295.33 L402.65,291.77 L402.85,287.84 L403.05,283.72 L403.25,279.58 L403.45,275.61 L403.65,271.98 L403.85,268.85 L404.05,266.35 L404.25,264.59 L404.45,263.64 L404.65,263.55 L404.85,264.31 L405.05,265.90 L405.25,268.24 L405.45,271.22 L405.65,274.72 L405.85,278.59 L406.05,282.64 L406.25,286.70 L406.45,290.60 L406.65,294.16 L406.85,297.23 L407.05,299.66 L407.25,301.36 L407.45,302.25 L407.65,302.28 L407.85,301.45 L408.05,299.81 L408.25,297.41 L408.45,294.36 L408.65,290.79 L408.85,286.86 L409.05,282.73 L409.25,278.58 L409.45,274.59 L409.65,270.93 L409.85,267.75 L410.05,265.21 L410.25,263.40 L410.45,262.40 L410.65,262.26 L410.85,262.97 L411.05,264.50 L411.25,266.78 L411.45,269.72 L411.65,273.19 L411.85,277.03 L412.05,281.07 L412.25,285.15 L412.45,289.08 L412.65,292.69 L412.85,295.83 L413.05,298.36 L413.25,300.18 L413.45,301.19 L413.65,301.36 L413.85,300.68 L414.05,299.18 L414.25,296.92 L414.45,294.00 L414.65,290.54 L414.85,286.69 L415.05,282.61 L415.25,278.48 L415.45,274.47 L415.65,270.76 L415.85,267.49 L416.05,264.82 L416.25,262.84 L416.45,261.65 L416.65,261.29 L416.85,261.78 L417.05,263.09 L417.25,265.17 L417.45,267.92 L417.65,271.23 L417.85,274.95 L418.05,278.92 L418.25,282.98 L418.45,286.94 L418.65,290.64 L418.85,293.93 L419.05,296.65 L419.25,298.69 L419.45,299.96 L419.65,300.42 L419.85,300.04 L420.05,298.83 L420.25,296.84 L420.45,294.17 L420.65,290.91 L420.85,287.22 L421.05,283.24 L421.25,279.14 L421.45,275.09 L421.65,271.27 L421.85,267.83 L422.05,264.92 L422.25,262.65 L422.45,261.13 L422.65,260.42 L422.85,260.54 L423.05,261.49 L423.25,263.22 L423.45,265.66 L423.65,268.70 L423.85,272.22 L424.05,276.07 L424.25,280.08 L424.45,284.08 L424.65,287.90 L424.85,291.38 L425.05,294.38 L425.25,296.76 L425.45,298.42 L425.65,299.30 L425.85,299.36 L426.05,298.59 L426.25,297.03 L426.45,294.74 L426.65,291.82 L426.85,288.38 L427.05,284.56 L427.25,280.54 L427.45,276.47 L427.65,272.52 L427.85,268.87 L428.05,265.65 L428.25,263.00 L428.45,261.03 L428.65,259.83 L428.85,259.44 L429.05,259.87 L429.25,261.11 L429.45,263.10 L429.65,265.76 L429.85,268.98 L430.05,272.62 L430.25,276.53 L430.45,280.54 L430.65,284.49 L430.85,288.21 L431.05,291.55 L431.25,294.36 L431.45,296.53 L431.65,297.97 L431.85,298.61 L432.05,298.43 L432.25,297.44 L432.45,295.68 L432.65,293.21 L432.85,290.14 L433.05,286.60 L433.25,282.72 L433.45,278.68 L433.65,274.63 L433.85,270.75 L434.05,267.19 L434.25,264.09 L434.45,261.59 L434.65,259.78 L434.85,258.75 L435.05,258.52 L435.25,259.12 L435.45,260.50 L435.65,262.62 L435.85,265.39 L436.05,268.68 L436.25,272.37 L436.45,276.29 L436.65,280.30 L436.85,284.21 L437.05,287.88 L437.25,291.14 L437.45,293.87 L437.65,295.95 L437.85,297.29 L438.05,297.84 L438.25,297.58 L438.45,296.51 L438.65,294.68 L438.85,292.17 L439.05,289.07 L439.25,285.51 L439.45,281.63 L439.65,277.60 L439.85,273.58 L440.05,269.73 L440.25,266.20 L440.45,263.14 L440.65,260.68 L440.85,258.90 L441.05,257.89 L441.25,257.68 L441.45,258.28 L441.65,259.66 L441.85,261.77 L442.05,264.52 L442.25,267.79 L442.45,271.45 L442.65,275.36 L442.85,279.34 L443.05,283.25 L443.25,286.91 L443.45,290.18 L443.65,292.93 L443.85,295.04 L444.05,296.42 L444.25,297.03 L444.45,296.83 L444.65,295.84 L444.85,294.08 L445.05,291.64 L445.25,288.61 L445.45,285.11 L445.65,281.28 L445.85,277.28 L446.05,273.27 L446.25,269.40 L446.45,265.83 L446.65,262.72 L446.85,260.17 L447.05,258.29 L447.25,257.15 L447.45,256.81 L447.65,257.27 L447.85,258.51 L448.05,260.48 L448.25,263.10 L448.45,266.27 L448.65,269.85 L448.85,273.70 L449.05,277.66 L449.25,281.58 L449.45,285.29 L449.65,288.65 L449.85,291.52 L450.05,293.78 L450.25,295.35 L450.45,296.15 L450.65,296.16 L450.85,295.38 L451.05,293.84 L451.25,291.60 L451.45,288.75 L451.65,285.39 L451.85,281.67 L452.05,277.72 L452.25,273.71 L452.45,269.80 L452.65,266.13 L452.85,262.86 L453.05,260.12 L453.25,258.00 L453.45,256.61 L453.65,255.99 L453.85,256.16 L454.05,257.13 L454.25,258.84 L454.45,261.24 L454.65,264.22 L454.85,267.67 L455.05,271.44 L455.25,275.40 L455.45,279.38 L455.65,283.21 L455.85,286.76 L456.05,289.88 L456.25,292.43 L456.45,294.33 L456.65,295.50 L456.85,295.88 L457.05,295.46 L457.25,294.26 L457.45,292.33 L457.65,289.73 L457.85,286.58 L458.05,282.99 L458.25,279.10 L458.45,275.08 L458.65,271.07 L458.85,267.23 L459.05,263.72 L459.25,260.67 L459.45,258.20 L459.65,256.41 L459.85,255.37 L460.05,255.11 L460.25,255.67 L460.45,257.00 L460.65,259.05 L460.85,261.74 L461.05,264.97 L461.25,268.60 L461.45,272.50 L461.65,276.51 L461.85,280.47 L462.05,284.23 L462.25,287.64 L462.45,290.56 L462.65,292.88 L462.85,294.51 L463.05,295.39 L463.25,295.47 L463.45,294.76 L463.65,293.29 L463.85,291.11 L464.05,288.30 L464.25,284.98 L464.45,281.27 L464.65,277.32 L464.85,273.28 L465.05,269.32 L465.25,265.57 L465.45,262.20 L465.65,259.32 L465.85,257.05 L466.05,255.49 L466.25,254.68 L466.45,254.66 L466.65,255.43 L466.85,256.95 L467.05,259.18 L467.25,262.02 L467.45,265.35 L467.65,269.06 L467.85,273.00 L468.05,277.00 L468.25,280.93 L468.45,284.61 L468.65,287.92 L468.85,290.72 L469.05,292.91 L469.25,294.39 L469.45,295.11 L469.65,295.05 L469.85,294.20 L470.05,292.60 L470.25,290.31 L470.45,287.41 L470.65,284.02 L470.85,280.27 L471.05,276.30 L471.25,272.27 L471.45,268.33 L471.65,264.63 L471.85,261.31 L472.05,258.51 L472.25,256.32 L472.45,254.83 L472.65,254.10 L472.85,254.16 L473.05,255.00 L473.25,256.58 L473.45,258.86 L473.65,261.73 L473.85,265.10 L474.05,268.82 L474.25,272.76 L474.45,276.76 L474.65,280.67 L474.85,284.34 L475.05,287.63 L475.25,290.41 L475.45,292.58 L475.65,294.05 L475.85,294.76 L476.05,294.70 L476.25,293.85 L476.45,292.26 L476.65,289.97 L476.85,287.09 L477.05,283.72 L477.25,279.98 L477.45,276.02 L477.65,272.00 L477.85,268.05 L478.05,264.34 L478.25,261.00 L478.45,258.16 L478.65,255.93 L478.85,254.39 L479.05,253.60 L479.25,253.58 L479.45,254.35 L479.65,255.86 L479.85,258.07 L480.05,260.88 L480.25,264.19 L480.45,267.87 L480.65,271.78 L480.85,275.78 L481.05,279.71 L481.25,283.42 L481.45,286.77 L481.65,289.64 L481.85,291.91 L482.05,293.50 L482.25,294.35 L482.45,294.42 L482.65,293.72 L482.85,292.26 L483.05,290.11 L483.25,287.35 L483.45,284.07 L483.65,280.40 L483.85,276.48 L484.05,272.46 L484.25,268.49 L484.45,264.71 L484.65,261.27 L484.85,258.30 L485.05,255.91 L485.25,254.19 L485.45,253.20 L485.65,252.98 L485.85,253.54 L486.05,254.85 L486.25,256.87 L486.45,259.52 L486.65,262.69 L486.85,266.28 L487.05,270.14 L487.25,274.13 L487.45,278.10 L487.65,281.90 L487.85,285.39 L488.05,288.43 L488.25,290.91 L488.45,292.75 L488.65,293.86 L488.85,294.22 L489.05,293.80 L489.25,292.62 L489.45,290.72 L489.65,288.18 L489.85,285.09 L490.05,281.56 L490.25,277.73 L490.45,273.74 L490.65,269.74 L490.85,265.87 L491.05,262.28 L491.25,259.10 L491.45,256.46 L491.65,254.44 L491.85,253.12 L492.05,252.56 L492.25,252.76 L492.45,253.73 L492.65,255.43 L492.85,257.79 L493.05,260.72 L493.25,264.12 L493.45,267.86 L493.65,271.80 L493.85,275.79 L494.05,279.69 L494.25,283.34 L494.45,286.62 L494.65,289.41 L494.85,291.59 L495.05,293.09 L495.25,293.85 L495.45,293.85 L495.65,293.09 L495.85,291.58 L496.05,289.39 L496.25,286.61 L496.45,283.32 L496.65,279.65 L496.85,275.74 L497.05,271.73 L497.25,267.77 L497.45,264.01 L497.65,260.57 L497.85,257.60 L498.05,255.19 L498.25,253.43 L498.45,252.40 L498.65,252.12 L498.85,252.60 L499.05,253.84 L499.25,255.77 L499.45,258.34 L499.65,261.44 L499.85,264.96 L500.05,268.78 L500.25,272.74 L500.45,276.71 L500.65,280.54 L500.85,284.09 L501.05,287.22 L501.25,289.83 L501.45,291.82 L501.65,293.11 L501.85,293.66 L502.05,293.45 L502.25,292.48 L502.45,290.79 L502.65,288.44 L502.85,285.52 L503.05,282.13 L503.25,278.40 L503.45,274.46 L503.65,270.46 L503.85,266.54 L504.05,262.84 L504.25,259.50 L504.45,256.64 L504.65,254.36 L504.85,252.74 L505.05,251.85 L505.25,251.72 L505.45,252.34 L505.65,253.71 L505.85,255.75 L506.05,258.41 L506.25,261.58 L506.45,265.15 L506.65,268.99 L506.85,272.96 L507.05,276.91 L507.25,280.71 L507.45,284.20 L507.65,287.27 L507.85,289.81 L508.05,291.72 L508.25,292.93 L508.45,293.40 L508.65,293.12 L508.85,292.08 L509.05,290.34 L509.25,287.94 L509.45,284.99 L509.65,281.58 L509.85,277.84 L510.05,273.89 L510.25,269.90 L510.45,265.99 L510.65,262.31 L510.85,258.99 L511.05,256.15 L511.25,253.90 L511.45,252.31 L511.65,251.44 L511.85,251.32 L512.05,251.95 L512.25,253.32 L512.45,255.36 L512.65,258.01 L512.85,261.17 L513.05,264.73 L513.25,268.55 L513.45,272.51 L513.65,276.45 L513.85,280.24 L514.05,283.75 L514.25,286.83 L514.45,289.39 L514.65,291.34 L514.85,292.60 L515.05,293.12 L515.25,292.90 L515.45,291.93 L515.65,290.26 L515.85,287.94 L516.05,285.06 L516.25,281.72 L516.45,278.04 L516.65,274.14 L516.85,270.18 L517.05,266.28 L517.25,262.59 L517.45,259.24 L517.65,256.34 L517.85,254.01 L518.05,252.32 L518.25,251.34 L518.45,251.09 L518.65,251.59 L518.85,252.83 L519.05,254.74 L519.25,257.27 L519.45,260.33 L519.65,263.81 L519.85,267.58 L520.05,271.51 L520.25,275.46 L520.45,279.29 L520.65,282.87 L520.85,286.06 L521.05,288.75 L521.25,290.86 L521.45,292.30 L521.65,293.02 L521.85,293.00 L522.05,292.23 L522.25,290.75 L522.45,288.61 L522.65,285.89 L522.85,282.67 L523.05,279.08 L523.25,275.23 L523.45,271.27 L523.65,267.34 L523.85,263.58 L524.05,260.11 L524.25,257.06 L524.45,254.53 L524.65,252.62 L524.85,251.40 L525.05,250.90 L525.25,251.14 L525.45,252.12 L525.65,253.79 L525.85,256.11 L526.05,258.98 L526.25,262.32 L526.45,265.99 L526.65,269.87 L526.85,273.83 L527.05,277.72 L527.25,281.41 L527.45,284.77 L527.65,287.68 L527.85,290.04 L528.05,291.77 L528.25,292.80 L528.45,293.10 L528.65,292.66 L528.85,291.49 L529.05,289.64 L529.25,287.17 L529.45,284.16 L529.65,280.73 L529.85,276.99 L530.05,273.07 L530.25,269.11 L530.45,265.25 L530.65,261.62 L530.85,258.35 L531.05,255.55 L531.25,253.32 L531.45,251.74 L531.65,250.87 L531.85,250.72 L532.05,251.32 L532.25,252.63 L532.45,254.61 L532.65,257.19 L532.85,260.29 L533.05,263.79 L533.25,267.57 L533.45,271.50 L533.65,275.44 L533.85,279.26 L534.05,282.83 L534.25,286.01 L534.45,288.70 L534.65,290.81 L534.85,292.26 L535.05,293.00 L535.25,293.01 L535.45,292.29 L535.65,290.85 L535.85,288.76 L536.05,286.08 L536.25,282.91 L536.45,279.35 L536.65,275.53 L536.85,271.59 L537.05,267.65 L537.25,263.85 L537.45,260.33 L537.65,257.21 L537.85,254.59 L538.05,252.56 L538.25,251.20 L538.45,250.55 L538.65,250.63 L538.85,251.44 L539.05,252.95 L539.25,255.12 L539.45,257.85 L539.65,261.07 L539.85,264.66 L540.05,268.49 L540.25,272.44 L540.45,276.36 L540.65,280.13 L540.85,283.61 L541.05,286.68 L541.25,289.24 L541.45,291.20 L541.65,292.49 L541.85,293.07 L542.05,292.92 L542.25,292.04 L542.45,290.46 L542.65,288.24 L542.85,285.46 L543.05,282.21 L543.25,278.59 L543.45,274.74 L543.65,270.79 L543.85,266.86 L544.05,263.11 L544.25,259.64 L544.45,256.59 L544.65,254.06 L544.85,252.13 L545.05,250.87 L545.25,250.32 L545.45,250.51 L545.65,251.42 L545.85,253.02 L546.05,255.25 L546.25,258.05 L546.45,261.32 L546.65,264.93 L546.85,268.78 L547.05,272.73 L547.25,276.64 L547.45,280.38 L547.65,283.83 L547.85,286.86 L548.05,289.37 L548.25,291.29 L548.45,292.54 L548.65,293.08 L548.85,292.89 L549.05,291.99 L549.25,290.39 L549.45,288.16 L549.65,285.37 L549.85,282.12 L550.05,278.52 L550.25,274.68 L550.45,270.75 L550.65,266.84 L550.85,263.11 L551.05,259.66 L551.25,256.62 L551.45,254.09 L551.65,252.16 L551.85,250.89 L552.05,250.33 L552.25,250.49 L552.45,251.36 L552.65,252.92 L552.85,255.12 L553.05,257.87 L553.25,261.10 L553.45,264.68 L553.65,268.49 L553.85,272.42 L554.05,276.32 L554.25,280.06 L554.45,283.52 L554.65,286.58 L554.85,289.14 L555.05,291.12 L555.25,292.44 L555.45,293.07 L555.65,292.98 L555.85,292.17 L556.05,290.67 L556.25,288.54 L556.45,285.84 L556.65,282.67 L556.85,279.13 L557.05,275.33 L557.25,271.42 L557.45,267.52 L557.65,263.76 L557.85,260.26 L558.05,257.15 L558.25,254.53 L558.45,252.49 L558.65,251.09 L558.85,250.39 L559.05,250.40 L559.25,251.12 L559.45,252.54 L559.65,254.60 L559.85,257.24 L560.05,260.36 L560.25,263.86 L560.45,267.64 L560.65,271.55 L560.85,275.47 L561.05,279.26 L561.25,282.81 L561.45,286.00 L561.65,288.71 L561.85,290.85 L562.05,292.36 L562.25,293.19 L562.45,293.30 L562.65,292.70 L562.85,291.41 L563.05,289.46 L563.25,286.92 L563.45,283.88 L563.65,280.44 L563.85,276.71 L564.05,272.82 L564.25,268.90 L564.45,265.08 L564.65,261.48 L564.85,258.22 L565.05,255.42 L565.25,253.16 L565.45,251.52 L565.65,250.56 L565.85,250.31 L566.05,250.77 L566.25,251.93 L566.45,253.75 L566.65,256.18 L566.85,259.13 L567.05,262.50 L567.25,266.18 L567.45,270.05 L567.65,273.98 L567.85,277.85 L568.05,281.52 L568.25,284.87 L568.45,287.80 L568.65,290.20 L568.85,292.00 L569.05,293.14 L569.25,293.57 L569.45,293.29 L569.65,292.31 L569.85,290.65 L570.05,288.38 L570.25,285.56 L570.45,282.30 L570.65,278.69 L570.85,274.86 L571.05,270.94 L571.25,267.05 L571.45,263.32 L571.65,259.87 L571.85,256.82 L572.05,254.27 L572.25,252.30 L572.45,250.98 L572.65,250.35 L572.85,250.43 L573.05,251.22 L573.25,252.70 L573.45,254.80 L573.65,257.48 L573.85,260.62 L574.05,264.15 L574.25,267.93 L574.45,271.85 L574.65,275.77 L574.85,279.57 L575.05,283.13 L575.25,286.32 L575.45,289.05 L575.65,291.22 L575.85,292.76 L576.05,293.62 L576.25,293.78 L576.45,293.23 L576.65,291.98 L576.85,290.09 L577.05,287.60 L577.25,284.61 L577.45,281.20 L577.65,277.50 L577.85,273.62 L578.05,269.69 L578.25,265.84 L578.45,262.18 L578.65,258.86 L578.85,255.96 L579.05,253.59 L579.25,251.82 L579.45,250.71 L579.65,250.30 L579.85,250.60 L580.05,251.60 L580.25,253.27 L580.45,255.55 L580.65,258.38 L580.85,261.65 L581.05,265.26 L581.25,269.09 L581.45,273.03 L581.65,276.94 L581.85,280.69 L582.05,284.17 L582.25,287.26 L582.45,289.86 L582.65,291.88 L582.85,293.27 L583.05,293.97 L583.25,293.97 L583.45,293.26 L583.65,291.86 L583.85,289.83 L584.05,287.23 L584.25,284.14 L584.45,280.66 L584.65,276.91 L584.85,273.00 L585.05,269.07 L585.25,265.24 L585.45,261.63 L585.65,258.37 L585.85,255.55 L586.05,253.27 L586.25,251.61 L586.45,250.60 L586.65,250.30 L586.85,250.71 L587.05,251.81 L587.25,253.57 L587.45,255.93 L587.65,258.82 L587.85,262.14 L588.05,265.79 L588.25,269.65 L588.45,273.60 L588.65,277.50 L588.85,281.24 L589.05,284.69 L589.25,287.74 L589.45,290.29 L589.65,292.26 L589.85,293.60 L590.05,294.25 L590.25,294.19 L590.45,293.43 L590.65,291.99 L590.85,289.92 L591.05,287.29 L591.25,284.17 L591.45,280.67 L591.65,276.91 L591.85,272.99 L592.05,269.06 L592.25,265.23 L592.45,261.62 L592.65,258.36 L592.85,255.55 L593.05,253.27 L593.25,251.61 L593.45,250.61 L593.65,250.30 L593.85,250.70 L594.05,251.80 L594.25,253.55 L594.45,255.91 L594.65,258.79 L594.85,262.11 L595.05,265.75 L595.25,269.61 L595.45,273.56 L595.65,277.48 L595.85,281.23 L596.05,284.70 L596.25,287.78 L596.45,290.37 L596.65,292.39 L596.85,293.77 L597.05,294.47 L597.25,294.47 L597.45,293.77 L597.65,292.39 L597.85,290.37 L598.05,287.79 L598.25,284.71 L598.45,281.24 L598.65,277.49 L598.85,273.58 L599.05,269.64 L599.25,265.78 L599.45,262.14 L599.65,258.82 L599.85,255.94 L600.05,253.58 L600.25,251.82 L600.45,250.72 L600.65,250.31 L600.85,250.61 L601.05,251.59 L601.25,253.25 L601.45,255.51 L601.65,258.31 L601.85,261.56 L602.05,265.16 L602.25,269.00 L602.45,272.95 L602.65,276.88 L602.85,280.68 L603.05,284.22 L603.25,287.39 L603.45,290.09 L603.65,292.24 L603.85,293.77 L604.05,294.63 L604.25,294.79 L604.45,294.25 L604.65,293.03 L604.85,291.16 L605.05,288.70 L605.25,285.74 L605.45,282.36 L605.65,278.68 L605.85,274.80 L606.05,270.86 L606.25,266.97 L606.45,263.26 L606.65,259.84 L606.85,256.83 L607.05,254.31 L607.25,252.38 L607.45,251.08 L607.65,250.46 L607.85,250.54 L608.05,251.32 L608.25,252.77 L608.45,254.84 L608.65,257.48 L608.85,260.59 L609.05,264.09 L609.25,267.86 L609.45,271.78 L609.65,275.73 L609.85,279.58 L610.05,283.23 L610.25,286.54 L610.45,289.42 L610.65,291.77 L610.85,293.53 L611.05,294.64 L611.25,295.07 L611.45,294.79 L611.65,293.83 L611.85,292.20 L612.05,289.97 L612.25,287.20 L612.45,283.97 L612.65,280.40 L612.85,276.59 L613.05,272.66 L613.25,268.73 L613.45,264.93 L613.65,261.38 L613.85,258.19 L614.05,255.45 L614.25,253.25 L614.45,251.67 L614.65,250.75 L614.85,250.52 L615.05,250.98 L615.25,252.13 L615.45,253.92 L615.65,256.31 L615.85,259.21 L616.05,262.54 L616.25,266.19 L616.45,270.05 L616.65,274.00 L616.85,277.92 L617.05,281.68 L617.25,285.16 L617.45,288.27 L617.65,290.90 L617.85,292.97 L618.05,294.41 L618.25,295.19 L618.45,295.28 L618.65,294.67 L618.85,293.39 L619.05,291.47 L619.25,288.98 L619.45,285.99 L619.65,282.59 L619.85,278.90 L620.05,275.02 L620.25,271.08 L620.45,267.19 L620.65,263.49 L620.85,260.08 L621.05,257.07 L621.25,254.56 L621.45,252.62 L621.65,251.31 L621.85,250.67 L622.05,250.72 L622.25,251.47 L622.45,252.88 L622.65,254.92 L622.85,257.52 L623.05,260.60 L623.25,264.06 L623.45,267.81 L623.65,271.72 L623.85,275.66 L624.05,279.53 L624.25,283.21 L624.45,286.56 L624.65,289.51 L624.85,291.94 L625.05,293.80 L625.25,295.02 L625.45,295.56 L625.65,295.41 L625.85,294.57 L626.05,293.07 L626.25,290.95 L626.45,288.29 L626.65,285.16 L626.85,281.65 L627.05,277.89 L627.25,273.98 L627.45,270.04 L627.65,266.21 L627.85,262.58 L628.05,259.28 L628.25,256.41 L628.45,254.05 L628.65,252.28 L628.85,251.16 L629.05,250.71 L629.25,250.96 L629.45,251.89 L629.65,253.47 L629.85,255.66 L630.05,258.39 L630.25,261.58 L630.45,265.13 L630.65,268.92 L630.85,272.85 L631.05,276.79 L631.25,280.62 L631.45,284.23 L631.65,287.50 L631.85,290.34 L632.05,292.65 L632.25,294.37 L632.45,295.44 L632.65,295.84 L632.85,295.55 L633.05,294.57 L633.25,292.94 L633.45,290.72 L633.65,287.96 L633.85,284.75 L634.05,281.19 L634.25,277.39 L634.45,273.47 L634.65,269.54 L634.85,265.73 L635.05,262.15 L635.25,258.92 L635.45,256.12 L635.65,253.85 L635.85,252.18 L636.05,251.15 L636.25,250.81 L636.45,251.15 L636.65,252.17 L636.85,253.84 L637.05,256.10 L637.25,258.89 L637.45,262.13 L637.65,265.71 L637.85,269.53 L638.05,273.46 L638.25,277.40 L638.45,281.21 L638.65,284.79 L638.85,288.02 L639.05,290.81 L639.25,293.07 L639.45,294.74 L639.65,295.76 L639.85,296.10 L640.05,295.76 L640.25,294.73 L640.45,293.06 L640.65,290.80 L640.85,288.01 L641.05,284.78 L641.25,281.20 L641.45,277.40 L641.65,273.47 L641.85,269.55 L642.05,265.74 L642.25,262.17 L642.45,258.95 L642.65,256.17 L642.85,253.92 L643.05,252.26 L643.25,251.24 L643.45,250.91 L643.65,251.26 L643.85,252.29 L644.05,253.96 L644.25,256.23 L644.45,259.02 L644.65,262.25 L644.85,265.83 L645.05,269.64 L645.25,273.58 L645.45,277.51 L645.65,281.33 L645.85,284.92 L646.05,288.16 L646.25,290.97 L646.45,293.25 L646.65,294.94 L646.85,295.99 L647.05,296.36 L647.25,296.05 L647.45,295.06 L647.65,293.43 L647.85,291.20 L648.05,288.44 L648.25,285.24 L648.45,281.69 L648.65,277.90 L648.85,273.98 L649.05,270.06 L649.25,266.25 L649.45,262.66 L649.65,259.40 L649.85,256.58 L650.05,254.27 L650.25,252.55 L650.45,251.47 L650.65,251.06 L650.85,251.34 L651.05,252.29 L651.25,253.88 L651.45,256.08 L651.65,258.81 L651.85,261.99 L652.05,265.52 L652.25,269.31 L652.45,273.23 L652.65,277.17 L652.85,281.00 L653.05,284.63 L653.25,287.93 L653.45,290.81 L653.65,293.17 L653.85,294.96 L654.05,296.12 L654.25,296.61 L654.45,296.41 L654.65,295.54 L654.85,294.02 L655.05,291.90 L655.25,289.24 L655.45,286.12 L655.65,282.63 L655.85,278.88 L656.05,274.98 L656.25,271.05 L656.45,267.21 L656.65,263.56 L656.85,260.23 L657.05,257.31 L657.25,254.89 L657.45,253.04 L657.65,251.81 L657.85,251.25 L658.05,251.36 L658.25,252.16 L658.45,253.60 L658.65,255.66 L658.85,258.26 L659.05,261.34 L659.25,264.79 L659.45,268.52 L659.65,272.41 L659.85,276.36 L660.05,280.23 L660.25,283.92 L660.45,287.31 L660.65,290.31 L660.85,292.83 L661.05,294.78 L661.25,296.12 L661.45,296.80 L661.65,296.80 L661.85,296.13 L662.05,294.79 L662.25,292.84 L662.45,290.34 L662.65,287.34 L662.85,283.96 L663.05,280.28 L663.25,276.42 L663.45,272.49 L663.65,268.61 L663.85,264.89 L664.05,261.45 L664.25,258.39 L664.45,255.79 L664.65,253.75 L664.85,252.30 L665.05,251.51 L665.25,251.40 L665.45,251.95 L665.65,253.17 L665.85,255.02 L666.05,257.43 L666.25,260.34 L666.45,263.66 L666.65,267.30 L666.85,271.14 L667.05,275.07 L667.25,278.98 L667.45,282.74 L667.65,286.25 L667.85,289.41 L668.05,292.11 L668.25,294.29 L668.45,295.87 L668.65,296.81 L668.85,297.08 L669.05,296.68 L669.25,295.61 L669.45,293.91 L669.65,291.62 L669.85,288.83 L670.05,285.60 L670.25,282.04 L670.45,278.25 L670.65,274.34 L670.85,270.43 L671.05,266.64 L671.25,263.07 L671.45,259.84 L671.65,257.03 L671.85,254.74 L672.05,253.02 L672.25,251.94 L672.45,251.52 L672.65,251.77 L672.85,252.69 L673.05,254.24 L673.25,256.40 L673.45,259.08 L673.65,262.22 L673.85,265.71 L674.05,269.46 L674.25,273.35 L674.45,277.28 L674.65,281.12 L674.85,284.76 L675.05,288.10 L675.25,291.03 L675.45,293.47 L675.65,295.35 L675.85,296.62 L676.05,297.23 L676.25,297.16 L676.45,296.43 L676.65,295.05 L676.85,293.07 L677.05,290.53 L677.25,287.53 L677.45,284.13 L677.65,280.46 L677.85,276.60 L678.05,272.69 L678.25,268.82 L678.45,265.13 L678.65,261.71 L678.85,258.66 L679.05,256.08 L679.25,254.05 L679.45,252.61 L679.65,251.82 L679.85,251.69 L680.05,252.24 L680.25,253.44 L680.45,255.26 L680.65,257.64 L680.85,260.53 L681.05,263.82 L681.25,267.43 L681.45,271.25 L681.65,275.16 L681.85,279.06 L682.05,282.83 L682.25,286.35 L682.45,289.53 L682.65,292.27 L682.85,294.49 L683.05,296.13 L683.25,297.13 L683.45,297.48 L683.65,297.16 L683.85,296.17 L684.05,294.56 L684.25,292.36 L684.45,289.64 L684.65,286.48 L684.85,282.98 L685.05,279.23 L685.25,275.34 L685.45,271.44 L685.65,267.63 L685.85,264.03 L686.05,260.73 L686.25,257.85 L686.45,255.46 L686.65,253.63 L686.85,252.41 L687.05,251.85 L687.25,251.95 L687.45,252.72 L687.65,254.13 L687.85,256.15 L688.05,258.70 L688.25,261.72 L688.45,265.13 L688.65,268.81 L688.85,272.67 L689.05,276.58 L689.25,280.44 L689.45,284.14 L689.65,287.56 L689.85,290.61 L690.05,293.19 L690.25,295.24 L690.45,296.69 L690.65,297.51 L690.85,297.65 L691.05,297.14 L691.25,295.97 L691.45,294.18 L691.65,291.83 L691.85,288.98 L692.05,285.72 L692.25,282.14 L692.45,278.35 L692.65,274.46 L692.85,270.57 L693.05,266.81 L693.25,263.29 L693.45,260.10 L693.65,257.34 L693.85,255.09 L694.05,253.41 L694.25,252.36 L694.45,251.96 L694.65,252.23 L694.85,253.16 L695.05,254.72 L695.25,256.87 L695.45,259.54 L695.65,262.65 L695.85,266.12 L696.05,269.85 L696.25,273.72 L696.45,277.63 L696.65,281.46 L696.85,285.10 L697.05,288.45 L697.25,291.40 L697.45,293.87 L697.65,295.80 L697.85,297.11 L698.05,297.79 L698.25,297.80 L698.45,297.15 L698.65,295.86 L698.85,293.96 L699.05,291.51 L699.25,288.58 L699.45,285.25 L699.65,281.63 L699.85,277.82 L700.05,273.92 L700.25,270.06 L700.45,266.34 L700.65,262.87 L700.85,259.75 L701.05,257.07 L701.25,254.92 L701.45,253.35 L701.65,252.40 L701.85,252.11 L702.05,252.49 L702.25,253.51 L702.45,255.17 L702.65,257.39 L702.85,260.13 L703.05,263.30 L703.25,266.81 L703.45,270.56 L703.65,274.44 L703.85,278.34 L704.05,282.15 L704.25,285.75 L704.45,289.04 L704.65,291.94 L704.85,294.34 L705.05,296.19 L705.25,297.43 L705.45,298.03 L705.65,297.96 L705.85,297.23 L706.05,295.87 L706.25,293.91 L706.45,291.41 L706.65,288.43 L706.85,285.08 L707.05,281.44 L707.25,277.61 L707.45,273.72 L707.65,269.87 L707.85,266.17 L708.05,262.73 L708.25,259.65 L708.45,257.02 L708.65,254.92 L708.85,253.40 L709.05,252.51 L709.25,252.27 L709.45,252.69 L709.65,253.77 L709.85,255.46 L710.05,257.72 L710.25,260.49 L710.45,263.68 L710.65,267.21 L710.85,270.97 L711.05,274.85 L711.25,278.74 L711.45,282.53 L711.65,286.12 L711.85,289.39 L712.05,292.26 L712.25,294.63 L712.45,296.45 L712.65,297.67 L712.85,298.24 L713.05,298.14 L713.25,297.40 L713.45,296.01 L713.65,294.04 L713.85,291.52 L714.05,288.54 L714.25,285.18 L714.45,281.53 L714.65,277.71 L714.85,273.82 L715.05,269.97 L715.25,266.28 L715.45,262.85 L715.65,259.78 L715.85,257.16 L716.05,255.06 L716.25,253.54 L716.45,252.65 L716.65,252.41 L716.85,252.83 L717.05,253.90 L717.25,255.59 L717.45,257.84 L717.65,260.60 L717.85,263.79 L718.05,267.31 L718.25,271.06 L718.45,274.94 L718.65,278.83 L718.85,282.63 L719.05,286.22 L719.25,289.50 L719.45,292.37 L719.65,294.77 L719.85,296.60 L720.05,297.84 L720.25,298.43 L720.45,298.36 L720.65,297.64 L720.85,296.28 L721.05,294.32 L721.25,291.82 L721.45,288.86 L721.65,285.51 L721.85,281.87 L722.05,278.05 L722.25,274.16 L722.45,270.30 L722.65,266.59 L722.85,263.14 L723.05,260.03 L723.25,257.38 L723.45,255.24 L723.65,253.68 L723.85,252.74 L724.05,252.46 L724.25,252.83 L724.45,253.86 L724.65,255.50 L724.85,257.72 L725.05,260.45 L725.25,263.61 L725.45,267.11 L725.65,270.85 L725.85,274.73 L726.05,278.63 L726.25,282.44 L726.45,286.06 L726.65,289.38 L726.85,292.30 L727.05,294.75 L727.25,296.64 L727.45,297.94 L727.65,298.60 L727.85,298.60 L728.05,297.94 L728.25,296.64 L728.45,294.75 L728.65,292.30 L728.85,289.38 L729.05,286.06 L729.25,282.45 L729.45,278.64 L729.65,274.74 L729.85,270.87 L730.05,267.13 L730.25,263.63 L730.45,260.48 L730.65,257.75 L730.85,255.54 L731.05,253.90 L731.25,252.88 L731.45,252.51 L731.65,252.79 L731.85,253.73 L732.05,255.30 L732.25,257.44 L732.45,260.11 L732.65,263.22 L732.85,266.68 L733.05,270.40 L733.25,274.27 L733.45,278.18 L733.65,282.02 L733.85,285.68 L734.05,289.06 L734.25,292.05 L734.45,294.58 L734.65,296.58 L734.85,297.97 L735.05,298.74 L735.25,298.84 L735.45,298.29 L735.65,297.10 L735.85,295.30 L736.05,292.94 L736.25,290.09 L736.45,286.83 L736.65,283.25 L736.85,279.46 L737.05,275.56 L737.25,271.67 L737.45,267.89 L737.65,264.34 L737.85,261.11 L738.05,258.29 L738.25,255.97 L738.45,254.22 L738.65,253.08 L738.85,252.58 L739.05,252.74 L739.25,253.56 L739.45,255.00 L739.65,257.04 L739.85,259.61 L740.05,262.65 L740.25,266.05 L740.45,269.73 L740.65,273.59 L740.85,277.51 L741.05,281.38 L741.25,285.09 L741.45,288.54 L741.65,291.63 L741.85,294.27 L742.05,296.39 L742.25,297.92 L742.45,298.83 L742.65,299.08 L742.85,298.67 L743.05,297.62 L743.25,295.94 L743.45,293.70 L743.65,290.94 L743.85,287.76 L744.05,284.24 L744.25,280.48 L744.45,276.59 L744.65,272.68 L744.85,268.86 L745.05,265.24 L745.25,261.92 L745.45,258.99 L745.65,256.54 L745.85,254.64 L746.05,253.35 L746.25,252.69 L746.45,252.69 L746.65,253.35 L746.85,254.65 L747.05,256.55 L747.25,259.00 L747.45,261.93 L747.65,265.25 L747.85,268.88 L748.05,272.71 L748.25,276.63 L748.45,280.54 L748.65,284.31 L748.85,287.84 L749.05,291.04 L749.25,293.81 L749.45,296.08 L749.65,297.77 L749.85,298.85 L750.05,299.28 L750.25,299.05 L750.45,298.16 L750.65,296.65 L750.85,294.55 L751.05,291.92 L751.25,288.84 L751.45,285.40 L751.65,281.69 L751.85,277.81 L752.05,273.89 L752.25,270.02 L752.45,266.33 L752.65,262.90 L752.85,259.85 L753.05,257.25 L753.25,255.19 L753.45,253.71 L753.65,252.86 L753.85,252.67 L754.05,253.14 L754.25,254.26 L754.45,255.99 L754.65,258.29 L754.85,261.10 L755.05,264.32 L755.25,267.88 L755.45,271.67 L755.65,275.58 L755.85,279.51 L756.05,283.34 L756.25,286.97 L756.45,290.28 L756.65,293.20 L756.85,295.63 L757.05,297.51 L757.25,298.79 L757.45,299.42 L757.65,299.39 L757.85,298.70 L758.05,297.38 L758.25,295.45 L758.45,292.97 L758.65,290.01 L758.85,286.66 L759.05,283.02 L759.25,279.18 L759.45,275.25 L759.65,271.34 L759.85,267.57 L760.05,264.05 L760.25,260.86 L760.45,258.10 L760.65,255.85 L760.85,254.17 L761.05,253.11 L761.25,252.70 L761.45,252.96 L761.65,253.86 L761.85,255.40 L762.05,257.51 L762.25,260.16 L762.45,263.25 L762.65,266.71 L762.85,270.43 L763.05,274.31 L763.25,278.24 L763.45,282.11 L763.65,285.82 L763.85,289.25 L764.05,292.30 L764.25,294.90 L764.45,296.97 L764.65,298.45 L764.85,299.31 L765.05,299.50 L765.25,299.04 L765.45,297.93 L765.65,296.20 L765.85,293.91 L766.05,291.11 L766.25,287.89 L766.45,284.34 L766.65,280.56 L766.85,276.65 L767.05,272.72 L767.25,268.89 L767.45,265.27 L767.65,261.95 L767.85,259.03 L768.05,256.59 L768.25,254.70 L768.45,253.42 L768.65,252.78 L768.85,252.79 L769.05,253.46 L769.25,254.77 L769.45,256.68 L769.65,259.14 L769.85,262.08 L770.05,265.41 L770.25,269.05 L770.45,272.88 L770.65,276.81 L770.85,280.71 L771.05,284.49 L771.25,288.03 L771.45,291.23 L771.65,294.01 L771.85,296.28 L772.05,297.99 L772.25,299.08 L772.45,299.52 L772.65,299.30 L772.85,298.43 L773.05,296.93 L773.25,294.85 L773.45,292.23 L773.65,289.16 L773.85,285.73 L774.05,282.02 L774.25,278.15 L774.45,274.22 L774.65,270.34 L774.85,266.63 L775.05,263.18 L775.25,260.10 L775.45,257.47 L775.65,255.36 L775.85,253.84 L776.05,252.95 L776.25,252.71 L776.45,253.12 L776.65,254.19 L776.85,255.87 L777.05,258.13 L777.25,260.89 L777.45,264.08 L777.65,267.60 L777.85,271.37 L778.05,275.27 L778.25,279.20 L778.45,283.04 L778.65,286.68 L778.85,290.03 L779.05,292.99 L779.25,295.47 L779.45,297.40 L779.65,298.74 L779.85,299.44 L780.05,299.48 L780.25,298.87 L780.45,297.62 L780.65,295.76 L780.85,293.35 L781.05,290.45 L781.25,287.15 L781.45,283.54 L781.65,279.72 L781.85,275.80 L782.05,271.89 L782.25,268.10 L782.45,264.53 L782.65,261.29 L782.85,258.47 L783.05,256.15 L783.25,254.38 L783.45,253.23 L783.65,252.72 L783.85,252.88 L784.05,253.68 L784.25,255.12 L784.45,257.15 L784.65,259.71 L784.85,262.73 L785.05,266.14 L785.25,269.82 L785.45,273.68 L785.65,277.61 L785.85,281.49 L786.05,285.23 L786.25,288.71 L786.45,291.84 L786.65,294.52 L786.85,296.69 L787.05,298.28 L787.25,299.25 L787.45,299.56 L787.65,299.22 L787.85,298.22 L788.05,296.61 L788.25,294.42 L788.45,291.71 L788.65,288.57 L788.85,285.08 L789.05,281.33 L789.25,277.44 L789.45,273.51 L789.65,269.66 L789.85,265.99 L790.05,262.60 L790.25,259.59 L790.45,257.05 L790.65,255.05 L790.85,253.63 L791.05,252.86 L791.25,252.73 L791.45,253.27 L791.65,254.44 L791.85,256.23 L792.05,258.58 L792.25,261.42 L792.45,264.68 L792.65,268.25 L792.85,272.05 L793.05,275.97 L793.25,279.89 L793.45,283.70 L793.65,287.30 L793.85,290.59 L794.05,293.47 L794.25,295.86 L794.45,297.70 L794.65,298.93 L794.85,299.52 L795.05,299.46 L795.25,298.74 L795.45,297.38 L795.65,295.42 L795.85,292.93 L796.05,289.96 L796.25,286.60 L796.45,282.95 L796.65,279.10 L796.85,275.18 L797.05,271.28 L797.25,267.51 L797.45,263.99 L797.65,260.81 L797.85,258.06 L798.05,255.82 L798.25,254.16 L798.45,253.11 L798.65,252.70 L798.85,252.96 L799.05,253.87 L799.25,255.40 L799.45,257.52 L799.65,260.17 L799.85,263.26 L800.05,266.71 L800.25,270.43 L800.45,274.31 L800.65,278.24 L800.85,282.11 L801.05,285.82 L801.25,289.25 L801.45,292.32 L801.65,294.93 L801.85,297.01 L802.05,298.50 L802.25,299.37 L802.45,299.58 L802.65,299.14 L802.85,298.04 L803.05,296.33 L803.25,294.06 L803.45,291.28 L803.65,288.07 L803.85,284.53 L804.05,280.75 L804.25,276.85 L804.45,272.92 L804.65,269.08 L804.85,265.45 L805.20,259.86" stroke="#0000ff" stroke-width="1.3" fill="none" stroke-linejoin="round" clip-path="url(#c2)"/>
<text x="77.2" y="16.45" text-anchor="end">0.5</text>
<text x="77.2" y="37.07" text-anchor="end">0</text>
<text x="77.2" y="57.70" text-anchor="end">0.5</text>
<rect x="32.55" y="51.80" width="13.6" height="1.15"/>
<text x="77.2" y="78.32" text-anchor="end">1</text>
<rect x="49.80" y="72.42" width="13.6" height="1.15"/>
<text x="77.2" y="98.94" text-anchor="end">1.5</text>
<rect x="32.55" y="93.04" width="13.6" height="1.15"/>
<text x="77.2" y="119.56" text-anchor="end">2</text>
<rect x="49.80" y="113.66" width="13.6" height="1.15"/>
<text x="77.2" y="140.19" text-anchor="end">2.5</text>
<rect x="32.55" y="134.29" width="13.6" height="1.15"/>
<text x="77.2" y="160.81" text-anchor="end">3</text>
<rect x="49.80" y="154.91" width="13.6" height="1.15"/>
<text x="77.2" y="181.43" text-anchor="end">3.5</text>
<rect x="32.55" y="175.53" width="13.6" height="1.15"/>
<text x="77.2" y="202.05" text-anchor="end">4</text>
<rect x="49.80" y="196.15" width="13.6" height="1.15"/>
<text x="77.2" y="222.68" text-anchor="end">4.5</text>
<rect x="32.55" y="216.78" width="13.6" height="1.15"/>
<text x="77.2" y="243.30" text-anchor="end">5</text>
<rect x="49.80" y="237.40" width="13.6" height="1.15"/>
<text x="77.2" y="481.60" text-anchor="end">0.1</text>
<text x="77.2" y="458.85" text-anchor="end">0.2</text>
<text x="77.2" y="436.10" text-anchor="end">0.3</text>
<text x="77.2" y="413.35" text-anchor="end">0.4</text>
<text x="77.2" y="390.60" text-anchor="end">0.5</text>
<text x="77.2" y="367.85" text-anchor="end">0.6</text>
<text x="77.2" y="345.10" text-anchor="end">0.7</text>
<text x="77.2" y="322.35" text-anchor="end">0.8</text>
<text x="77.2" y="299.60" text-anchor="end">0.9</text>
<text x="77.2" y="276.85" text-anchor="end">1</text>
<text x="91.05" y="504.9" text-anchor="middle">0</text>
<text x="234.00" y="504.9" text-anchor="middle">50</text>
<text x="376.85" y="504.9" text-anchor="middle">100</text>
<text x="519.80" y="504.9" text-anchor="middle">150</text>
<text x="662.65" y="504.9" text-anchor="middle">200</text>
<text x="805.60" y="504.9" text-anchor="middle">250</text>
<text x="421.8" y="516.6">time</text>
<text x="466.6" y="516.6" font-style="italic">t</text>
<g transform="translate(17.0,142.65) rotate(-90)"><text x="0.0" y="0" font-style="italic">x</text><path d="M18.45,-17.40C12.18,-10.62 12.18,-1.58 18.45,5.20C13.98,-1.58 13.98,-10.62 18.45,-17.40Z" fill="#000" stroke="#000" stroke-width="0.45" stroke-linejoin="round"/><text x="18.9" y="0" font-style="italic">t</text><path d="M28.65,-17.40C35.12,-10.62 35.12,-1.58 28.65,5.20C33.32,-1.58 33.32,-10.62 28.65,-17.40Z" fill="#000" stroke="#000" stroke-width="0.45" stroke-linejoin="round"/></g>
<g transform="translate(30.1,382.4) rotate(-90)"><text transform="translate(0.9,0) scale(0.92,1)" font-style="italic">A</text><path d="M22.30,-17.40C15.10,-10.62 15.10,-1.58 22.30,5.20C16.90,-1.58 16.90,-10.62 22.30,-17.40Z" fill="#000" stroke="#000" stroke-width="0.45" stroke-linejoin="round"/><text x="22.4" y="0" font-style="italic">t</text><path d="M31.80,-17.40C38.87,-10.62 38.87,-1.58 31.80,5.20C37.07,-1.58 37.07,-10.62 31.80,-17.40Z" fill="#000" stroke="#000" stroke-width="0.45" stroke-linejoin="round"/></g>
<text x="488.9" y="35.4">path of the soliton</text>
<text x="660.4" y="35.4" font-style="italic">X</text>
<path d="M683.80,17.85C676.73,24.63 676.73,33.67 683.80,40.45C678.53,33.67 678.53,24.63 683.80,17.85Z" fill="#000" stroke="#000" stroke-width="0.45" stroke-linejoin="round"/>
<text x="685.3" y="35.4" font-style="italic">t</text>
<path d="M694.20,17.85C701.27,24.63 701.27,33.67 694.20,40.45C699.47,33.67 699.47,24.63 694.20,17.85Z" fill="#000" stroke="#000" stroke-width="0.45" stroke-linejoin="round"/>
<path d="M715.3,28.9H777.7" stroke="#000" stroke-width="1.3"/>
<text x="562.3" y="356.7">Amplitude</text>
<rect x="667.95" y="340.20" width="1.1" height="22.3"/>
<text x="671.9" y="356.7" font-style="italic">A</text>
<text x="686.6" y="359.80" font-size="15.6">1</text>
<rect x="698.15" y="340.20" width="1.1" height="22.3"/>
<path d="M715.3,350.7H777.7" stroke="#ff0000" stroke-width="1.3"/>
<text x="562.3" y="379.7">Amplitude</text>
<rect x="667.95" y="363.20" width="1.1" height="22.3"/>
<text x="671.9" y="379.7" font-style="italic">A</text>
<text x="686.6" y="382.80" font-size="15.6">2</text>
<rect x="698.15" y="363.20" width="1.1" height="22.3"/>
<path d="M715.3,373.9H777.7" stroke="#0000ff" stroke-width="1.3"/>
</svg>
</body></html>
